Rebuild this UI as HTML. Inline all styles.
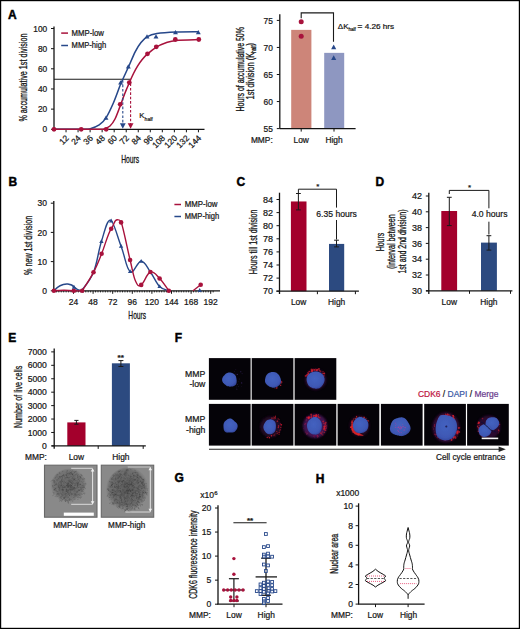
<!DOCTYPE html>
<html><head><meta charset="utf-8"><style>
html,body{margin:0;padding:0;background:#fff;}
svg{display:block;}
text{font-family:"Liberation Sans",sans-serif;stroke:#161616;stroke-width:0.22px;}
text.t{stroke:#161616;stroke-width:0.3px;}
text.L{stroke:#000;stroke-width:0.45px;}
</style></head><body>
<svg width="520" height="629" viewBox="0 0 520 629">
<rect x="0" y="0" width="520" height="629" fill="#fff"/>
<text x="8.00" y="18.70" font-size="12" text-anchor="start" fill="#000" font-weight="bold" class="L" >A</text>
<line x1="54.00" y1="79.20" x2="130.80" y2="79.20" stroke="#1a1a1a" stroke-width="1.1" />
<line x1="54.00" y1="26.50" x2="54.00" y2="129.30" stroke="#141414" stroke-width="1.3" />
<line x1="51.00" y1="129.30" x2="54.00" y2="129.30" stroke="#141414" stroke-width="1" />
<text x="47.20" y="132.40" font-size="8.3" text-anchor="end" fill="#161616" font-weight="normal" >0</text>
<line x1="51.00" y1="109.14" x2="54.00" y2="109.14" stroke="#141414" stroke-width="1" />
<text x="47.20" y="112.24" font-size="8.3" text-anchor="end" fill="#161616" font-weight="normal" >20</text>
<line x1="51.00" y1="88.98" x2="54.00" y2="88.98" stroke="#141414" stroke-width="1" />
<text x="47.20" y="92.08" font-size="8.3" text-anchor="end" fill="#161616" font-weight="normal" >40</text>
<line x1="51.00" y1="68.82" x2="54.00" y2="68.82" stroke="#141414" stroke-width="1" />
<text x="47.20" y="71.92" font-size="8.3" text-anchor="end" fill="#161616" font-weight="normal" >60</text>
<line x1="51.00" y1="48.66" x2="54.00" y2="48.66" stroke="#141414" stroke-width="1" />
<text x="47.20" y="51.76" font-size="8.3" text-anchor="end" fill="#161616" font-weight="normal" >80</text>
<line x1="51.00" y1="28.50" x2="54.00" y2="28.50" stroke="#141414" stroke-width="1" />
<text x="47.20" y="31.60" font-size="8.3" text-anchor="end" fill="#161616" font-weight="normal" >100</text>
<line x1="54.00" y1="129.30" x2="204.50" y2="129.30" stroke="#141414" stroke-width="1.3" />
<line x1="66.04" y1="129.30" x2="66.04" y2="132.30" stroke="#141414" stroke-width="1" />
<text x="69.44" y="138.60" font-size="8.5" text-anchor="end" fill="#161616" font-weight="normal" transform="rotate(-45 69.44 138.60)" >12</text>
<line x1="78.07" y1="129.30" x2="78.07" y2="132.30" stroke="#141414" stroke-width="1" />
<text x="81.47" y="138.60" font-size="8.5" text-anchor="end" fill="#161616" font-weight="normal" transform="rotate(-45 81.47 138.60)" >24</text>
<line x1="90.11" y1="129.30" x2="90.11" y2="132.30" stroke="#141414" stroke-width="1" />
<text x="93.51" y="138.60" font-size="8.5" text-anchor="end" fill="#161616" font-weight="normal" transform="rotate(-45 93.51 138.60)" >36</text>
<line x1="102.14" y1="129.30" x2="102.14" y2="132.30" stroke="#141414" stroke-width="1" />
<text x="105.54" y="138.60" font-size="8.5" text-anchor="end" fill="#161616" font-weight="normal" transform="rotate(-45 105.54 138.60)" >48</text>
<line x1="114.18" y1="129.30" x2="114.18" y2="132.30" stroke="#141414" stroke-width="1" />
<text x="117.58" y="138.60" font-size="8.5" text-anchor="end" fill="#161616" font-weight="normal" transform="rotate(-45 117.58 138.60)" >60</text>
<line x1="126.22" y1="129.30" x2="126.22" y2="132.30" stroke="#141414" stroke-width="1" />
<text x="129.62" y="138.60" font-size="8.5" text-anchor="end" fill="#161616" font-weight="normal" transform="rotate(-45 129.62 138.60)" >72</text>
<line x1="138.25" y1="129.30" x2="138.25" y2="132.30" stroke="#141414" stroke-width="1" />
<text x="141.65" y="138.60" font-size="8.5" text-anchor="end" fill="#161616" font-weight="normal" transform="rotate(-45 141.65 138.60)" >84</text>
<line x1="150.29" y1="129.30" x2="150.29" y2="132.30" stroke="#141414" stroke-width="1" />
<text x="153.69" y="138.60" font-size="8.5" text-anchor="end" fill="#161616" font-weight="normal" transform="rotate(-45 153.69 138.60)" >96</text>
<line x1="162.32" y1="129.30" x2="162.32" y2="132.30" stroke="#141414" stroke-width="1" />
<text x="165.72" y="138.60" font-size="8.5" text-anchor="end" fill="#161616" font-weight="normal" transform="rotate(-45 165.72 138.60)" >108</text>
<line x1="174.36" y1="129.30" x2="174.36" y2="132.30" stroke="#141414" stroke-width="1" />
<text x="177.76" y="138.60" font-size="8.5" text-anchor="end" fill="#161616" font-weight="normal" transform="rotate(-45 177.76 138.60)" >120</text>
<line x1="186.40" y1="129.30" x2="186.40" y2="132.30" stroke="#141414" stroke-width="1" />
<text x="189.80" y="138.60" font-size="8.5" text-anchor="end" fill="#161616" font-weight="normal" transform="rotate(-45 189.80 138.60)" >132</text>
<line x1="198.43" y1="129.30" x2="198.43" y2="132.30" stroke="#141414" stroke-width="1" />
<text x="201.83" y="138.60" font-size="8.5" text-anchor="end" fill="#161616" font-weight="normal" transform="rotate(-45 201.83 138.60)" >144</text>
<path d="M54.00 129.30C58.67 129.30 76.07 129.37 82.00 129.30C87.93 129.23 86.73 129.63 89.60 128.90C92.47 128.17 96.47 126.75 99.20 124.90C101.93 123.05 103.58 121.58 106.00 117.80C108.42 114.02 111.22 107.92 113.70 102.20C116.18 96.48 118.50 89.23 120.90 83.50C123.30 77.77 125.70 73.12 128.10 67.80C130.50 62.48 133.15 55.82 135.30 51.60C137.45 47.38 139.00 45.00 141.00 42.50C143.00 40.00 144.65 38.08 147.30 36.60C149.95 35.12 152.08 34.35 156.90 33.60C161.72 32.85 169.18 32.40 176.20 32.10C183.22 31.80 195.20 31.85 199.00 31.80" stroke="#27488a" stroke-width="1.55" fill="none" />
<path d="M54.00 129.30C61.00 129.30 87.67 129.37 96.00 129.30C104.33 129.23 101.67 129.45 104.00 128.90C106.33 128.35 108.17 127.65 110.00 126.00C111.83 124.35 113.33 122.25 115.00 119.00C116.67 115.75 118.40 110.67 120.00 106.50C121.60 102.33 123.05 97.97 124.60 94.00C126.15 90.03 127.82 86.12 129.30 82.70C130.78 79.28 132.10 76.30 133.50 73.50C134.90 70.70 136.28 68.20 137.70 65.90C139.12 63.60 140.40 61.65 142.00 59.70C143.60 57.75 144.90 56.30 147.30 54.20C149.70 52.10 153.28 49.00 156.40 47.10C159.52 45.20 162.70 43.92 166.00 42.80C169.30 41.68 170.70 40.93 176.20 40.40C181.70 39.87 195.20 39.73 199.00 39.60" stroke="#a8123c" stroke-width="1.55" fill="none" />
<line x1="122.80" y1="80.20" x2="122.80" y2="125.50" stroke="#27488a" stroke-width="1.1" stroke-dasharray="2.6,1.8" />
<path d="M119.9 123.2L125.7 123.2L122.8 128.8Z" fill="#27488a"/>
<line x1="130.60" y1="83.50" x2="130.60" y2="125.50" stroke="#a8123c" stroke-width="1.1" stroke-dasharray="2.6,1.8" />
<path d="M127.7 123.2L133.5 123.2L130.6 128.8Z" fill="#a8123c"/>
<circle cx="54.00" cy="129.30" r="2.4" fill="#a8123c"/>
<circle cx="81.20" cy="129.30" r="2.4" fill="#a8123c"/>
<circle cx="106.20" cy="129.30" r="2.4" fill="#a8123c"/>
<circle cx="120.20" cy="104.30" r="2.4" fill="#a8123c"/>
<circle cx="129.30" cy="82.60" r="2.4" fill="#a8123c"/>
<circle cx="147.50" cy="53.80" r="2.4" fill="#a8123c"/>
<circle cx="156.30" cy="46.80" r="2.4" fill="#a8123c"/>
<circle cx="175.30" cy="39.50" r="2.4" fill="#a8123c"/>
<circle cx="198.80" cy="39.50" r="2.4" fill="#a8123c"/>
<path d="M106.00 115.40L108.47 119.82L103.53 119.82Z" fill="#27488a"/>
<path d="M120.60 80.20L123.07 84.62L118.13 84.62Z" fill="#27488a"/>
<path d="M128.30 64.20L130.77 68.62L125.83 68.62Z" fill="#27488a"/>
<path d="M147.00 34.20L149.47 38.62L144.53 38.62Z" fill="#27488a"/>
<path d="M156.00 34.20L158.47 38.62L153.53 38.62Z" fill="#27488a"/>
<path d="M175.50 29.90L177.97 34.32L173.03 34.32Z" fill="#27488a"/>
<path d="M198.30 29.90L200.77 34.32L195.83 34.32Z" fill="#27488a"/>
<text x="139.30" y="118.40" font-size="7.8" text-anchor="start" fill="#161616" font-weight="normal" >K</text>
<text x="144.60" y="121.00" font-size="5.4" text-anchor="start" fill="#161616" font-weight="normal" textLength="8.2" lengthAdjust="spacingAndGlyphs" >half</text>
<text x="130.20" y="163.20" font-size="10.6" text-anchor="middle" fill="#161616" font-weight="normal" textLength="18" lengthAdjust="spacingAndGlyphs" class="t" >Hours</text>
<text x="26.80" y="77.60" font-size="10.6" text-anchor="middle" fill="#161616" font-weight="normal" textLength="88" lengthAdjust="spacingAndGlyphs" transform="rotate(-90 26.80 77.60)" class="t" >% accumulative 1st division</text>
<line x1="61.20" y1="33.10" x2="68.00" y2="33.10" stroke="#a8123c" stroke-width="1.5" />
<text x="71.60" y="36.00" font-size="8.2" text-anchor="start" fill="#161616" font-weight="normal" textLength="32.3" lengthAdjust="spacingAndGlyphs" >MMP-low</text>
<line x1="61.20" y1="45.50" x2="68.00" y2="45.50" stroke="#27488a" stroke-width="1.5" />
<text x="71.60" y="47.80" font-size="8.2" text-anchor="start" fill="#161616" font-weight="normal" textLength="34.6" lengthAdjust="spacingAndGlyphs" >MMP-high</text>
<rect x="291.2" y="29.87" width="20.2" height="98.73" fill="#cd8579"/>
<rect x="324.2" y="52.86" width="20" height="75.74" fill="#8e97c1"/>
<line x1="279.80" y1="14.20" x2="279.80" y2="128.60" stroke="#141414" stroke-width="1.3" />
<line x1="276.80" y1="128.60" x2="279.80" y2="128.60" stroke="#141414" stroke-width="1" />
<text x="272.80" y="131.70" font-size="8.4" text-anchor="end" fill="#161616" font-weight="normal" >55</text>
<line x1="276.80" y1="101.55" x2="279.80" y2="101.55" stroke="#141414" stroke-width="1" />
<text x="272.80" y="104.65" font-size="8.4" text-anchor="end" fill="#161616" font-weight="normal" >60</text>
<line x1="276.80" y1="74.50" x2="279.80" y2="74.50" stroke="#141414" stroke-width="1" />
<text x="272.80" y="77.60" font-size="8.4" text-anchor="end" fill="#161616" font-weight="normal" >65</text>
<line x1="276.80" y1="47.45" x2="279.80" y2="47.45" stroke="#141414" stroke-width="1" />
<text x="272.80" y="50.55" font-size="8.4" text-anchor="end" fill="#161616" font-weight="normal" >70</text>
<line x1="276.80" y1="20.40" x2="279.80" y2="20.40" stroke="#141414" stroke-width="1" />
<text x="272.80" y="23.50" font-size="8.4" text-anchor="end" fill="#161616" font-weight="normal" >75</text>
<line x1="279.80" y1="128.60" x2="355.60" y2="128.60" stroke="#141414" stroke-width="1.3" />
<line x1="301.20" y1="128.60" x2="301.20" y2="131.60" stroke="#141414" stroke-width="1" />
<line x1="334.00" y1="128.60" x2="334.00" y2="131.60" stroke="#141414" stroke-width="1" />
<circle cx="301.20" cy="21.80" r="2.5" fill="#a8123c"/>
<circle cx="301.20" cy="36.30" r="2.5" fill="#a8123c"/>
<path d="M333.70 44.60L336.26 49.19L331.13 49.19Z" fill="#27488a"/>
<path d="M333.70 55.30L336.26 59.89L331.13 59.89Z" fill="#27488a"/>
<path d="M301.2 18.2V12.9H333.5V41.8" stroke="#1a1a1a" stroke-width="1.1" fill="none" />
<text x="337.80" y="28.90" font-size="8.0" text-anchor="start" fill="#161616" font-weight="normal" >ΔK</text>
<text x="348.40" y="30.80" font-size="5.2" text-anchor="start" fill="#161616" font-weight="normal" textLength="7.5" lengthAdjust="spacingAndGlyphs" >half</text>
<text x="357.60" y="28.90" font-size="8.0" text-anchor="start" fill="#161616" font-weight="normal" textLength="36.6" lengthAdjust="spacingAndGlyphs" >= 4.26 hrs</text>
<text x="250.90" y="142.70" font-size="8.4" text-anchor="start" fill="#161616" font-weight="normal" >MMP:</text>
<text x="301.20" y="142.70" font-size="8.4" text-anchor="middle" fill="#161616" font-weight="normal" >Low</text>
<text x="334.00" y="142.70" font-size="8.4" text-anchor="middle" fill="#161616" font-weight="normal" >High</text>
<text x="243.60" y="69.30" font-size="10.6" text-anchor="middle" fill="#161616" font-weight="normal" textLength="84.2" lengthAdjust="spacingAndGlyphs" transform="rotate(-90 243.60 69.30)" class="t" >Hours of accumulative 50%</text>
<text class="t" transform="translate(254 71.2) rotate(-90)" font-size="10.6" text-anchor="middle" fill="#161616" textLength="56.5" lengthAdjust="spacingAndGlyphs">1st division (K<tspan font-size="6.5" dy="2">half</tspan><tspan dy="-2">)</tspan></text>
<text x="8.40" y="185.90" font-size="12" text-anchor="start" fill="#000" font-weight="bold" class="L" >B</text>
<line x1="53.80" y1="201.00" x2="53.80" y2="290.80" stroke="#141414" stroke-width="1.3" />
<line x1="50.80" y1="290.80" x2="53.80" y2="290.80" stroke="#141414" stroke-width="1" />
<text x="46.90" y="293.90" font-size="8.5" text-anchor="end" fill="#161616" font-weight="normal" >0</text>
<line x1="50.80" y1="261.60" x2="53.80" y2="261.60" stroke="#141414" stroke-width="1" />
<text x="46.90" y="264.70" font-size="8.5" text-anchor="end" fill="#161616" font-weight="normal" >10</text>
<line x1="50.80" y1="232.40" x2="53.80" y2="232.40" stroke="#141414" stroke-width="1" />
<text x="46.90" y="235.50" font-size="8.5" text-anchor="end" fill="#161616" font-weight="normal" >20</text>
<line x1="50.80" y1="203.20" x2="53.80" y2="203.20" stroke="#141414" stroke-width="1" />
<text x="46.90" y="206.30" font-size="8.5" text-anchor="end" fill="#161616" font-weight="normal" >30</text>
<line x1="53.80" y1="290.80" x2="220.00" y2="290.80" stroke="#141414" stroke-width="1.3" />
<line x1="56.35" y1="290.80" x2="56.35" y2="292.40" stroke="#141414" stroke-width="0.9" />
<line x1="58.80" y1="290.80" x2="58.80" y2="292.40" stroke="#141414" stroke-width="0.9" />
<line x1="61.25" y1="290.80" x2="61.25" y2="292.40" stroke="#141414" stroke-width="0.9" />
<line x1="63.70" y1="290.80" x2="63.70" y2="292.40" stroke="#141414" stroke-width="0.9" />
<line x1="66.15" y1="290.80" x2="66.15" y2="292.40" stroke="#141414" stroke-width="0.9" />
<line x1="68.60" y1="290.80" x2="68.60" y2="292.40" stroke="#141414" stroke-width="0.9" />
<line x1="71.05" y1="290.80" x2="71.05" y2="292.40" stroke="#141414" stroke-width="0.9" />
<line x1="73.50" y1="290.80" x2="73.50" y2="293.80" stroke="#141414" stroke-width="1" />
<line x1="75.95" y1="290.80" x2="75.95" y2="292.40" stroke="#141414" stroke-width="0.9" />
<line x1="78.40" y1="290.80" x2="78.40" y2="292.40" stroke="#141414" stroke-width="0.9" />
<line x1="80.85" y1="290.80" x2="80.85" y2="292.40" stroke="#141414" stroke-width="0.9" />
<line x1="83.30" y1="290.80" x2="83.30" y2="292.40" stroke="#141414" stroke-width="0.9" />
<line x1="85.75" y1="290.80" x2="85.75" y2="292.40" stroke="#141414" stroke-width="0.9" />
<line x1="88.20" y1="290.80" x2="88.20" y2="292.40" stroke="#141414" stroke-width="0.9" />
<line x1="90.65" y1="290.80" x2="90.65" y2="292.40" stroke="#141414" stroke-width="0.9" />
<line x1="93.10" y1="290.80" x2="93.10" y2="293.80" stroke="#141414" stroke-width="1" />
<line x1="95.55" y1="290.80" x2="95.55" y2="292.40" stroke="#141414" stroke-width="0.9" />
<line x1="98.00" y1="290.80" x2="98.00" y2="292.40" stroke="#141414" stroke-width="0.9" />
<line x1="100.45" y1="290.80" x2="100.45" y2="292.40" stroke="#141414" stroke-width="0.9" />
<line x1="102.90" y1="290.80" x2="102.90" y2="292.40" stroke="#141414" stroke-width="0.9" />
<line x1="105.35" y1="290.80" x2="105.35" y2="292.40" stroke="#141414" stroke-width="0.9" />
<line x1="107.80" y1="290.80" x2="107.80" y2="292.40" stroke="#141414" stroke-width="0.9" />
<line x1="110.25" y1="290.80" x2="110.25" y2="292.40" stroke="#141414" stroke-width="0.9" />
<line x1="112.70" y1="290.80" x2="112.70" y2="293.80" stroke="#141414" stroke-width="1" />
<line x1="115.15" y1="290.80" x2="115.15" y2="292.40" stroke="#141414" stroke-width="0.9" />
<line x1="117.60" y1="290.80" x2="117.60" y2="292.40" stroke="#141414" stroke-width="0.9" />
<line x1="120.05" y1="290.80" x2="120.05" y2="292.40" stroke="#141414" stroke-width="0.9" />
<line x1="122.50" y1="290.80" x2="122.50" y2="292.40" stroke="#141414" stroke-width="0.9" />
<line x1="124.95" y1="290.80" x2="124.95" y2="292.40" stroke="#141414" stroke-width="0.9" />
<line x1="127.40" y1="290.80" x2="127.40" y2="292.40" stroke="#141414" stroke-width="0.9" />
<line x1="129.85" y1="290.80" x2="129.85" y2="292.40" stroke="#141414" stroke-width="0.9" />
<line x1="132.30" y1="290.80" x2="132.30" y2="293.80" stroke="#141414" stroke-width="1" />
<line x1="134.75" y1="290.80" x2="134.75" y2="292.40" stroke="#141414" stroke-width="0.9" />
<line x1="137.20" y1="290.80" x2="137.20" y2="292.40" stroke="#141414" stroke-width="0.9" />
<line x1="139.65" y1="290.80" x2="139.65" y2="292.40" stroke="#141414" stroke-width="0.9" />
<line x1="142.10" y1="290.80" x2="142.10" y2="292.40" stroke="#141414" stroke-width="0.9" />
<line x1="144.55" y1="290.80" x2="144.55" y2="292.40" stroke="#141414" stroke-width="0.9" />
<line x1="147.00" y1="290.80" x2="147.00" y2="292.40" stroke="#141414" stroke-width="0.9" />
<line x1="149.45" y1="290.80" x2="149.45" y2="292.40" stroke="#141414" stroke-width="0.9" />
<line x1="151.90" y1="290.80" x2="151.90" y2="293.80" stroke="#141414" stroke-width="1" />
<line x1="154.35" y1="290.80" x2="154.35" y2="292.40" stroke="#141414" stroke-width="0.9" />
<line x1="156.80" y1="290.80" x2="156.80" y2="292.40" stroke="#141414" stroke-width="0.9" />
<line x1="159.25" y1="290.80" x2="159.25" y2="292.40" stroke="#141414" stroke-width="0.9" />
<line x1="161.70" y1="290.80" x2="161.70" y2="292.40" stroke="#141414" stroke-width="0.9" />
<line x1="164.15" y1="290.80" x2="164.15" y2="292.40" stroke="#141414" stroke-width="0.9" />
<line x1="166.60" y1="290.80" x2="166.60" y2="292.40" stroke="#141414" stroke-width="0.9" />
<line x1="169.05" y1="290.80" x2="169.05" y2="292.40" stroke="#141414" stroke-width="0.9" />
<line x1="171.50" y1="290.80" x2="171.50" y2="293.80" stroke="#141414" stroke-width="1" />
<line x1="173.95" y1="290.80" x2="173.95" y2="292.40" stroke="#141414" stroke-width="0.9" />
<line x1="176.41" y1="290.80" x2="176.41" y2="292.40" stroke="#141414" stroke-width="0.9" />
<line x1="178.86" y1="290.80" x2="178.86" y2="292.40" stroke="#141414" stroke-width="0.9" />
<line x1="181.31" y1="290.80" x2="181.31" y2="292.40" stroke="#141414" stroke-width="0.9" />
<line x1="183.76" y1="290.80" x2="183.76" y2="292.40" stroke="#141414" stroke-width="0.9" />
<line x1="186.21" y1="290.80" x2="186.21" y2="292.40" stroke="#141414" stroke-width="0.9" />
<line x1="188.66" y1="290.80" x2="188.66" y2="292.40" stroke="#141414" stroke-width="0.9" />
<line x1="191.11" y1="290.80" x2="191.11" y2="293.80" stroke="#141414" stroke-width="1" />
<line x1="193.56" y1="290.80" x2="193.56" y2="292.40" stroke="#141414" stroke-width="0.9" />
<line x1="196.01" y1="290.80" x2="196.01" y2="292.40" stroke="#141414" stroke-width="0.9" />
<line x1="198.46" y1="290.80" x2="198.46" y2="292.40" stroke="#141414" stroke-width="0.9" />
<line x1="200.91" y1="290.80" x2="200.91" y2="292.40" stroke="#141414" stroke-width="0.9" />
<line x1="203.36" y1="290.80" x2="203.36" y2="292.40" stroke="#141414" stroke-width="0.9" />
<line x1="205.81" y1="290.80" x2="205.81" y2="292.40" stroke="#141414" stroke-width="0.9" />
<line x1="208.26" y1="290.80" x2="208.26" y2="292.40" stroke="#141414" stroke-width="0.9" />
<line x1="210.71" y1="290.80" x2="210.71" y2="293.80" stroke="#141414" stroke-width="1" />
<line x1="213.16" y1="290.80" x2="213.16" y2="292.40" stroke="#141414" stroke-width="0.9" />
<path d="M53.9 290.7C58 286 63 283.6 67.8 284C71 284.3 73 285.5 74 287.1C76 289 78.5 290.7 81.5 290.7C83.90 287.02 89.52 282.14 93.50 272.30C97.48 262.46 98.06 251.94 101.40 241.50C104.74 231.06 106.87 220.10 110.20 220.10C113.53 220.10 117.12 235.92 121.10 246.20C125.08 256.48 126.08 268.50 130.10 271.50C134.12 274.50 137.14 261.10 141.20 261.20C145.26 261.30 146.72 266.94 150.40 272.00C154.08 277.06 155.92 282.76 159.60 286.50C163.28 290.24 166.96 289.86 168.80 290.70" stroke="#27488a" stroke-width="1.4" fill="none" />
<path d="M53.9 290.7C60 290.2 68 290.2 73.8 290.7C76 290.9 79 290.9 82.2 290.7C84.46 287.02 89.62 279.68 93.50 272.30C97.38 264.92 98.06 262.50 101.60 253.80C105.14 245.10 107.87 233.47 111.20 228.80C114.53 224.13 114.20 219.70 117.20 219.70C120.20 219.70 119.43 219.73 121.10 222.40C122.77 225.07 127.22 248.28 130.10 260.00C132.98 271.72 133.28 276.02 135.50 281.00C137.72 285.98 138.22 286.70 141.20 284.90C144.18 283.10 146.72 273.28 150.40 272.00C154.08 270.72 155.92 274.76 159.60 278.50C163.28 282.24 166.96 288.26 168.80 290.70" stroke="#a8123c" stroke-width="1.4" fill="none" />
<path d="M193 290.8L200.7 284.8" stroke="#a8123c" stroke-width="1.4" fill="none" />
<text x="73.50" y="305.30" font-size="8.5" text-anchor="middle" fill="#161616" font-weight="normal" >24</text>
<text x="93.10" y="305.30" font-size="8.5" text-anchor="middle" fill="#161616" font-weight="normal" >48</text>
<text x="112.70" y="305.30" font-size="8.5" text-anchor="middle" fill="#161616" font-weight="normal" >72</text>
<text x="132.30" y="305.30" font-size="8.5" text-anchor="middle" fill="#161616" font-weight="normal" >96</text>
<text x="151.90" y="305.30" font-size="8.5" text-anchor="middle" fill="#161616" font-weight="normal" >120</text>
<text x="171.50" y="305.30" font-size="8.5" text-anchor="middle" fill="#161616" font-weight="normal" >144</text>
<text x="191.11" y="305.30" font-size="8.5" text-anchor="middle" fill="#161616" font-weight="normal" >168</text>
<text x="210.71" y="305.30" font-size="8.5" text-anchor="middle" fill="#161616" font-weight="normal" >192</text>
<text x="137.20" y="318.70" font-size="10.6" text-anchor="middle" fill="#161616" font-weight="normal" textLength="17.7" lengthAdjust="spacingAndGlyphs" class="t" >Hours</text>
<text x="32.40" y="245.40" font-size="10.6" text-anchor="middle" fill="#161616" font-weight="normal" textLength="59.2" lengthAdjust="spacingAndGlyphs" transform="rotate(-90 32.40 245.40)" class="t" >% new 1st division</text>
<circle cx="53.90" cy="290.70" r="2.3" fill="#a8123c"/>
<circle cx="73.80" cy="290.70" r="2.3" fill="#a8123c"/>
<circle cx="82.20" cy="290.70" r="2.3" fill="#a8123c"/>
<circle cx="93.50" cy="272.30" r="2.3" fill="#a8123c"/>
<circle cx="101.60" cy="253.80" r="2.3" fill="#a8123c"/>
<circle cx="111.20" cy="228.80" r="2.3" fill="#a8123c"/>
<circle cx="121.10" cy="222.40" r="2.3" fill="#a8123c"/>
<circle cx="130.10" cy="260.00" r="2.3" fill="#a8123c"/>
<circle cx="141.20" cy="284.90" r="2.3" fill="#a8123c"/>
<circle cx="150.40" cy="272.00" r="2.3" fill="#a8123c"/>
<circle cx="159.60" cy="278.50" r="2.3" fill="#a8123c"/>
<circle cx="168.80" cy="290.70" r="2.3" fill="#a8123c"/>
<circle cx="200.70" cy="284.80" r="2.3" fill="#a8123c"/>
<path d="M74.00 284.80L76.19 288.71L71.81 288.71Z" fill="#27488a"/>
<path d="M101.40 239.20L103.59 243.11L99.22 243.11Z" fill="#27488a"/>
<path d="M111.20 218.50L113.39 222.41L109.02 222.41Z" fill="#27488a"/>
<path d="M121.10 243.90L123.28 247.81L118.91 247.81Z" fill="#27488a"/>
<path d="M130.10 269.20L132.28 273.11L127.91 273.11Z" fill="#27488a"/>
<path d="M141.20 258.90L143.38 262.81L139.01 262.81Z" fill="#27488a"/>
<path d="M159.60 284.20L161.78 288.11L157.41 288.11Z" fill="#27488a"/>
<path d="M199.70 288.00L201.88 291.91L197.51 291.91Z" fill="#27488a"/>
<line x1="174.40" y1="204.50" x2="181.00" y2="204.50" stroke="#a8123c" stroke-width="1.5" />
<text x="184.80" y="207.20" font-size="8.2" text-anchor="start" fill="#161616" font-weight="normal" textLength="32.7" lengthAdjust="spacingAndGlyphs" >MMP-low</text>
<line x1="174.40" y1="216.50" x2="181.00" y2="216.50" stroke="#27488a" stroke-width="1.5" />
<text x="184.80" y="219.20" font-size="8.2" text-anchor="start" fill="#161616" font-weight="normal" textLength="34.4" lengthAdjust="spacingAndGlyphs" >MMP-high</text>
<text x="236.40" y="186.40" font-size="12" text-anchor="start" fill="#000" font-weight="bold" class="L" >C</text>
<rect x="290.9" y="201.46" width="15.6" height="89.74" fill="#a3002c"/>
<rect x="329" y="243.91" width="15.2" height="47.29" fill="#2c4a80"/>
<line x1="298.40" y1="193.50" x2="298.40" y2="209.90" stroke="#1a1a1a" stroke-width="1" />
<line x1="296.00" y1="193.50" x2="300.80" y2="193.50" stroke="#1a1a1a" stroke-width="1" />
<line x1="296.00" y1="209.90" x2="300.80" y2="209.90" stroke="#1a1a1a" stroke-width="1" />
<line x1="336.50" y1="240.20" x2="336.50" y2="246.90" stroke="#1a1a1a" stroke-width="1" />
<line x1="334.10" y1="240.20" x2="338.90" y2="240.20" stroke="#1a1a1a" stroke-width="1" />
<line x1="334.10" y1="246.90" x2="338.90" y2="246.90" stroke="#1a1a1a" stroke-width="1" />
<path d="M298.4 193V189.2H336.5V207.6" stroke="#1a1a1a" stroke-width="1" fill="none" />
<line x1="336.50" y1="220.00" x2="336.50" y2="239.50" stroke="#1a1a1a" stroke-width="1" />
<text x="336.60" y="217.40" font-size="8.6" text-anchor="middle" fill="#161616" font-weight="normal" >6.35 hours</text>
<text x="317.80" y="189.00" font-size="8" text-anchor="middle" fill="#161616" font-weight="normal" >*</text>
<line x1="279.50" y1="192.70" x2="279.50" y2="294.00" stroke="#141414" stroke-width="1.3" />
<line x1="276.50" y1="291.20" x2="279.50" y2="291.20" stroke="#141414" stroke-width="1" />
<text x="272.90" y="294.30" font-size="9.0" text-anchor="end" fill="#161616" font-weight="normal" >70</text>
<line x1="276.50" y1="278.10" x2="279.50" y2="278.10" stroke="#141414" stroke-width="1" />
<text x="272.90" y="281.20" font-size="9.0" text-anchor="end" fill="#161616" font-weight="normal" >72</text>
<line x1="276.50" y1="265.00" x2="279.50" y2="265.00" stroke="#141414" stroke-width="1" />
<text x="272.90" y="268.10" font-size="9.0" text-anchor="end" fill="#161616" font-weight="normal" >74</text>
<line x1="276.50" y1="251.90" x2="279.50" y2="251.90" stroke="#141414" stroke-width="1" />
<text x="272.90" y="255.00" font-size="9.0" text-anchor="end" fill="#161616" font-weight="normal" >76</text>
<line x1="276.50" y1="238.80" x2="279.50" y2="238.80" stroke="#141414" stroke-width="1" />
<text x="272.90" y="241.90" font-size="9.0" text-anchor="end" fill="#161616" font-weight="normal" >78</text>
<line x1="276.50" y1="225.70" x2="279.50" y2="225.70" stroke="#141414" stroke-width="1" />
<text x="272.90" y="228.80" font-size="9.0" text-anchor="end" fill="#161616" font-weight="normal" >80</text>
<line x1="276.50" y1="212.60" x2="279.50" y2="212.60" stroke="#141414" stroke-width="1" />
<text x="272.90" y="215.70" font-size="9.0" text-anchor="end" fill="#161616" font-weight="normal" >82</text>
<line x1="276.50" y1="199.50" x2="279.50" y2="199.50" stroke="#141414" stroke-width="1" />
<text x="272.90" y="202.60" font-size="9.0" text-anchor="end" fill="#161616" font-weight="normal" >84</text>
<line x1="276.40" y1="291.20" x2="358.90" y2="291.20" stroke="#141414" stroke-width="1.3" />
<line x1="317.40" y1="291.20" x2="317.40" y2="294.20" stroke="#141414" stroke-width="1" />
<line x1="355.40" y1="291.20" x2="355.40" y2="294.20" stroke="#141414" stroke-width="1" />
<text x="298.60" y="305.10" font-size="8.4" text-anchor="middle" fill="#161616" font-weight="normal" >Low</text>
<text x="336.60" y="305.10" font-size="8.4" text-anchor="middle" fill="#161616" font-weight="normal" >High</text>
<text x="257.30" y="241.90" font-size="10.6" text-anchor="middle" fill="#161616" font-weight="normal" textLength="64.9" lengthAdjust="spacingAndGlyphs" transform="rotate(-90 257.30 241.90)" class="t" >Hours till 1st division</text>
<text x="375.60" y="186.00" font-size="12" text-anchor="start" fill="#000" font-weight="bold" class="L" >D</text>
<rect x="441.3" y="211.01" width="15.8" height="79.79" fill="#a3002c"/>
<rect x="481" y="242.61" width="15.9" height="48.19" fill="#2c4a80"/>
<line x1="449.30" y1="197.30" x2="449.30" y2="225.60" stroke="#1a1a1a" stroke-width="1" />
<line x1="446.90" y1="197.30" x2="451.70" y2="197.30" stroke="#1a1a1a" stroke-width="1" />
<line x1="446.90" y1="225.60" x2="451.70" y2="225.60" stroke="#1a1a1a" stroke-width="1" />
<line x1="488.90" y1="235.70" x2="488.90" y2="250.10" stroke="#1a1a1a" stroke-width="1" />
<line x1="486.50" y1="235.70" x2="491.30" y2="235.70" stroke="#1a1a1a" stroke-width="1" />
<line x1="486.50" y1="250.10" x2="491.30" y2="250.10" stroke="#1a1a1a" stroke-width="1" />
<path d="M449.3 194V190.4H488.9V208.3" stroke="#1a1a1a" stroke-width="1" fill="none" />
<line x1="488.90" y1="221.70" x2="488.90" y2="234.50" stroke="#1a1a1a" stroke-width="1" />
<text x="489.60" y="217.10" font-size="8.6" text-anchor="middle" fill="#161616" font-weight="normal" >4.0 hours</text>
<text x="469.50" y="190.00" font-size="8" text-anchor="middle" fill="#161616" font-weight="normal" >*</text>
<line x1="428.80" y1="192.80" x2="428.80" y2="294.00" stroke="#141414" stroke-width="1.3" />
<line x1="425.80" y1="290.80" x2="428.80" y2="290.80" stroke="#141414" stroke-width="1" />
<text x="422.00" y="293.90" font-size="9.0" text-anchor="end" fill="#161616" font-weight="normal" >30</text>
<line x1="425.80" y1="275.00" x2="428.80" y2="275.00" stroke="#141414" stroke-width="1" />
<text x="422.00" y="278.10" font-size="9.0" text-anchor="end" fill="#161616" font-weight="normal" >32</text>
<line x1="425.80" y1="259.20" x2="428.80" y2="259.20" stroke="#141414" stroke-width="1" />
<text x="422.00" y="262.30" font-size="9.0" text-anchor="end" fill="#161616" font-weight="normal" >34</text>
<line x1="425.80" y1="243.40" x2="428.80" y2="243.40" stroke="#141414" stroke-width="1" />
<text x="422.00" y="246.50" font-size="9.0" text-anchor="end" fill="#161616" font-weight="normal" >36</text>
<line x1="425.80" y1="227.60" x2="428.80" y2="227.60" stroke="#141414" stroke-width="1" />
<text x="422.00" y="230.70" font-size="9.0" text-anchor="end" fill="#161616" font-weight="normal" >38</text>
<line x1="425.80" y1="211.80" x2="428.80" y2="211.80" stroke="#141414" stroke-width="1" />
<text x="422.00" y="214.90" font-size="9.0" text-anchor="end" fill="#161616" font-weight="normal" >40</text>
<line x1="425.80" y1="196.00" x2="428.80" y2="196.00" stroke="#141414" stroke-width="1" />
<text x="422.00" y="199.10" font-size="9.0" text-anchor="end" fill="#161616" font-weight="normal" >42</text>
<line x1="426.00" y1="290.80" x2="512.40" y2="290.80" stroke="#141414" stroke-width="1.3" />
<line x1="469.50" y1="290.80" x2="469.50" y2="293.80" stroke="#141414" stroke-width="1" />
<line x1="510.50" y1="290.80" x2="510.50" y2="293.80" stroke="#141414" stroke-width="1" />
<text x="449.30" y="305.10" font-size="8.4" text-anchor="middle" fill="#161616" font-weight="normal" >Low</text>
<text x="488.90" y="305.10" font-size="8.4" text-anchor="middle" fill="#161616" font-weight="normal" >High</text>
<text x="384.30" y="242.00" font-size="10.6" text-anchor="middle" fill="#161616" font-weight="normal" textLength="18.4" lengthAdjust="spacingAndGlyphs" transform="rotate(-90 384.30 242.00)" class="t" >Hours</text>
<text x="395.20" y="241.70" font-size="10.6" text-anchor="middle" fill="#161616" font-weight="normal" textLength="54.7" lengthAdjust="spacingAndGlyphs" transform="rotate(-90 395.20 241.70)" class="t" >(interval between</text>
<text x="406.40" y="241.50" font-size="10.6" text-anchor="middle" fill="#161616" font-weight="normal" textLength="64" lengthAdjust="spacingAndGlyphs" transform="rotate(-90 406.40 241.50)" class="t" >1st and 2nd division)</text>
<text x="8.30" y="341.60" font-size="12" text-anchor="start" fill="#000" font-weight="bold" class="L" >E</text>
<rect x="67.3" y="422.40" width="18.2" height="23.50" fill="#a3002c"/>
<rect x="111.9" y="363.31" width="18" height="82.59" fill="#2c4a80"/>
<line x1="76.40" y1="420.40" x2="76.40" y2="424.20" stroke="#1a1a1a" stroke-width="1" />
<line x1="74.30" y1="420.40" x2="78.50" y2="420.40" stroke="#1a1a1a" stroke-width="1" />
<line x1="74.30" y1="424.20" x2="78.50" y2="424.20" stroke="#1a1a1a" stroke-width="1" />
<line x1="120.90" y1="360.60" x2="120.90" y2="366.50" stroke="#1a1a1a" stroke-width="1" />
<line x1="118.40" y1="360.60" x2="123.40" y2="360.60" stroke="#1a1a1a" stroke-width="1" />
<line x1="118.40" y1="366.50" x2="123.40" y2="366.50" stroke="#1a1a1a" stroke-width="1" />
<text x="120.70" y="359.90" font-size="8" text-anchor="middle" fill="#161616" font-weight="bold" >**</text>
<line x1="54.20" y1="348.50" x2="54.20" y2="448.70" stroke="#141414" stroke-width="1.3" />
<line x1="51.20" y1="445.90" x2="54.20" y2="445.90" stroke="#141414" stroke-width="1" />
<text x="46.90" y="449.00" font-size="8.6" text-anchor="end" fill="#161616" font-weight="normal" >0</text>
<line x1="51.20" y1="432.47" x2="54.20" y2="432.47" stroke="#141414" stroke-width="1" />
<text x="46.90" y="435.57" font-size="8.6" text-anchor="end" fill="#161616" font-weight="normal" >1000</text>
<line x1="51.20" y1="419.04" x2="54.20" y2="419.04" stroke="#141414" stroke-width="1" />
<text x="46.90" y="422.14" font-size="8.6" text-anchor="end" fill="#161616" font-weight="normal" >2000</text>
<line x1="51.20" y1="405.61" x2="54.20" y2="405.61" stroke="#141414" stroke-width="1" />
<text x="46.90" y="408.71" font-size="8.6" text-anchor="end" fill="#161616" font-weight="normal" >3000</text>
<line x1="51.20" y1="392.18" x2="54.20" y2="392.18" stroke="#141414" stroke-width="1" />
<text x="46.90" y="395.28" font-size="8.6" text-anchor="end" fill="#161616" font-weight="normal" >4000</text>
<line x1="51.20" y1="378.75" x2="54.20" y2="378.75" stroke="#141414" stroke-width="1" />
<text x="46.90" y="381.85" font-size="8.6" text-anchor="end" fill="#161616" font-weight="normal" >5000</text>
<line x1="51.20" y1="365.32" x2="54.20" y2="365.32" stroke="#141414" stroke-width="1" />
<text x="46.90" y="368.42" font-size="8.6" text-anchor="end" fill="#161616" font-weight="normal" >6000</text>
<line x1="51.20" y1="351.89" x2="54.20" y2="351.89" stroke="#141414" stroke-width="1" />
<text x="46.90" y="354.99" font-size="8.6" text-anchor="end" fill="#161616" font-weight="normal" >7000</text>
<line x1="51.60" y1="445.90" x2="145.80" y2="445.90" stroke="#141414" stroke-width="1.3" />
<line x1="98.20" y1="445.90" x2="98.20" y2="448.90" stroke="#141414" stroke-width="1" />
<line x1="143.20" y1="445.90" x2="143.20" y2="448.90" stroke="#141414" stroke-width="1" />
<text x="25.00" y="459.50" font-size="8.4" text-anchor="start" fill="#161616" font-weight="normal" >MMP:</text>
<text x="76.40" y="459.50" font-size="8.4" text-anchor="middle" fill="#161616" font-weight="normal" >Low</text>
<text x="120.90" y="459.50" font-size="8.4" text-anchor="middle" fill="#161616" font-weight="normal" >High</text>
<text x="22.20" y="396.90" font-size="10.6" text-anchor="middle" fill="#161616" font-weight="normal" textLength="62.2" lengthAdjust="spacingAndGlyphs" transform="rotate(-90 22.20 396.90)" class="t" >Number of live cells</text>
<defs><radialGradient id="blob1" cx="48%" cy="46%" r="50%"><stop offset="0" stop-color="#4a4a4a" stop-opacity="0.7"/><stop offset="0.8" stop-color="#555" stop-opacity="0.5"/><stop offset="1" stop-color="#666" stop-opacity="0"/></radialGradient><radialGradient id="nuc" cx="45%" cy="42%" r="62%"><stop offset="0" stop-color="#4462c0"/><stop offset="0.75" stop-color="#3e58b4"/><stop offset="1" stop-color="#33449a"/></radialGradient><radialGradient id="cyto" cx="50%" cy="50%" r="50%"><stop offset="0.55" stop-color="#5a1a5a" stop-opacity="0.9"/><stop offset="1" stop-color="#300a30" stop-opacity="0"/></radialGradient><filter id="b04" x="-50%" y="-50%" width="200%" height="200%"><feGaussianBlur stdDeviation="0.45"/></filter><filter id="b07" x="-50%" y="-50%" width="200%" height="200%"><feGaussianBlur stdDeviation="0.7"/></filter><filter id="b12" x="-50%" y="-50%" width="200%" height="200%"><feGaussianBlur stdDeviation="1.2"/></filter></defs>
<rect x="44.5" y="465.2" width="52.5" height="52" fill="#898989" stroke="#686868" stroke-width="1.1"/>
<ellipse cx="69" cy="486" rx="18.375" ry="17.325" fill="url(#blob1)" opacity="0.8"/>
<g filter="url(#b04)">
<line x1="79.7" y1="497.4" x2="79.0" y2="498.0" stroke="rgb(51,51,51)" stroke-width="0.7" opacity="0.37"/>
<line x1="63.2" y1="491.2" x2="62.4" y2="491.6" stroke="rgb(66,66,66)" stroke-width="0.7" opacity="0.35"/>
<line x1="69.1" y1="485.2" x2="68.1" y2="486.0" stroke="rgb(63,63,63)" stroke-width="0.7" opacity="0.41"/>
<line x1="76.9" y1="491.6" x2="76.8" y2="492.4" stroke="rgb(36,36,36)" stroke-width="0.7" opacity="0.53"/>
<line x1="63.0" y1="491.2" x2="62.9" y2="493.2" stroke="rgb(62,62,62)" stroke-width="0.7" opacity="0.47"/>
<line x1="81.1" y1="481.4" x2="82.0" y2="482.2" stroke="rgb(57,57,57)" stroke-width="0.7" opacity="0.36"/>
<line x1="68.4" y1="488.3" x2="66.2" y2="488.9" stroke="rgb(88,88,88)" stroke-width="0.7" opacity="0.24"/>
<line x1="61.4" y1="478.4" x2="61.4" y2="480.8" stroke="rgb(81,81,81)" stroke-width="0.7" opacity="0.54"/>
<line x1="64.3" y1="485.8" x2="64.2" y2="487.9" stroke="rgb(66,66,66)" stroke-width="0.7" opacity="0.41"/>
<line x1="77.4" y1="487.7" x2="76.7" y2="489.0" stroke="rgb(86,86,86)" stroke-width="0.7" opacity="0.33"/>
<line x1="80.4" y1="476.2" x2="80.4" y2="477.7" stroke="rgb(40,40,40)" stroke-width="0.7" opacity="0.47"/>
<line x1="58.1" y1="484.6" x2="58.3" y2="486.6" stroke="rgb(66,66,66)" stroke-width="0.7" opacity="0.31"/>
<line x1="76.9" y1="475.5" x2="78.2" y2="476.2" stroke="rgb(72,72,72)" stroke-width="0.7" opacity="0.38"/>
<line x1="84.3" y1="484.4" x2="84.8" y2="486.0" stroke="rgb(90,90,90)" stroke-width="0.7" opacity="0.32"/>
<line x1="75.0" y1="478.0" x2="74.4" y2="479.7" stroke="rgb(52,52,52)" stroke-width="0.7" opacity="0.46"/>
<line x1="56.9" y1="496.2" x2="58.4" y2="496.8" stroke="rgb(82,82,82)" stroke-width="0.7" opacity="0.47"/>
<line x1="70.7" y1="491.6" x2="70.7" y2="492.8" stroke="rgb(70,70,70)" stroke-width="0.7" opacity="0.37"/>
<line x1="62.6" y1="493.6" x2="61.3" y2="494.6" stroke="rgb(69,69,69)" stroke-width="0.7" opacity="0.32"/>
<line x1="56.3" y1="477.3" x2="54.7" y2="478.0" stroke="rgb(70,70,70)" stroke-width="0.7" opacity="0.48"/>
<line x1="72.9" y1="474.0" x2="72.0" y2="474.4" stroke="rgb(78,78,78)" stroke-width="0.7" opacity="0.36"/>
<line x1="69.2" y1="477.3" x2="68.9" y2="478.2" stroke="rgb(52,52,52)" stroke-width="0.7" opacity="0.32"/>
<line x1="75.3" y1="488.8" x2="74.2" y2="490.8" stroke="rgb(68,68,68)" stroke-width="0.7" opacity="0.43"/>
<line x1="65.0" y1="499.3" x2="66.5" y2="499.4" stroke="rgb(66,66,66)" stroke-width="0.7" opacity="0.34"/>
<line x1="62.3" y1="489.4" x2="61.5" y2="490.3" stroke="rgb(41,41,41)" stroke-width="0.7" opacity="0.54"/>
<line x1="80.2" y1="483.7" x2="80.6" y2="484.8" stroke="rgb(36,36,36)" stroke-width="0.7" opacity="0.21"/>
<line x1="80.3" y1="483.3" x2="80.1" y2="485.1" stroke="rgb(67,67,67)" stroke-width="0.7" opacity="0.28"/>
<line x1="84.4" y1="483.7" x2="86.1" y2="483.9" stroke="rgb(49,49,49)" stroke-width="0.7" opacity="0.44"/>
<line x1="73.7" y1="473.3" x2="74.2" y2="474.1" stroke="rgb(62,62,62)" stroke-width="0.7" opacity="0.54"/>
<line x1="75.9" y1="479.6" x2="75.0" y2="479.8" stroke="rgb(89,89,89)" stroke-width="0.7" opacity="0.30"/>
<line x1="76.2" y1="496.4" x2="75.4" y2="496.7" stroke="rgb(43,43,43)" stroke-width="0.7" opacity="0.21"/>
<line x1="76.3" y1="471.3" x2="74.3" y2="472.2" stroke="rgb(45,45,45)" stroke-width="0.7" opacity="0.47"/>
<line x1="66.6" y1="483.8" x2="67.7" y2="484.6" stroke="rgb(47,47,47)" stroke-width="0.7" opacity="0.44"/>
<line x1="62.0" y1="489.0" x2="62.7" y2="491.1" stroke="rgb(41,41,41)" stroke-width="0.7" opacity="0.38"/>
<line x1="82.6" y1="487.4" x2="84.8" y2="487.5" stroke="rgb(60,60,60)" stroke-width="0.7" opacity="0.27"/>
<line x1="60.8" y1="500.5" x2="61.8" y2="501.6" stroke="rgb(56,56,56)" stroke-width="0.7" opacity="0.23"/>
<line x1="59.6" y1="494.4" x2="59.7" y2="496.3" stroke="rgb(88,88,88)" stroke-width="0.7" opacity="0.54"/>
<line x1="69.2" y1="488.4" x2="68.4" y2="489.2" stroke="rgb(69,69,69)" stroke-width="0.7" opacity="0.41"/>
<line x1="74.8" y1="477.6" x2="75.5" y2="478.2" stroke="rgb(56,56,56)" stroke-width="0.7" opacity="0.53"/>
<line x1="71.7" y1="472.3" x2="71.6" y2="473.3" stroke="rgb(66,66,66)" stroke-width="0.7" opacity="0.24"/>
<line x1="73.6" y1="487.1" x2="75.7" y2="488.2" stroke="rgb(90,90,90)" stroke-width="0.7" opacity="0.24"/>
<line x1="79.1" y1="494.3" x2="78.9" y2="495.3" stroke="rgb(59,59,59)" stroke-width="0.7" opacity="0.40"/>
<line x1="79.1" y1="483.1" x2="77.4" y2="483.5" stroke="rgb(53,53,53)" stroke-width="0.7" opacity="0.36"/>
<line x1="66.4" y1="500.4" x2="68.1" y2="500.5" stroke="rgb(35,35,35)" stroke-width="0.7" opacity="0.34"/>
<line x1="74.6" y1="475.8" x2="76.0" y2="476.3" stroke="rgb(72,72,72)" stroke-width="0.7" opacity="0.26"/>
<line x1="69.7" y1="498.9" x2="69.5" y2="501.0" stroke="rgb(59,59,59)" stroke-width="0.7" opacity="0.49"/>
<line x1="55.0" y1="481.7" x2="54.5" y2="482.5" stroke="rgb(55,55,55)" stroke-width="0.7" opacity="0.21"/>
<line x1="79.3" y1="486.6" x2="79.8" y2="488.0" stroke="rgb(63,63,63)" stroke-width="0.7" opacity="0.22"/>
<line x1="63.4" y1="497.7" x2="64.2" y2="498.3" stroke="rgb(64,64,64)" stroke-width="0.7" opacity="0.42"/>
<line x1="81.8" y1="484.5" x2="82.5" y2="485.9" stroke="rgb(79,79,79)" stroke-width="0.7" opacity="0.26"/>
<line x1="71.0" y1="493.1" x2="71.6" y2="493.8" stroke="rgb(58,58,58)" stroke-width="0.7" opacity="0.54"/>
<line x1="55.6" y1="490.3" x2="56.6" y2="491.2" stroke="rgb(76,76,76)" stroke-width="0.7" opacity="0.54"/>
<line x1="76.3" y1="487.8" x2="74.3" y2="488.5" stroke="rgb(85,85,85)" stroke-width="0.7" opacity="0.31"/>
<line x1="62.5" y1="496.5" x2="64.5" y2="497.1" stroke="rgb(72,72,72)" stroke-width="0.7" opacity="0.28"/>
<line x1="73.0" y1="476.2" x2="74.6" y2="476.6" stroke="rgb(52,52,52)" stroke-width="0.7" opacity="0.23"/>
<line x1="62.8" y1="479.3" x2="62.9" y2="480.7" stroke="rgb(85,85,85)" stroke-width="0.7" opacity="0.50"/>
<line x1="75.3" y1="490.4" x2="74.5" y2="491.1" stroke="rgb(77,77,77)" stroke-width="0.7" opacity="0.54"/>
<line x1="73.3" y1="477.6" x2="71.6" y2="478.6" stroke="rgb(41,41,41)" stroke-width="0.7" opacity="0.41"/>
<line x1="74.6" y1="491.3" x2="76.8" y2="491.6" stroke="rgb(69,69,69)" stroke-width="0.7" opacity="0.31"/>
<line x1="81.9" y1="477.5" x2="79.6" y2="477.6" stroke="rgb(88,88,88)" stroke-width="0.7" opacity="0.27"/>
<line x1="65.1" y1="497.5" x2="64.1" y2="499.2" stroke="rgb(38,38,38)" stroke-width="0.7" opacity="0.29"/>
<line x1="84.8" y1="492.4" x2="85.0" y2="493.6" stroke="rgb(70,70,70)" stroke-width="0.7" opacity="0.39"/>
<line x1="76.8" y1="486.5" x2="77.2" y2="488.3" stroke="rgb(85,85,85)" stroke-width="0.7" opacity="0.40"/>
<line x1="78.6" y1="489.8" x2="80.2" y2="490.5" stroke="rgb(43,43,43)" stroke-width="0.7" opacity="0.54"/>
<line x1="66.8" y1="498.2" x2="68.1" y2="499.4" stroke="rgb(46,46,46)" stroke-width="0.7" opacity="0.20"/>
<line x1="56.8" y1="483.9" x2="54.6" y2="484.4" stroke="rgb(76,76,76)" stroke-width="0.7" opacity="0.42"/>
<line x1="70.5" y1="495.1" x2="71.7" y2="496.1" stroke="rgb(78,78,78)" stroke-width="0.7" opacity="0.34"/>
<line x1="53.5" y1="480.2" x2="55.3" y2="481.7" stroke="rgb(52,52,52)" stroke-width="0.7" opacity="0.52"/>
<line x1="70.2" y1="472.8" x2="69.4" y2="473.5" stroke="rgb(58,58,58)" stroke-width="0.7" opacity="0.51"/>
<line x1="63.5" y1="498.7" x2="64.9" y2="499.5" stroke="rgb(89,89,89)" stroke-width="0.7" opacity="0.45"/>
<line x1="64.0" y1="487.1" x2="61.8" y2="487.3" stroke="rgb(42,42,42)" stroke-width="0.7" opacity="0.40"/>
<line x1="72.9" y1="493.4" x2="71.4" y2="495.2" stroke="rgb(48,48,48)" stroke-width="0.7" opacity="0.47"/>
<line x1="58.0" y1="486.3" x2="58.0" y2="487.7" stroke="rgb(75,75,75)" stroke-width="0.7" opacity="0.26"/>
<line x1="68.6" y1="482.7" x2="67.7" y2="484.6" stroke="rgb(40,40,40)" stroke-width="0.7" opacity="0.29"/>
<line x1="80.4" y1="479.5" x2="79.1" y2="481.4" stroke="rgb(88,88,88)" stroke-width="0.7" opacity="0.23"/>
<line x1="74.1" y1="479.5" x2="72.9" y2="480.3" stroke="rgb(89,89,89)" stroke-width="0.7" opacity="0.35"/>
<line x1="74.1" y1="494.1" x2="74.2" y2="495.9" stroke="rgb(43,43,43)" stroke-width="0.7" opacity="0.27"/>
<line x1="57.4" y1="491.0" x2="58.6" y2="492.5" stroke="rgb(42,42,42)" stroke-width="0.7" opacity="0.33"/>
<line x1="53.0" y1="480.1" x2="52.7" y2="480.9" stroke="rgb(72,72,72)" stroke-width="0.7" opacity="0.41"/>
<line x1="73.1" y1="479.6" x2="73.9" y2="480.2" stroke="rgb(53,53,53)" stroke-width="0.7" opacity="0.31"/>
<line x1="69.6" y1="473.0" x2="69.3" y2="475.4" stroke="rgb(89,89,89)" stroke-width="0.7" opacity="0.37"/>
<line x1="78.5" y1="474.6" x2="77.5" y2="475.2" stroke="rgb(59,59,59)" stroke-width="0.7" opacity="0.52"/>
<line x1="82.1" y1="487.9" x2="80.4" y2="488.1" stroke="rgb(35,35,35)" stroke-width="0.7" opacity="0.47"/>
<line x1="75.4" y1="485.0" x2="74.2" y2="485.8" stroke="rgb(67,67,67)" stroke-width="0.7" opacity="0.35"/>
<line x1="68.2" y1="484.4" x2="69.0" y2="485.6" stroke="rgb(80,80,80)" stroke-width="0.7" opacity="0.34"/>
<line x1="72.0" y1="472.7" x2="71.0" y2="472.9" stroke="rgb(66,66,66)" stroke-width="0.7" opacity="0.33"/>
<line x1="52.6" y1="480.2" x2="50.7" y2="481.4" stroke="rgb(81,81,81)" stroke-width="0.7" opacity="0.38"/>
<line x1="80.8" y1="485.1" x2="79.3" y2="485.4" stroke="rgb(88,88,88)" stroke-width="0.7" opacity="0.45"/>
<line x1="83.6" y1="484.9" x2="83.5" y2="486.7" stroke="rgb(63,63,63)" stroke-width="0.7" opacity="0.33"/>
<line x1="79.9" y1="486.2" x2="81.1" y2="488.3" stroke="rgb(62,62,62)" stroke-width="0.7" opacity="0.42"/>
<line x1="83.4" y1="483.8" x2="82.5" y2="483.8" stroke="rgb(82,82,82)" stroke-width="0.7" opacity="0.29"/>
<line x1="78.2" y1="484.2" x2="77.7" y2="485.5" stroke="rgb(36,36,36)" stroke-width="0.7" opacity="0.42"/>
<line x1="83.3" y1="480.4" x2="82.6" y2="481.0" stroke="rgb(84,84,84)" stroke-width="0.7" opacity="0.20"/>
<line x1="78.1" y1="480.7" x2="77.2" y2="481.3" stroke="rgb(54,54,54)" stroke-width="0.7" opacity="0.37"/>
<line x1="65.4" y1="486.7" x2="65.1" y2="487.6" stroke="rgb(67,67,67)" stroke-width="0.7" opacity="0.22"/>
<line x1="79.6" y1="490.5" x2="78.0" y2="490.8" stroke="rgb(45,45,45)" stroke-width="0.7" opacity="0.44"/>
<line x1="57.1" y1="493.9" x2="57.0" y2="495.2" stroke="rgb(73,73,73)" stroke-width="0.7" opacity="0.28"/>
<line x1="66.7" y1="489.7" x2="66.5" y2="491.9" stroke="rgb(79,79,79)" stroke-width="0.7" opacity="0.33"/>
<line x1="59.2" y1="485.3" x2="58.8" y2="487.7" stroke="rgb(80,80,80)" stroke-width="0.7" opacity="0.32"/>
<line x1="68.3" y1="475.7" x2="67.5" y2="476.3" stroke="rgb(60,60,60)" stroke-width="0.7" opacity="0.50"/>
<line x1="65.0" y1="492.8" x2="63.3" y2="493.7" stroke="rgb(74,74,74)" stroke-width="0.7" opacity="0.21"/>
<line x1="80.1" y1="478.3" x2="77.9" y2="478.8" stroke="rgb(55,55,55)" stroke-width="0.7" opacity="0.29"/>
<line x1="68.4" y1="490.4" x2="67.4" y2="490.5" stroke="rgb(81,81,81)" stroke-width="0.7" opacity="0.36"/>
<line x1="81.8" y1="478.7" x2="83.1" y2="479.4" stroke="rgb(51,51,51)" stroke-width="0.7" opacity="0.47"/>
<line x1="78.1" y1="479.2" x2="79.6" y2="480.6" stroke="rgb(54,54,54)" stroke-width="0.7" opacity="0.45"/>
<line x1="67.1" y1="477.1" x2="67.7" y2="478.0" stroke="rgb(41,41,41)" stroke-width="0.7" opacity="0.53"/>
<line x1="72.6" y1="485.0" x2="70.9" y2="485.6" stroke="rgb(86,86,86)" stroke-width="0.7" opacity="0.28"/>
<line x1="83.3" y1="489.0" x2="81.5" y2="489.7" stroke="rgb(87,87,87)" stroke-width="0.7" opacity="0.35"/>
<line x1="64.2" y1="478.6" x2="66.1" y2="479.2" stroke="rgb(74,74,74)" stroke-width="0.7" opacity="0.34"/>
<line x1="58.2" y1="486.3" x2="60.0" y2="487.9" stroke="rgb(45,45,45)" stroke-width="0.7" opacity="0.30"/>
<line x1="58.6" y1="483.0" x2="59.5" y2="484.7" stroke="rgb(63,63,63)" stroke-width="0.7" opacity="0.41"/>
<line x1="80.7" y1="478.9" x2="79.3" y2="479.5" stroke="rgb(89,89,89)" stroke-width="0.7" opacity="0.50"/>
<line x1="67.2" y1="493.1" x2="65.6" y2="494.6" stroke="rgb(45,45,45)" stroke-width="0.7" opacity="0.25"/>
<line x1="70.8" y1="485.0" x2="70.6" y2="487.1" stroke="rgb(44,44,44)" stroke-width="0.7" opacity="0.40"/>
<line x1="68.9" y1="490.7" x2="66.8" y2="491.3" stroke="rgb(76,76,76)" stroke-width="0.7" opacity="0.21"/>
<line x1="73.1" y1="487.5" x2="74.3" y2="488.4" stroke="rgb(42,42,42)" stroke-width="0.7" opacity="0.37"/>
<line x1="75.3" y1="492.4" x2="74.3" y2="494.2" stroke="rgb(87,87,87)" stroke-width="0.7" opacity="0.34"/>
<line x1="57.3" y1="474.1" x2="57.0" y2="475.2" stroke="rgb(50,50,50)" stroke-width="0.7" opacity="0.48"/>
<line x1="74.2" y1="495.6" x2="74.1" y2="497.3" stroke="rgb(79,79,79)" stroke-width="0.7" opacity="0.22"/>
<line x1="62.2" y1="494.4" x2="62.0" y2="496.4" stroke="rgb(47,47,47)" stroke-width="0.7" opacity="0.52"/>
<line x1="77.2" y1="489.6" x2="75.8" y2="491.0" stroke="rgb(74,74,74)" stroke-width="0.7" opacity="0.29"/>
<line x1="75.7" y1="485.1" x2="73.8" y2="486.0" stroke="rgb(48,48,48)" stroke-width="0.7" opacity="0.22"/>
<line x1="73.9" y1="489.0" x2="73.8" y2="489.8" stroke="rgb(55,55,55)" stroke-width="0.7" opacity="0.36"/>
<line x1="76.6" y1="493.5" x2="77.0" y2="495.7" stroke="rgb(80,80,80)" stroke-width="0.7" opacity="0.46"/>
<line x1="67.9" y1="494.2" x2="68.8" y2="494.3" stroke="rgb(55,55,55)" stroke-width="0.7" opacity="0.33"/>
<line x1="67.9" y1="476.8" x2="68.4" y2="478.0" stroke="rgb(43,43,43)" stroke-width="0.7" opacity="0.24"/>
<line x1="66.6" y1="481.5" x2="66.4" y2="482.6" stroke="rgb(88,88,88)" stroke-width="0.7" opacity="0.32"/>
<line x1="60.8" y1="498.4" x2="62.3" y2="499.0" stroke="rgb(72,72,72)" stroke-width="0.7" opacity="0.49"/>
<line x1="56.1" y1="484.2" x2="54.8" y2="485.9" stroke="rgb(89,89,89)" stroke-width="0.7" opacity="0.39"/>
<line x1="71.0" y1="484.6" x2="71.7" y2="485.8" stroke="rgb(58,58,58)" stroke-width="0.7" opacity="0.34"/>
<line x1="72.1" y1="489.0" x2="71.2" y2="490.9" stroke="rgb(54,54,54)" stroke-width="0.7" opacity="0.31"/>
<line x1="65.9" y1="495.3" x2="65.8" y2="497.3" stroke="rgb(55,55,55)" stroke-width="0.7" opacity="0.20"/>
<line x1="76.1" y1="492.4" x2="76.8" y2="493.6" stroke="rgb(81,81,81)" stroke-width="0.7" opacity="0.22"/>
<line x1="81.0" y1="484.5" x2="78.7" y2="484.7" stroke="rgb(58,58,58)" stroke-width="0.7" opacity="0.49"/>
<line x1="84.0" y1="478.8" x2="84.0" y2="479.7" stroke="rgb(43,43,43)" stroke-width="0.7" opacity="0.50"/>
<line x1="68.9" y1="494.2" x2="69.7" y2="496.0" stroke="rgb(71,71,71)" stroke-width="0.7" opacity="0.53"/>
<line x1="62.1" y1="477.8" x2="63.0" y2="479.3" stroke="rgb(64,64,64)" stroke-width="0.7" opacity="0.38"/>
<line x1="77.6" y1="487.5" x2="76.0" y2="488.0" stroke="rgb(49,49,49)" stroke-width="0.7" opacity="0.26"/>
<line x1="67.7" y1="486.7" x2="66.6" y2="488.2" stroke="rgb(69,69,69)" stroke-width="0.7" opacity="0.27"/>
<line x1="81.1" y1="491.1" x2="82.0" y2="491.3" stroke="rgb(76,76,76)" stroke-width="0.7" opacity="0.50"/>
<line x1="64.5" y1="480.6" x2="64.1" y2="482.1" stroke="rgb(90,90,90)" stroke-width="0.7" opacity="0.52"/>
<line x1="65.9" y1="486.2" x2="63.8" y2="487.0" stroke="rgb(66,66,66)" stroke-width="0.7" opacity="0.35"/>
<line x1="63.2" y1="475.1" x2="61.8" y2="476.7" stroke="rgb(47,47,47)" stroke-width="0.7" opacity="0.48"/>
<line x1="77.9" y1="485.9" x2="77.8" y2="486.7" stroke="rgb(47,47,47)" stroke-width="0.7" opacity="0.33"/>
<line x1="72.4" y1="482.8" x2="70.7" y2="484.1" stroke="rgb(74,74,74)" stroke-width="0.7" opacity="0.40"/>
<line x1="72.0" y1="486.7" x2="71.1" y2="488.4" stroke="rgb(54,54,54)" stroke-width="0.7" opacity="0.39"/>
<line x1="74.5" y1="475.4" x2="73.5" y2="476.2" stroke="rgb(82,82,82)" stroke-width="0.7" opacity="0.43"/>
<line x1="78.3" y1="485.7" x2="76.9" y2="486.6" stroke="rgb(61,61,61)" stroke-width="0.7" opacity="0.53"/>
<line x1="57.4" y1="493.1" x2="58.7" y2="493.7" stroke="rgb(54,54,54)" stroke-width="0.7" opacity="0.36"/>
<line x1="78.8" y1="497.2" x2="77.0" y2="497.2" stroke="rgb(51,51,51)" stroke-width="0.7" opacity="0.46"/>
<line x1="59.3" y1="482.0" x2="58.7" y2="483.1" stroke="rgb(60,60,60)" stroke-width="0.7" opacity="0.46"/>
<line x1="74.2" y1="486.6" x2="75.0" y2="488.6" stroke="rgb(40,40,40)" stroke-width="0.7" opacity="0.36"/>
<line x1="72.0" y1="476.3" x2="70.4" y2="477.8" stroke="rgb(82,82,82)" stroke-width="0.7" opacity="0.34"/>
<line x1="73.0" y1="475.2" x2="74.5" y2="475.3" stroke="rgb(44,44,44)" stroke-width="0.7" opacity="0.26"/>
<line x1="68.0" y1="501.3" x2="68.6" y2="503.5" stroke="rgb(53,53,53)" stroke-width="0.7" opacity="0.53"/>
<line x1="66.4" y1="496.4" x2="65.2" y2="497.4" stroke="rgb(52,52,52)" stroke-width="0.7" opacity="0.37"/>
<line x1="66.4" y1="474.7" x2="68.2" y2="475.3" stroke="rgb(60,60,60)" stroke-width="0.7" opacity="0.25"/>
<line x1="77.2" y1="484.4" x2="78.0" y2="484.8" stroke="rgb(36,36,36)" stroke-width="0.7" opacity="0.47"/>
<line x1="80.5" y1="493.7" x2="82.5" y2="494.3" stroke="rgb(46,46,46)" stroke-width="0.7" opacity="0.41"/>
<line x1="82.0" y1="485.7" x2="83.4" y2="485.9" stroke="rgb(69,69,69)" stroke-width="0.7" opacity="0.43"/>
<line x1="82.4" y1="479.7" x2="84.2" y2="480.3" stroke="rgb(88,88,88)" stroke-width="0.7" opacity="0.29"/>
<line x1="66.8" y1="497.2" x2="68.7" y2="497.5" stroke="rgb(85,85,85)" stroke-width="0.7" opacity="0.27"/>
<line x1="64.5" y1="480.6" x2="63.0" y2="481.1" stroke="rgb(78,78,78)" stroke-width="0.7" opacity="0.24"/>
<line x1="72.5" y1="481.7" x2="71.4" y2="483.2" stroke="rgb(59,59,59)" stroke-width="0.7" opacity="0.26"/>
<line x1="68.3" y1="500.2" x2="68.3" y2="501.5" stroke="rgb(69,69,69)" stroke-width="0.7" opacity="0.51"/>
<line x1="61.2" y1="483.9" x2="59.6" y2="484.6" stroke="rgb(83,83,83)" stroke-width="0.7" opacity="0.24"/>
<line x1="69.6" y1="473.5" x2="69.5" y2="474.8" stroke="rgb(80,80,80)" stroke-width="0.7" opacity="0.35"/>
<line x1="69.3" y1="481.8" x2="70.3" y2="482.4" stroke="rgb(80,80,80)" stroke-width="0.7" opacity="0.29"/>
<line x1="57.4" y1="493.2" x2="56.8" y2="494.7" stroke="rgb(38,38,38)" stroke-width="0.7" opacity="0.25"/>
<line x1="61.1" y1="490.5" x2="61.1" y2="491.8" stroke="rgb(79,79,79)" stroke-width="0.7" opacity="0.37"/>
<line x1="62.0" y1="481.3" x2="63.5" y2="482.2" stroke="rgb(46,46,46)" stroke-width="0.7" opacity="0.51"/>
<line x1="64.6" y1="474.7" x2="64.5" y2="476.3" stroke="rgb(38,38,38)" stroke-width="0.7" opacity="0.25"/>
<line x1="69.8" y1="475.8" x2="71.0" y2="476.3" stroke="rgb(65,65,65)" stroke-width="0.7" opacity="0.25"/>
<line x1="68.8" y1="490.9" x2="70.9" y2="491.2" stroke="rgb(69,69,69)" stroke-width="0.7" opacity="0.26"/>
<line x1="78.8" y1="494.3" x2="77.2" y2="494.9" stroke="rgb(67,67,67)" stroke-width="0.7" opacity="0.35"/>
<line x1="71.5" y1="486.1" x2="73.1" y2="487.4" stroke="rgb(54,54,54)" stroke-width="0.7" opacity="0.46"/>
<line x1="66.4" y1="498.8" x2="66.0" y2="500.1" stroke="rgb(90,90,90)" stroke-width="0.7" opacity="0.38"/>
<line x1="78.9" y1="487.4" x2="78.0" y2="487.7" stroke="rgb(43,43,43)" stroke-width="0.7" opacity="0.25"/>
<line x1="59.8" y1="481.6" x2="61.6" y2="482.3" stroke="rgb(40,40,40)" stroke-width="0.7" opacity="0.31"/>
<line x1="68.5" y1="489.7" x2="67.6" y2="489.9" stroke="rgb(36,36,36)" stroke-width="0.7" opacity="0.33"/>
<line x1="66.3" y1="472.5" x2="67.5" y2="474.0" stroke="rgb(41,41,41)" stroke-width="0.7" opacity="0.38"/>
<line x1="63.0" y1="497.6" x2="64.8" y2="498.4" stroke="rgb(76,76,76)" stroke-width="0.7" opacity="0.52"/>
<line x1="68.3" y1="490.9" x2="68.1" y2="492.7" stroke="rgb(71,71,71)" stroke-width="0.7" opacity="0.40"/>
<line x1="58.3" y1="483.7" x2="58.0" y2="485.5" stroke="rgb(49,49,49)" stroke-width="0.7" opacity="0.22"/>
<line x1="61.7" y1="485.6" x2="63.1" y2="487.3" stroke="rgb(48,48,48)" stroke-width="0.7" opacity="0.21"/>
<line x1="66.9" y1="485.5" x2="67.3" y2="486.4" stroke="rgb(80,80,80)" stroke-width="0.7" opacity="0.43"/>
<line x1="56.6" y1="482.7" x2="56.5" y2="484.7" stroke="rgb(89,89,89)" stroke-width="0.7" opacity="0.40"/>
<line x1="60.4" y1="478.5" x2="59.4" y2="478.8" stroke="rgb(43,43,43)" stroke-width="0.7" opacity="0.25"/>
<line x1="74.9" y1="480.7" x2="73.4" y2="482.1" stroke="rgb(88,88,88)" stroke-width="0.7" opacity="0.33"/>
<line x1="67.2" y1="492.3" x2="67.5" y2="493.7" stroke="rgb(85,85,85)" stroke-width="0.7" opacity="0.24"/>
<line x1="61.7" y1="480.9" x2="60.9" y2="482.6" stroke="rgb(77,77,77)" stroke-width="0.7" opacity="0.53"/>
<line x1="67.3" y1="485.6" x2="68.0" y2="487.3" stroke="rgb(87,87,87)" stroke-width="0.7" opacity="0.40"/>
<line x1="77.8" y1="478.5" x2="77.0" y2="479.8" stroke="rgb(84,84,84)" stroke-width="0.7" opacity="0.30"/>
<line x1="61.4" y1="493.7" x2="61.4" y2="494.5" stroke="rgb(64,64,64)" stroke-width="0.7" opacity="0.21"/>
<line x1="68.9" y1="485.6" x2="68.3" y2="487.7" stroke="rgb(37,37,37)" stroke-width="0.7" opacity="0.39"/>
<line x1="70.1" y1="473.8" x2="67.8" y2="474.5" stroke="rgb(85,85,85)" stroke-width="0.7" opacity="0.43"/>
<line x1="73.1" y1="474.6" x2="72.2" y2="474.7" stroke="rgb(50,50,50)" stroke-width="0.7" opacity="0.51"/>
<line x1="71.6" y1="488.2" x2="70.4" y2="488.7" stroke="rgb(80,80,80)" stroke-width="0.7" opacity="0.32"/>
<line x1="59.4" y1="472.2" x2="59.9" y2="474.0" stroke="rgb(38,38,38)" stroke-width="0.7" opacity="0.33"/>
<line x1="69.3" y1="476.4" x2="68.5" y2="478.1" stroke="rgb(86,86,86)" stroke-width="0.7" opacity="0.38"/>
<line x1="82.5" y1="490.7" x2="82.0" y2="491.6" stroke="rgb(67,67,67)" stroke-width="0.7" opacity="0.37"/>
<line x1="61.0" y1="497.7" x2="60.2" y2="498.0" stroke="rgb(72,72,72)" stroke-width="0.7" opacity="0.33"/>
<line x1="72.7" y1="480.0" x2="73.5" y2="480.9" stroke="rgb(80,80,80)" stroke-width="0.7" opacity="0.54"/>
<line x1="64.9" y1="493.2" x2="65.0" y2="494.7" stroke="rgb(78,78,78)" stroke-width="0.7" opacity="0.37"/>
<line x1="70.0" y1="479.9" x2="70.0" y2="480.9" stroke="rgb(69,69,69)" stroke-width="0.7" opacity="0.29"/>
<line x1="70.4" y1="487.3" x2="71.3" y2="487.4" stroke="rgb(61,61,61)" stroke-width="0.7" opacity="0.23"/>
<line x1="75.3" y1="499.2" x2="73.2" y2="499.7" stroke="rgb(86,86,86)" stroke-width="0.7" opacity="0.25"/>
<line x1="63.4" y1="485.2" x2="63.6" y2="486.0" stroke="rgb(51,51,51)" stroke-width="0.7" opacity="0.42"/>
<line x1="67.5" y1="470.3" x2="67.2" y2="472.7" stroke="rgb(60,60,60)" stroke-width="0.7" opacity="0.29"/>
<line x1="62.8" y1="489.1" x2="63.8" y2="490.0" stroke="rgb(46,46,46)" stroke-width="0.7" opacity="0.47"/>
<line x1="78.2" y1="482.3" x2="79.1" y2="483.0" stroke="rgb(67,67,67)" stroke-width="0.7" opacity="0.21"/>
<line x1="61.4" y1="485.3" x2="60.5" y2="487.0" stroke="rgb(67,67,67)" stroke-width="0.7" opacity="0.39"/>
<line x1="69.1" y1="495.4" x2="70.0" y2="495.7" stroke="rgb(59,59,59)" stroke-width="0.7" opacity="0.49"/>
<line x1="81.1" y1="489.3" x2="80.3" y2="489.4" stroke="rgb(84,84,84)" stroke-width="0.7" opacity="0.31"/>
<line x1="67.0" y1="496.5" x2="66.8" y2="497.5" stroke="rgb(73,73,73)" stroke-width="0.7" opacity="0.49"/>
<line x1="70.8" y1="472.9" x2="70.5" y2="475.0" stroke="rgb(67,67,67)" stroke-width="0.7" opacity="0.44"/>
<line x1="67.6" y1="482.1" x2="68.4" y2="483.0" stroke="rgb(44,44,44)" stroke-width="0.7" opacity="0.26"/>
<line x1="68.1" y1="481.3" x2="69.3" y2="481.9" stroke="rgb(58,58,58)" stroke-width="0.7" opacity="0.29"/>
<line x1="63.6" y1="493.1" x2="62.8" y2="493.2" stroke="rgb(64,64,64)" stroke-width="0.7" opacity="0.54"/>
<line x1="69.7" y1="490.3" x2="71.0" y2="491.3" stroke="rgb(72,72,72)" stroke-width="0.7" opacity="0.35"/>
<line x1="78.2" y1="477.0" x2="77.3" y2="478.2" stroke="rgb(70,70,70)" stroke-width="0.7" opacity="0.23"/>
<line x1="75.3" y1="483.4" x2="74.7" y2="484.1" stroke="rgb(77,77,77)" stroke-width="0.7" opacity="0.33"/>
<line x1="63.5" y1="474.4" x2="63.2" y2="476.3" stroke="rgb(43,43,43)" stroke-width="0.7" opacity="0.52"/>
<line x1="72.8" y1="481.0" x2="71.0" y2="481.1" stroke="rgb(47,47,47)" stroke-width="0.7" opacity="0.32"/>
<line x1="73.4" y1="479.4" x2="73.4" y2="480.4" stroke="rgb(80,80,80)" stroke-width="0.7" opacity="0.30"/>
<line x1="59.5" y1="485.2" x2="60.4" y2="486.4" stroke="rgb(80,80,80)" stroke-width="0.7" opacity="0.48"/>
<line x1="57.5" y1="478.9" x2="57.0" y2="480.3" stroke="rgb(83,83,83)" stroke-width="0.7" opacity="0.22"/>
<line x1="70.4" y1="479.5" x2="69.4" y2="481.7" stroke="rgb(43,43,43)" stroke-width="0.7" opacity="0.24"/>
<line x1="77.5" y1="475.6" x2="77.4" y2="477.6" stroke="rgb(50,50,50)" stroke-width="0.7" opacity="0.34"/>
<line x1="83.0" y1="477.9" x2="85.1" y2="478.8" stroke="rgb(77,77,77)" stroke-width="0.7" opacity="0.45"/>
<line x1="69.0" y1="487.0" x2="66.9" y2="487.1" stroke="rgb(42,42,42)" stroke-width="0.7" opacity="0.40"/>
<line x1="62.3" y1="475.6" x2="61.8" y2="476.7" stroke="rgb(49,49,49)" stroke-width="0.7" opacity="0.44"/>
<line x1="79.9" y1="480.5" x2="80.9" y2="481.6" stroke="rgb(89,89,89)" stroke-width="0.7" opacity="0.43"/>
<line x1="59.1" y1="492.9" x2="61.1" y2="493.7" stroke="rgb(77,77,77)" stroke-width="0.7" opacity="0.40"/>
<line x1="65.4" y1="487.0" x2="64.5" y2="488.1" stroke="rgb(48,48,48)" stroke-width="0.7" opacity="0.49"/>
<line x1="64.5" y1="493.0" x2="66.4" y2="493.2" stroke="rgb(39,39,39)" stroke-width="0.7" opacity="0.35"/>
<line x1="53.0" y1="491.8" x2="53.8" y2="493.8" stroke="rgb(47,47,47)" stroke-width="0.7" opacity="0.33"/>
<line x1="70.5" y1="499.3" x2="68.7" y2="500.8" stroke="rgb(72,72,72)" stroke-width="0.7" opacity="0.22"/>
<line x1="78.8" y1="479.8" x2="77.2" y2="480.4" stroke="rgb(88,88,88)" stroke-width="0.7" opacity="0.50"/>
<line x1="80.1" y1="481.7" x2="78.5" y2="481.8" stroke="rgb(72,72,72)" stroke-width="0.7" opacity="0.49"/>
<line x1="55.1" y1="496.0" x2="56.1" y2="497.4" stroke="rgb(88,88,88)" stroke-width="0.7" opacity="0.29"/>
<line x1="59.3" y1="498.3" x2="59.6" y2="499.8" stroke="rgb(90,90,90)" stroke-width="0.7" opacity="0.41"/>
<line x1="66.2" y1="491.8" x2="64.5" y2="491.8" stroke="rgb(72,72,72)" stroke-width="0.7" opacity="0.22"/>
<line x1="64.2" y1="482.4" x2="63.8" y2="484.4" stroke="rgb(68,68,68)" stroke-width="0.7" opacity="0.24"/>
<line x1="67.1" y1="485.1" x2="67.7" y2="486.3" stroke="rgb(56,56,56)" stroke-width="0.7" opacity="0.39"/>
<line x1="60.3" y1="476.4" x2="62.5" y2="477.0" stroke="rgb(66,66,66)" stroke-width="0.7" opacity="0.39"/>
<line x1="60.5" y1="499.6" x2="61.5" y2="501.7" stroke="rgb(45,45,45)" stroke-width="0.7" opacity="0.25"/>
<line x1="57.2" y1="479.9" x2="57.2" y2="481.2" stroke="rgb(60,60,60)" stroke-width="0.7" opacity="0.49"/>
<line x1="85.1" y1="485.6" x2="83.7" y2="486.9" stroke="rgb(37,37,37)" stroke-width="0.7" opacity="0.29"/>
<line x1="70.1" y1="482.1" x2="71.8" y2="482.5" stroke="rgb(85,85,85)" stroke-width="0.7" opacity="0.26"/>
<line x1="77.3" y1="482.7" x2="77.2" y2="483.7" stroke="rgb(40,40,40)" stroke-width="0.7" opacity="0.42"/>
<line x1="69.5" y1="491.2" x2="68.5" y2="492.3" stroke="rgb(81,81,81)" stroke-width="0.7" opacity="0.31"/>
<line x1="81.1" y1="474.4" x2="81.9" y2="475.8" stroke="rgb(39,39,39)" stroke-width="0.7" opacity="0.30"/>
<line x1="65.7" y1="485.7" x2="64.8" y2="486.7" stroke="rgb(87,87,87)" stroke-width="0.7" opacity="0.21"/>
<line x1="62.9" y1="499.1" x2="61.8" y2="500.7" stroke="rgb(37,37,37)" stroke-width="0.7" opacity="0.42"/>
<line x1="61.6" y1="484.9" x2="61.3" y2="486.0" stroke="rgb(47,47,47)" stroke-width="0.7" opacity="0.54"/>
<line x1="54.1" y1="485.5" x2="55.2" y2="485.6" stroke="rgb(64,64,64)" stroke-width="0.7" opacity="0.54"/>
<line x1="60.3" y1="499.9" x2="59.3" y2="502.0" stroke="rgb(49,49,49)" stroke-width="0.7" opacity="0.20"/>
<line x1="61.9" y1="486.5" x2="62.6" y2="487.0" stroke="rgb(70,70,70)" stroke-width="0.7" opacity="0.51"/>
<line x1="61.8" y1="485.0" x2="62.0" y2="486.1" stroke="rgb(68,68,68)" stroke-width="0.7" opacity="0.29"/>
<line x1="59.0" y1="485.7" x2="58.8" y2="486.5" stroke="rgb(76,76,76)" stroke-width="0.7" opacity="0.27"/>
<line x1="56.8" y1="474.7" x2="58.3" y2="474.8" stroke="rgb(74,74,74)" stroke-width="0.7" opacity="0.21"/>
<line x1="79.9" y1="494.0" x2="78.4" y2="494.8" stroke="rgb(77,77,77)" stroke-width="0.7" opacity="0.49"/>
<line x1="60.1" y1="481.3" x2="59.3" y2="482.4" stroke="rgb(76,76,76)" stroke-width="0.7" opacity="0.48"/>
<line x1="84.2" y1="481.5" x2="82.2" y2="482.5" stroke="rgb(70,70,70)" stroke-width="0.7" opacity="0.41"/>
<line x1="67.8" y1="470.3" x2="66.4" y2="471.1" stroke="rgb(73,73,73)" stroke-width="0.7" opacity="0.44"/>
<line x1="56.0" y1="484.1" x2="55.8" y2="485.5" stroke="rgb(86,86,86)" stroke-width="0.7" opacity="0.29"/>
<line x1="84.2" y1="487.3" x2="85.8" y2="488.8" stroke="rgb(64,64,64)" stroke-width="0.7" opacity="0.36"/>
<line x1="63.7" y1="470.9" x2="62.8" y2="471.4" stroke="rgb(75,75,75)" stroke-width="0.7" opacity="0.22"/>
<line x1="81.5" y1="495.9" x2="80.1" y2="497.4" stroke="rgb(51,51,51)" stroke-width="0.7" opacity="0.31"/>
<line x1="79.1" y1="486.9" x2="77.3" y2="488.1" stroke="rgb(72,72,72)" stroke-width="0.7" opacity="0.22"/>
<line x1="66.9" y1="476.7" x2="65.9" y2="478.9" stroke="rgb(77,77,77)" stroke-width="0.7" opacity="0.24"/>
<line x1="62.8" y1="470.9" x2="62.4" y2="471.7" stroke="rgb(49,49,49)" stroke-width="0.7" opacity="0.44"/>
<line x1="69.5" y1="471.7" x2="70.4" y2="472.8" stroke="rgb(76,76,76)" stroke-width="0.7" opacity="0.35"/>
<line x1="57.3" y1="484.1" x2="55.1" y2="484.6" stroke="rgb(90,90,90)" stroke-width="0.7" opacity="0.34"/>
<line x1="69.4" y1="489.4" x2="70.7" y2="490.6" stroke="rgb(50,50,50)" stroke-width="0.7" opacity="0.34"/>
<line x1="70.7" y1="492.2" x2="68.8" y2="493.0" stroke="rgb(54,54,54)" stroke-width="0.7" opacity="0.20"/>
<line x1="66.3" y1="477.2" x2="67.2" y2="477.7" stroke="rgb(66,66,66)" stroke-width="0.7" opacity="0.55"/>
<line x1="59.6" y1="489.7" x2="60.4" y2="491.1" stroke="rgb(86,86,86)" stroke-width="0.7" opacity="0.41"/>
<line x1="60.8" y1="481.5" x2="61.2" y2="483.3" stroke="rgb(70,70,70)" stroke-width="0.7" opacity="0.49"/>
<line x1="69.2" y1="472.8" x2="67.7" y2="473.5" stroke="rgb(42,42,42)" stroke-width="0.7" opacity="0.46"/>
<line x1="69.0" y1="479.9" x2="68.7" y2="480.7" stroke="rgb(49,49,49)" stroke-width="0.7" opacity="0.38"/>
<line x1="73.9" y1="493.6" x2="76.2" y2="494.1" stroke="rgb(38,38,38)" stroke-width="0.7" opacity="0.20"/>
<line x1="82.9" y1="491.3" x2="83.7" y2="491.4" stroke="rgb(39,39,39)" stroke-width="0.7" opacity="0.32"/>
<line x1="72.0" y1="473.4" x2="72.9" y2="474.1" stroke="rgb(70,70,70)" stroke-width="0.7" opacity="0.30"/>
<line x1="60.7" y1="483.4" x2="61.0" y2="484.4" stroke="rgb(49,49,49)" stroke-width="0.7" opacity="0.22"/>
<line x1="83.4" y1="483.4" x2="83.8" y2="484.7" stroke="rgb(37,37,37)" stroke-width="0.7" opacity="0.21"/>
<line x1="74.6" y1="498.1" x2="75.4" y2="498.8" stroke="rgb(83,83,83)" stroke-width="0.7" opacity="0.31"/>
<line x1="70.5" y1="482.2" x2="72.4" y2="483.2" stroke="rgb(55,55,55)" stroke-width="0.7" opacity="0.49"/>
<line x1="71.1" y1="488.8" x2="73.4" y2="489.2" stroke="rgb(53,53,53)" stroke-width="0.7" opacity="0.23"/>
<line x1="71.6" y1="493.5" x2="72.4" y2="494.1" stroke="rgb(46,46,46)" stroke-width="0.7" opacity="0.46"/>
<line x1="81.7" y1="496.7" x2="80.3" y2="498.5" stroke="rgb(49,49,49)" stroke-width="0.7" opacity="0.38"/>
<line x1="79.3" y1="475.8" x2="79.8" y2="476.8" stroke="rgb(83,83,83)" stroke-width="0.7" opacity="0.36"/>
<line x1="79.0" y1="476.5" x2="78.3" y2="477.7" stroke="rgb(74,74,74)" stroke-width="0.7" opacity="0.23"/>
<line x1="74.0" y1="483.8" x2="75.6" y2="484.5" stroke="rgb(46,46,46)" stroke-width="0.7" opacity="0.23"/>
<line x1="73.8" y1="471.2" x2="74.6" y2="473.0" stroke="rgb(56,56,56)" stroke-width="0.7" opacity="0.36"/>
<line x1="62.4" y1="494.3" x2="63.1" y2="495.8" stroke="rgb(65,65,65)" stroke-width="0.7" opacity="0.31"/>
<line x1="67.0" y1="491.6" x2="68.7" y2="492.4" stroke="rgb(70,70,70)" stroke-width="0.7" opacity="0.36"/>
<line x1="64.5" y1="481.6" x2="66.0" y2="483.2" stroke="rgb(40,40,40)" stroke-width="0.7" opacity="0.32"/>
<line x1="65.3" y1="494.0" x2="65.6" y2="495.2" stroke="rgb(65,65,65)" stroke-width="0.7" opacity="0.39"/>
<line x1="81.7" y1="475.7" x2="80.9" y2="476.7" stroke="rgb(78,78,78)" stroke-width="0.7" opacity="0.37"/>
<line x1="72.7" y1="486.8" x2="71.5" y2="488.1" stroke="rgb(47,47,47)" stroke-width="0.7" opacity="0.33"/>
<line x1="78.6" y1="482.1" x2="77.8" y2="484.0" stroke="rgb(89,89,89)" stroke-width="0.7" opacity="0.43"/>
<line x1="65.7" y1="490.8" x2="66.2" y2="491.4" stroke="rgb(59,59,59)" stroke-width="0.7" opacity="0.41"/>
<line x1="76.8" y1="484.3" x2="78.1" y2="486.1" stroke="rgb(50,50,50)" stroke-width="0.7" opacity="0.40"/>
<line x1="69.2" y1="490.2" x2="69.9" y2="490.5" stroke="rgb(71,71,71)" stroke-width="0.7" opacity="0.25"/>
<line x1="66.4" y1="488.6" x2="66.4" y2="490.3" stroke="rgb(54,54,54)" stroke-width="0.7" opacity="0.51"/>
<line x1="55.9" y1="477.0" x2="55.3" y2="479.1" stroke="rgb(90,90,90)" stroke-width="0.7" opacity="0.37"/>
<line x1="58.6" y1="485.2" x2="59.9" y2="486.8" stroke="rgb(62,62,62)" stroke-width="0.7" opacity="0.28"/>
<line x1="73.7" y1="491.5" x2="74.1" y2="492.3" stroke="rgb(46,46,46)" stroke-width="0.7" opacity="0.41"/>
<line x1="64.4" y1="477.1" x2="65.9" y2="478.0" stroke="rgb(47,47,47)" stroke-width="0.7" opacity="0.44"/>
<line x1="76.5" y1="474.1" x2="75.5" y2="474.5" stroke="rgb(36,36,36)" stroke-width="0.7" opacity="0.39"/>
<line x1="73.6" y1="482.9" x2="74.1" y2="483.7" stroke="rgb(66,66,66)" stroke-width="0.7" opacity="0.46"/>
<line x1="53.1" y1="479.3" x2="53.2" y2="481.0" stroke="rgb(85,85,85)" stroke-width="0.7" opacity="0.35"/>
<line x1="73.0" y1="487.8" x2="73.9" y2="489.4" stroke="rgb(77,77,77)" stroke-width="0.7" opacity="0.55"/>
<line x1="76.0" y1="481.7" x2="77.5" y2="483.3" stroke="rgb(51,51,51)" stroke-width="0.7" opacity="0.31"/>
<line x1="58.2" y1="486.8" x2="58.4" y2="487.8" stroke="rgb(38,38,38)" stroke-width="0.7" opacity="0.41"/>
<line x1="66.3" y1="500.2" x2="65.7" y2="501.9" stroke="rgb(66,66,66)" stroke-width="0.7" opacity="0.44"/>
<line x1="64.4" y1="494.8" x2="63.5" y2="495.8" stroke="rgb(60,60,60)" stroke-width="0.7" opacity="0.44"/>
<line x1="72.0" y1="493.4" x2="71.2" y2="494.2" stroke="rgb(79,79,79)" stroke-width="0.7" opacity="0.29"/>
<line x1="68.8" y1="482.8" x2="68.9" y2="484.3" stroke="rgb(67,67,67)" stroke-width="0.7" opacity="0.31"/>
<line x1="61.8" y1="485.1" x2="63.4" y2="485.2" stroke="rgb(80,80,80)" stroke-width="0.7" opacity="0.39"/>
<line x1="60.8" y1="482.8" x2="61.7" y2="484.8" stroke="rgb(38,38,38)" stroke-width="0.7" opacity="0.32"/>
<line x1="70.1" y1="499.2" x2="71.3" y2="499.6" stroke="rgb(69,69,69)" stroke-width="0.7" opacity="0.47"/>
<line x1="64.6" y1="491.2" x2="66.9" y2="491.5" stroke="rgb(63,63,63)" stroke-width="0.7" opacity="0.33"/>
<line x1="60.8" y1="498.7" x2="61.4" y2="499.2" stroke="rgb(65,65,65)" stroke-width="0.7" opacity="0.51"/>
<line x1="82.2" y1="490.9" x2="82.5" y2="491.9" stroke="rgb(67,67,67)" stroke-width="0.7" opacity="0.36"/>
<line x1="66.4" y1="491.6" x2="67.5" y2="492.3" stroke="rgb(45,45,45)" stroke-width="0.7" opacity="0.52"/>
<line x1="61.8" y1="479.8" x2="62.0" y2="481.8" stroke="rgb(70,70,70)" stroke-width="0.7" opacity="0.38"/>
<line x1="64.3" y1="497.0" x2="63.6" y2="499.3" stroke="rgb(67,67,67)" stroke-width="0.7" opacity="0.48"/>
<line x1="67.6" y1="492.4" x2="68.6" y2="494.2" stroke="rgb(35,35,35)" stroke-width="0.7" opacity="0.35"/>
<line x1="66.1" y1="474.5" x2="66.5" y2="476.3" stroke="rgb(46,46,46)" stroke-width="0.7" opacity="0.49"/>
<line x1="58.2" y1="489.9" x2="59.7" y2="490.6" stroke="rgb(41,41,41)" stroke-width="0.7" opacity="0.34"/>
<line x1="56.5" y1="487.9" x2="57.2" y2="488.4" stroke="rgb(72,72,72)" stroke-width="0.7" opacity="0.54"/>
<line x1="58.6" y1="489.2" x2="60.4" y2="490.2" stroke="rgb(57,57,57)" stroke-width="0.7" opacity="0.41"/>
<line x1="75.5" y1="499.2" x2="73.7" y2="499.3" stroke="rgb(86,86,86)" stroke-width="0.7" opacity="0.39"/>
<line x1="59.7" y1="489.1" x2="61.8" y2="489.8" stroke="rgb(56,56,56)" stroke-width="0.7" opacity="0.22"/>
<line x1="60.6" y1="487.6" x2="59.3" y2="488.2" stroke="rgb(45,45,45)" stroke-width="0.7" opacity="0.51"/>
<line x1="56.8" y1="476.0" x2="55.7" y2="476.1" stroke="rgb(55,55,55)" stroke-width="0.7" opacity="0.41"/>
<line x1="70.1" y1="492.7" x2="71.0" y2="493.0" stroke="rgb(44,44,44)" stroke-width="0.7" opacity="0.22"/>
<line x1="75.2" y1="494.2" x2="75.9" y2="496.4" stroke="rgb(55,55,55)" stroke-width="0.7" opacity="0.34"/>
<line x1="67.0" y1="477.1" x2="66.7" y2="478.4" stroke="rgb(80,80,80)" stroke-width="0.7" opacity="0.31"/>
<line x1="69.1" y1="479.1" x2="70.1" y2="479.6" stroke="rgb(66,66,66)" stroke-width="0.7" opacity="0.24"/>
<line x1="76.1" y1="492.5" x2="75.2" y2="493.9" stroke="rgb(87,87,87)" stroke-width="0.7" opacity="0.53"/>
<line x1="61.8" y1="496.6" x2="62.0" y2="498.3" stroke="rgb(70,70,70)" stroke-width="0.7" opacity="0.37"/>
<line x1="58.9" y1="493.5" x2="58.8" y2="494.5" stroke="rgb(48,48,48)" stroke-width="0.7" opacity="0.50"/>
<line x1="72.6" y1="484.5" x2="71.0" y2="486.0" stroke="rgb(55,55,55)" stroke-width="0.7" opacity="0.31"/>
<line x1="78.6" y1="482.6" x2="77.0" y2="483.2" stroke="rgb(58,58,58)" stroke-width="0.7" opacity="0.51"/>
<line x1="73.2" y1="501.2" x2="71.9" y2="501.2" stroke="rgb(49,49,49)" stroke-width="0.7" opacity="0.33"/>
<line x1="69.2" y1="484.5" x2="67.0" y2="484.8" stroke="rgb(76,76,76)" stroke-width="0.7" opacity="0.41"/>
<line x1="69.2" y1="485.0" x2="70.3" y2="485.8" stroke="rgb(74,74,74)" stroke-width="0.7" opacity="0.50"/>
<line x1="69.9" y1="486.6" x2="70.2" y2="487.5" stroke="rgb(57,57,57)" stroke-width="0.7" opacity="0.25"/>
<line x1="54.4" y1="483.0" x2="54.9" y2="484.3" stroke="rgb(83,83,83)" stroke-width="0.7" opacity="0.31"/>
<line x1="80.7" y1="474.4" x2="82.6" y2="475.8" stroke="rgb(52,52,52)" stroke-width="0.7" opacity="0.26"/>
<line x1="75.9" y1="484.8" x2="75.6" y2="485.7" stroke="rgb(44,44,44)" stroke-width="0.7" opacity="0.25"/>
<line x1="75.7" y1="493.1" x2="74.7" y2="494.8" stroke="rgb(85,85,85)" stroke-width="0.7" opacity="0.41"/>
<line x1="79.6" y1="487.3" x2="78.1" y2="487.7" stroke="rgb(72,72,72)" stroke-width="0.7" opacity="0.23"/>
<line x1="56.1" y1="483.5" x2="55.4" y2="484.4" stroke="rgb(44,44,44)" stroke-width="0.7" opacity="0.30"/>
<line x1="69.0" y1="485.5" x2="67.6" y2="487.2" stroke="rgb(64,64,64)" stroke-width="0.7" opacity="0.27"/>
<line x1="70.0" y1="485.4" x2="70.9" y2="486.3" stroke="rgb(79,79,79)" stroke-width="0.7" opacity="0.38"/>
<line x1="74.1" y1="488.3" x2="76.0" y2="489.0" stroke="rgb(86,86,86)" stroke-width="0.7" opacity="0.34"/>
<line x1="80.7" y1="494.6" x2="80.0" y2="496.0" stroke="rgb(71,71,71)" stroke-width="0.7" opacity="0.43"/>
<line x1="75.7" y1="493.9" x2="76.5" y2="496.0" stroke="rgb(57,57,57)" stroke-width="0.7" opacity="0.35"/>
<line x1="71.4" y1="485.5" x2="71.0" y2="486.2" stroke="rgb(50,50,50)" stroke-width="0.7" opacity="0.36"/>
<line x1="59.2" y1="477.7" x2="58.3" y2="478.3" stroke="rgb(38,38,38)" stroke-width="0.7" opacity="0.38"/>
<line x1="71.1" y1="486.6" x2="70.1" y2="488.2" stroke="rgb(50,50,50)" stroke-width="0.7" opacity="0.52"/>
<line x1="71.4" y1="473.6" x2="72.9" y2="474.2" stroke="rgb(38,38,38)" stroke-width="0.7" opacity="0.52"/>
<line x1="66.2" y1="489.0" x2="67.7" y2="490.5" stroke="rgb(42,42,42)" stroke-width="0.7" opacity="0.42"/>
<line x1="62.8" y1="488.5" x2="64.0" y2="489.1" stroke="rgb(36,36,36)" stroke-width="0.7" opacity="0.21"/>
<line x1="61.1" y1="477.3" x2="59.1" y2="477.4" stroke="rgb(83,83,83)" stroke-width="0.7" opacity="0.35"/>
<line x1="55.7" y1="488.4" x2="54.8" y2="488.9" stroke="rgb(41,41,41)" stroke-width="0.7" opacity="0.45"/>
<line x1="58.3" y1="493.9" x2="57.2" y2="493.9" stroke="rgb(61,61,61)" stroke-width="0.7" opacity="0.33"/>
<line x1="73.9" y1="477.9" x2="73.6" y2="478.8" stroke="rgb(42,42,42)" stroke-width="0.7" opacity="0.50"/>
<line x1="65.3" y1="489.7" x2="67.1" y2="491.0" stroke="rgb(41,41,41)" stroke-width="0.7" opacity="0.44"/>
<line x1="68.1" y1="485.5" x2="69.8" y2="487.0" stroke="rgb(62,62,62)" stroke-width="0.7" opacity="0.31"/>
<line x1="58.9" y1="478.0" x2="58.4" y2="479.1" stroke="rgb(70,70,70)" stroke-width="0.7" opacity="0.43"/>
<line x1="72.6" y1="486.6" x2="71.3" y2="486.7" stroke="rgb(90,90,90)" stroke-width="0.7" opacity="0.37"/>
<line x1="60.1" y1="484.2" x2="60.5" y2="486.1" stroke="rgb(46,46,46)" stroke-width="0.7" opacity="0.30"/>
<line x1="60.6" y1="481.0" x2="59.2" y2="481.1" stroke="rgb(77,77,77)" stroke-width="0.7" opacity="0.44"/>
<line x1="82.1" y1="485.1" x2="81.4" y2="486.6" stroke="rgb(60,60,60)" stroke-width="0.7" opacity="0.31"/>
<line x1="75.2" y1="488.5" x2="73.3" y2="489.6" stroke="rgb(87,87,87)" stroke-width="0.7" opacity="0.29"/>
<line x1="77.2" y1="473.6" x2="77.2" y2="474.6" stroke="rgb(54,54,54)" stroke-width="0.7" opacity="0.25"/>
<line x1="65.7" y1="486.9" x2="63.8" y2="487.4" stroke="rgb(65,65,65)" stroke-width="0.7" opacity="0.39"/>
<line x1="81.2" y1="497.5" x2="80.2" y2="498.2" stroke="rgb(84,84,84)" stroke-width="0.7" opacity="0.47"/>
<line x1="66.1" y1="499.0" x2="64.8" y2="500.9" stroke="rgb(81,81,81)" stroke-width="0.7" opacity="0.40"/>
<line x1="80.0" y1="494.8" x2="79.0" y2="496.3" stroke="rgb(73,73,73)" stroke-width="0.7" opacity="0.40"/>
<line x1="73.0" y1="482.8" x2="72.6" y2="484.3" stroke="rgb(66,66,66)" stroke-width="0.7" opacity="0.44"/>
<line x1="70.6" y1="489.6" x2="72.5" y2="490.3" stroke="rgb(42,42,42)" stroke-width="0.7" opacity="0.39"/>
<line x1="69.1" y1="478.6" x2="68.2" y2="479.0" stroke="rgb(69,69,69)" stroke-width="0.7" opacity="0.23"/>
<line x1="60.2" y1="496.9" x2="59.7" y2="498.3" stroke="rgb(71,71,71)" stroke-width="0.7" opacity="0.30"/>
<line x1="70.8" y1="482.0" x2="69.6" y2="482.2" stroke="rgb(73,73,73)" stroke-width="0.7" opacity="0.21"/>
<line x1="61.9" y1="480.4" x2="60.6" y2="481.1" stroke="rgb(65,65,65)" stroke-width="0.7" opacity="0.22"/>
<line x1="72.2" y1="499.3" x2="70.5" y2="500.9" stroke="rgb(75,75,75)" stroke-width="0.7" opacity="0.53"/>
<line x1="54.4" y1="494.2" x2="52.5" y2="495.7" stroke="rgb(44,44,44)" stroke-width="0.7" opacity="0.28"/>
<line x1="78.9" y1="482.5" x2="77.6" y2="483.3" stroke="rgb(90,90,90)" stroke-width="0.7" opacity="0.28"/>
<line x1="78.3" y1="498.9" x2="77.8" y2="499.7" stroke="rgb(59,59,59)" stroke-width="0.7" opacity="0.51"/>
<line x1="69.1" y1="485.3" x2="68.2" y2="486.0" stroke="rgb(54,54,54)" stroke-width="0.7" opacity="0.30"/>
<line x1="76.9" y1="484.9" x2="77.6" y2="486.7" stroke="rgb(43,43,43)" stroke-width="0.7" opacity="0.21"/>
<line x1="70.3" y1="474.9" x2="71.0" y2="475.5" stroke="rgb(90,90,90)" stroke-width="0.7" opacity="0.37"/>
<line x1="76.7" y1="491.2" x2="76.7" y2="492.7" stroke="rgb(74,74,74)" stroke-width="0.7" opacity="0.23"/>
<line x1="69.6" y1="498.5" x2="68.7" y2="499.8" stroke="rgb(46,46,46)" stroke-width="0.7" opacity="0.53"/>
<line x1="59.8" y1="476.2" x2="60.2" y2="477.9" stroke="rgb(60,60,60)" stroke-width="0.7" opacity="0.46"/>
<line x1="67.5" y1="484.6" x2="67.8" y2="485.9" stroke="rgb(53,53,53)" stroke-width="0.7" opacity="0.23"/>
<line x1="59.1" y1="479.4" x2="58.1" y2="480.0" stroke="rgb(62,62,62)" stroke-width="0.7" opacity="0.24"/>
<line x1="70.4" y1="479.7" x2="71.5" y2="480.9" stroke="rgb(80,80,80)" stroke-width="0.7" opacity="0.44"/>
<line x1="63.2" y1="474.9" x2="61.5" y2="476.4" stroke="rgb(81,81,81)" stroke-width="0.7" opacity="0.36"/>
<line x1="69.0" y1="477.2" x2="68.5" y2="478.0" stroke="rgb(86,86,86)" stroke-width="0.7" opacity="0.33"/>
<line x1="54.3" y1="487.8" x2="52.3" y2="488.0" stroke="rgb(84,84,84)" stroke-width="0.7" opacity="0.37"/>
<line x1="73.6" y1="479.3" x2="75.0" y2="479.6" stroke="rgb(36,36,36)" stroke-width="0.7" opacity="0.41"/>
<line x1="69.0" y1="489.3" x2="68.7" y2="490.2" stroke="rgb(64,64,64)" stroke-width="0.7" opacity="0.32"/>
<line x1="73.6" y1="487.2" x2="74.3" y2="488.7" stroke="rgb(37,37,37)" stroke-width="0.7" opacity="0.23"/>
<line x1="58.7" y1="487.8" x2="60.6" y2="488.9" stroke="rgb(55,55,55)" stroke-width="0.7" opacity="0.42"/>
<line x1="75.3" y1="480.2" x2="76.1" y2="481.1" stroke="rgb(73,73,73)" stroke-width="0.7" opacity="0.47"/>
<line x1="70.9" y1="494.5" x2="72.1" y2="494.5" stroke="rgb(80,80,80)" stroke-width="0.7" opacity="0.37"/>
<line x1="71.6" y1="483.5" x2="71.9" y2="484.4" stroke="rgb(45,45,45)" stroke-width="0.7" opacity="0.25"/>
<line x1="75.8" y1="471.1" x2="76.8" y2="472.6" stroke="rgb(88,88,88)" stroke-width="0.7" opacity="0.52"/>
<line x1="69.8" y1="489.1" x2="71.2" y2="489.6" stroke="rgb(48,48,48)" stroke-width="0.7" opacity="0.51"/>
<line x1="71.0" y1="472.1" x2="69.7" y2="473.1" stroke="rgb(53,53,53)" stroke-width="0.7" opacity="0.36"/>
<line x1="73.0" y1="488.2" x2="73.1" y2="489.2" stroke="rgb(49,49,49)" stroke-width="0.7" opacity="0.49"/>
<line x1="55.9" y1="489.3" x2="55.7" y2="490.8" stroke="rgb(45,45,45)" stroke-width="0.7" opacity="0.27"/>
<line x1="69.3" y1="493.6" x2="70.1" y2="494.7" stroke="rgb(73,73,73)" stroke-width="0.7" opacity="0.52"/>
<line x1="68.6" y1="489.6" x2="68.0" y2="490.1" stroke="rgb(90,90,90)" stroke-width="0.7" opacity="0.54"/>
<line x1="73.7" y1="487.2" x2="75.4" y2="487.9" stroke="rgb(63,63,63)" stroke-width="0.7" opacity="0.44"/>
<line x1="71.3" y1="487.8" x2="70.5" y2="489.9" stroke="rgb(75,75,75)" stroke-width="0.7" opacity="0.44"/>
<line x1="67.6" y1="483.7" x2="68.3" y2="484.2" stroke="rgb(81,81,81)" stroke-width="0.7" opacity="0.37"/>
<line x1="70.2" y1="484.1" x2="71.4" y2="486.0" stroke="rgb(36,36,36)" stroke-width="0.7" opacity="0.40"/>
<line x1="60.1" y1="485.1" x2="60.6" y2="485.7" stroke="rgb(60,60,60)" stroke-width="0.7" opacity="0.29"/>
<line x1="53.2" y1="481.9" x2="54.7" y2="482.3" stroke="rgb(69,69,69)" stroke-width="0.7" opacity="0.47"/>
<line x1="63.1" y1="483.7" x2="64.2" y2="483.8" stroke="rgb(74,74,74)" stroke-width="0.7" opacity="0.22"/>
<line x1="65.6" y1="493.0" x2="65.9" y2="493.9" stroke="rgb(60,60,60)" stroke-width="0.7" opacity="0.49"/>
<line x1="56.7" y1="487.8" x2="56.2" y2="488.6" stroke="rgb(85,85,85)" stroke-width="0.7" opacity="0.25"/>
<line x1="59.7" y1="491.5" x2="61.1" y2="492.6" stroke="rgb(52,52,52)" stroke-width="0.7" opacity="0.31"/>
<line x1="62.0" y1="492.2" x2="61.8" y2="493.0" stroke="rgb(68,68,68)" stroke-width="0.7" opacity="0.27"/>
<line x1="56.3" y1="484.4" x2="57.2" y2="485.1" stroke="rgb(45,45,45)" stroke-width="0.7" opacity="0.26"/>
<line x1="62.9" y1="477.2" x2="62.3" y2="477.7" stroke="rgb(53,53,53)" stroke-width="0.7" opacity="0.49"/>
<line x1="82.0" y1="489.1" x2="79.7" y2="489.6" stroke="rgb(65,65,65)" stroke-width="0.7" opacity="0.28"/>
<line x1="55.1" y1="488.6" x2="53.9" y2="490.7" stroke="rgb(41,41,41)" stroke-width="0.7" opacity="0.51"/>
<line x1="78.4" y1="489.7" x2="77.6" y2="491.1" stroke="rgb(65,65,65)" stroke-width="0.7" opacity="0.35"/>
<line x1="74.5" y1="479.6" x2="74.8" y2="480.8" stroke="rgb(63,63,63)" stroke-width="0.7" opacity="0.34"/>
<line x1="71.7" y1="478.5" x2="73.5" y2="479.7" stroke="rgb(74,74,74)" stroke-width="0.7" opacity="0.50"/>
<line x1="62.0" y1="478.9" x2="61.6" y2="480.4" stroke="rgb(36,36,36)" stroke-width="0.7" opacity="0.22"/>
<line x1="70.3" y1="470.4" x2="72.0" y2="471.9" stroke="rgb(83,83,83)" stroke-width="0.7" opacity="0.32"/>
<line x1="77.5" y1="491.2" x2="77.2" y2="492.4" stroke="rgb(37,37,37)" stroke-width="0.7" opacity="0.47"/>
<line x1="72.5" y1="481.1" x2="73.3" y2="482.3" stroke="rgb(45,45,45)" stroke-width="0.7" opacity="0.35"/>
<line x1="69.3" y1="493.2" x2="70.6" y2="493.3" stroke="rgb(42,42,42)" stroke-width="0.7" opacity="0.23"/>
<line x1="58.9" y1="476.5" x2="60.2" y2="476.8" stroke="rgb(49,49,49)" stroke-width="0.7" opacity="0.36"/>
<line x1="56.3" y1="494.8" x2="56.5" y2="496.9" stroke="rgb(90,90,90)" stroke-width="0.7" opacity="0.43"/>
<line x1="75.6" y1="475.3" x2="75.1" y2="476.1" stroke="rgb(71,71,71)" stroke-width="0.7" opacity="0.22"/>
<line x1="67.4" y1="494.4" x2="66.8" y2="496.0" stroke="rgb(46,46,46)" stroke-width="0.7" opacity="0.44"/>
<line x1="84.7" y1="487.6" x2="82.8" y2="488.1" stroke="rgb(57,57,57)" stroke-width="0.7" opacity="0.22"/>
<line x1="61.7" y1="488.7" x2="63.5" y2="490.3" stroke="rgb(44,44,44)" stroke-width="0.7" opacity="0.34"/>
<line x1="69.5" y1="487.0" x2="69.4" y2="489.1" stroke="rgb(69,69,69)" stroke-width="0.7" opacity="0.21"/>
<line x1="61.8" y1="489.6" x2="62.8" y2="489.8" stroke="rgb(63,63,63)" stroke-width="0.7" opacity="0.50"/>
<line x1="61.1" y1="493.2" x2="61.7" y2="494.3" stroke="rgb(62,62,62)" stroke-width="0.7" opacity="0.52"/>
<line x1="83.1" y1="493.1" x2="85.0" y2="494.2" stroke="rgb(45,45,45)" stroke-width="0.7" opacity="0.39"/>
<line x1="71.6" y1="472.1" x2="69.9" y2="473.8" stroke="rgb(52,52,52)" stroke-width="0.7" opacity="0.30"/>
<line x1="60.5" y1="497.4" x2="61.1" y2="498.7" stroke="rgb(90,90,90)" stroke-width="0.7" opacity="0.28"/>
<line x1="53.8" y1="482.1" x2="54.9" y2="482.2" stroke="rgb(68,68,68)" stroke-width="0.7" opacity="0.43"/>
<line x1="67.6" y1="501.3" x2="67.7" y2="503.1" stroke="rgb(86,86,86)" stroke-width="0.7" opacity="0.26"/>
<line x1="60.8" y1="486.8" x2="62.1" y2="487.5" stroke="rgb(42,42,42)" stroke-width="0.7" opacity="0.23"/>
<line x1="55.5" y1="481.9" x2="56.1" y2="482.6" stroke="rgb(85,85,85)" stroke-width="0.7" opacity="0.39"/>
<line x1="79.8" y1="477.5" x2="81.4" y2="478.1" stroke="rgb(57,57,57)" stroke-width="0.7" opacity="0.51"/>
<line x1="70.0" y1="485.1" x2="69.6" y2="487.0" stroke="rgb(87,87,87)" stroke-width="0.7" opacity="0.55"/>
<line x1="53.9" y1="492.6" x2="55.0" y2="493.1" stroke="rgb(72,72,72)" stroke-width="0.7" opacity="0.22"/>
<line x1="78.9" y1="483.7" x2="77.2" y2="483.9" stroke="rgb(55,55,55)" stroke-width="0.7" opacity="0.25"/>
<line x1="68.4" y1="483.0" x2="68.0" y2="484.1" stroke="rgb(80,80,80)" stroke-width="0.7" opacity="0.52"/>
<line x1="65.9" y1="474.0" x2="66.3" y2="475.8" stroke="rgb(43,43,43)" stroke-width="0.7" opacity="0.32"/>
<line x1="71.4" y1="474.2" x2="72.6" y2="474.8" stroke="rgb(36,36,36)" stroke-width="0.7" opacity="0.52"/>
<line x1="56.4" y1="490.4" x2="57.3" y2="491.9" stroke="rgb(62,62,62)" stroke-width="0.7" opacity="0.37"/>
<line x1="61.7" y1="496.7" x2="59.8" y2="497.2" stroke="rgb(38,38,38)" stroke-width="0.7" opacity="0.39"/>
<line x1="61.8" y1="487.3" x2="62.5" y2="487.8" stroke="rgb(35,35,35)" stroke-width="0.7" opacity="0.27"/>
<line x1="54.7" y1="489.4" x2="53.4" y2="489.5" stroke="rgb(67,67,67)" stroke-width="0.7" opacity="0.52"/>
<line x1="68.0" y1="496.2" x2="68.3" y2="498.1" stroke="rgb(41,41,41)" stroke-width="0.7" opacity="0.22"/>
<line x1="68.4" y1="480.0" x2="67.9" y2="480.7" stroke="rgb(73,73,73)" stroke-width="0.7" opacity="0.42"/>
<line x1="65.1" y1="500.0" x2="65.5" y2="501.9" stroke="rgb(36,36,36)" stroke-width="0.7" opacity="0.40"/>
<line x1="69.7" y1="476.8" x2="68.6" y2="478.4" stroke="rgb(81,81,81)" stroke-width="0.7" opacity="0.47"/>
<line x1="79.3" y1="489.2" x2="79.6" y2="490.1" stroke="rgb(76,76,76)" stroke-width="0.7" opacity="0.24"/>
<line x1="54.9" y1="480.2" x2="53.6" y2="481.4" stroke="rgb(70,70,70)" stroke-width="0.7" opacity="0.32"/>
<line x1="66.1" y1="487.9" x2="65.3" y2="488.9" stroke="rgb(86,86,86)" stroke-width="0.7" opacity="0.34"/>
<line x1="66.2" y1="482.6" x2="67.8" y2="484.3" stroke="rgb(86,86,86)" stroke-width="0.7" opacity="0.44"/>
<line x1="71.0" y1="475.9" x2="72.3" y2="476.5" stroke="rgb(72,72,72)" stroke-width="0.7" opacity="0.26"/>
<line x1="55.4" y1="496.2" x2="54.4" y2="496.5" stroke="rgb(77,77,77)" stroke-width="0.7" opacity="0.23"/>
<line x1="57.3" y1="479.2" x2="56.4" y2="480.3" stroke="rgb(51,51,51)" stroke-width="0.7" opacity="0.48"/>
<line x1="68.5" y1="479.4" x2="69.3" y2="481.6" stroke="rgb(75,75,75)" stroke-width="0.7" opacity="0.24"/>
<line x1="85.8" y1="482.5" x2="86.1" y2="484.6" stroke="rgb(85,85,85)" stroke-width="0.7" opacity="0.25"/>
<line x1="69.5" y1="494.0" x2="68.7" y2="494.5" stroke="rgb(49,49,49)" stroke-width="0.7" opacity="0.23"/>
<line x1="82.8" y1="489.1" x2="83.9" y2="489.7" stroke="rgb(37,37,37)" stroke-width="0.7" opacity="0.32"/>
<line x1="80.8" y1="489.6" x2="82.7" y2="490.6" stroke="rgb(74,74,74)" stroke-width="0.7" opacity="0.40"/>
<line x1="78.6" y1="477.0" x2="76.9" y2="478.3" stroke="rgb(60,60,60)" stroke-width="0.7" opacity="0.40"/>
<line x1="75.0" y1="496.6" x2="73.2" y2="497.9" stroke="rgb(39,39,39)" stroke-width="0.7" opacity="0.22"/>
<line x1="82.2" y1="487.2" x2="83.7" y2="487.2" stroke="rgb(41,41,41)" stroke-width="0.7" opacity="0.43"/>
<line x1="68.4" y1="473.8" x2="66.1" y2="474.2" stroke="rgb(72,72,72)" stroke-width="0.7" opacity="0.47"/>
<line x1="63.2" y1="487.5" x2="62.7" y2="488.5" stroke="rgb(76,76,76)" stroke-width="0.7" opacity="0.47"/>
<line x1="52.6" y1="485.1" x2="52.9" y2="487.2" stroke="rgb(58,58,58)" stroke-width="0.7" opacity="0.55"/>
<line x1="71.6" y1="480.0" x2="70.6" y2="480.9" stroke="rgb(42,42,42)" stroke-width="0.7" opacity="0.27"/>
<line x1="74.8" y1="483.1" x2="77.1" y2="483.2" stroke="rgb(49,49,49)" stroke-width="0.7" opacity="0.45"/>
<line x1="55.1" y1="487.5" x2="55.5" y2="489.3" stroke="rgb(61,61,61)" stroke-width="0.7" opacity="0.42"/>
<line x1="72.1" y1="488.5" x2="73.1" y2="490.1" stroke="rgb(53,53,53)" stroke-width="0.7" opacity="0.54"/>
<line x1="69.5" y1="489.6" x2="67.7" y2="491.2" stroke="rgb(35,35,35)" stroke-width="0.7" opacity="0.25"/>
<line x1="69.5" y1="481.1" x2="71.5" y2="481.7" stroke="rgb(86,86,86)" stroke-width="0.7" opacity="0.24"/>
<line x1="64.1" y1="489.1" x2="63.0" y2="491.0" stroke="rgb(63,63,63)" stroke-width="0.7" opacity="0.48"/>
<line x1="73.8" y1="493.3" x2="74.7" y2="495.0" stroke="rgb(88,88,88)" stroke-width="0.7" opacity="0.29"/>
<line x1="69.1" y1="483.1" x2="66.9" y2="483.8" stroke="rgb(51,51,51)" stroke-width="0.7" opacity="0.41"/>
<line x1="71.3" y1="486.2" x2="70.0" y2="487.9" stroke="rgb(88,88,88)" stroke-width="0.7" opacity="0.29"/>
<line x1="73.0" y1="483.6" x2="71.6" y2="483.6" stroke="rgb(79,79,79)" stroke-width="0.7" opacity="0.46"/>
<line x1="69.6" y1="480.7" x2="70.7" y2="482.7" stroke="rgb(35,35,35)" stroke-width="0.7" opacity="0.32"/>
<line x1="71.9" y1="476.7" x2="73.3" y2="478.2" stroke="rgb(72,72,72)" stroke-width="0.7" opacity="0.34"/>
<line x1="57.4" y1="476.4" x2="57.9" y2="478.7" stroke="rgb(86,86,86)" stroke-width="0.7" opacity="0.41"/>
<line x1="80.3" y1="476.1" x2="78.5" y2="476.4" stroke="rgb(41,41,41)" stroke-width="0.7" opacity="0.26"/>
<line x1="69.4" y1="471.5" x2="69.8" y2="472.7" stroke="rgb(89,89,89)" stroke-width="0.7" opacity="0.20"/>
<line x1="58.1" y1="493.8" x2="58.2" y2="496.1" stroke="rgb(77,77,77)" stroke-width="0.7" opacity="0.34"/>
<line x1="72.5" y1="470.5" x2="71.8" y2="471.9" stroke="rgb(77,77,77)" stroke-width="0.7" opacity="0.54"/>
<line x1="69.4" y1="483.9" x2="70.5" y2="485.4" stroke="rgb(87,87,87)" stroke-width="0.7" opacity="0.25"/>
<line x1="64.0" y1="494.1" x2="64.0" y2="495.0" stroke="rgb(52,52,52)" stroke-width="0.7" opacity="0.50"/>
<line x1="66.4" y1="494.7" x2="65.3" y2="495.4" stroke="rgb(45,45,45)" stroke-width="0.7" opacity="0.32"/>
<line x1="75.5" y1="494.3" x2="74.7" y2="495.6" stroke="rgb(78,78,78)" stroke-width="0.7" opacity="0.51"/>
<line x1="68.7" y1="484.6" x2="70.0" y2="486.6" stroke="rgb(48,48,48)" stroke-width="0.7" opacity="0.38"/>
<line x1="65.1" y1="496.0" x2="64.3" y2="498.1" stroke="rgb(41,41,41)" stroke-width="0.7" opacity="0.31"/>
<line x1="78.0" y1="481.4" x2="78.3" y2="482.7" stroke="rgb(74,74,74)" stroke-width="0.7" opacity="0.45"/>
<line x1="65.9" y1="485.6" x2="67.7" y2="485.8" stroke="rgb(36,36,36)" stroke-width="0.7" opacity="0.51"/>
<line x1="75.8" y1="480.0" x2="77.2" y2="481.1" stroke="rgb(77,77,77)" stroke-width="0.7" opacity="0.48"/>
</g>
<rect x="101.3" y="465.2" width="52.4" height="52" fill="#898989" stroke="#686868" stroke-width="1.1"/>
<ellipse cx="127.8" cy="489.9" rx="21.735" ry="22.575" fill="url(#blob1)" opacity="1.0"/>
<g filter="url(#b04)">
<line x1="129.4" y1="489.4" x2="128.6" y2="490.0" stroke="rgb(88,88,88)" stroke-width="0.7" opacity="0.50"/>
<line x1="127.7" y1="499.8" x2="129.2" y2="500.6" stroke="rgb(37,37,37)" stroke-width="0.7" opacity="0.35"/>
<line x1="114.0" y1="501.2" x2="114.3" y2="502.9" stroke="rgb(58,58,58)" stroke-width="0.7" opacity="0.29"/>
<line x1="131.1" y1="490.7" x2="128.9" y2="491.4" stroke="rgb(64,64,64)" stroke-width="0.7" opacity="0.35"/>
<line x1="134.1" y1="484.1" x2="135.2" y2="484.2" stroke="rgb(46,46,46)" stroke-width="0.7" opacity="0.31"/>
<line x1="137.5" y1="501.5" x2="139.0" y2="502.5" stroke="rgb(67,67,67)" stroke-width="0.7" opacity="0.51"/>
<line x1="132.9" y1="472.3" x2="132.5" y2="473.6" stroke="rgb(83,83,83)" stroke-width="0.7" opacity="0.33"/>
<line x1="136.5" y1="478.8" x2="135.6" y2="479.8" stroke="rgb(83,83,83)" stroke-width="0.7" opacity="0.43"/>
<line x1="127.8" y1="501.3" x2="126.4" y2="502.1" stroke="rgb(66,66,66)" stroke-width="0.7" opacity="0.32"/>
<line x1="136.1" y1="482.1" x2="136.1" y2="484.1" stroke="rgb(70,70,70)" stroke-width="0.7" opacity="0.28"/>
<line x1="120.0" y1="505.9" x2="119.2" y2="508.0" stroke="rgb(45,45,45)" stroke-width="0.7" opacity="0.47"/>
<line x1="116.5" y1="491.4" x2="116.5" y2="493.3" stroke="rgb(86,86,86)" stroke-width="0.7" opacity="0.38"/>
<line x1="118.6" y1="476.5" x2="118.7" y2="478.4" stroke="rgb(54,54,54)" stroke-width="0.7" opacity="0.33"/>
<line x1="120.0" y1="471.4" x2="118.1" y2="472.0" stroke="rgb(56,56,56)" stroke-width="0.7" opacity="0.27"/>
<line x1="127.6" y1="484.7" x2="127.4" y2="485.5" stroke="rgb(76,76,76)" stroke-width="0.7" opacity="0.44"/>
<line x1="131.9" y1="487.4" x2="130.9" y2="487.8" stroke="rgb(87,87,87)" stroke-width="0.7" opacity="0.35"/>
<line x1="127.0" y1="486.1" x2="128.0" y2="487.1" stroke="rgb(58,58,58)" stroke-width="0.7" opacity="0.21"/>
<line x1="131.8" y1="493.6" x2="133.8" y2="493.7" stroke="rgb(37,37,37)" stroke-width="0.7" opacity="0.29"/>
<line x1="131.0" y1="482.0" x2="132.6" y2="482.1" stroke="rgb(46,46,46)" stroke-width="0.7" opacity="0.41"/>
<line x1="130.6" y1="479.6" x2="129.8" y2="479.8" stroke="rgb(37,37,37)" stroke-width="0.7" opacity="0.42"/>
<line x1="127.6" y1="478.4" x2="127.8" y2="479.2" stroke="rgb(66,66,66)" stroke-width="0.7" opacity="0.47"/>
<line x1="126.6" y1="469.5" x2="128.1" y2="470.4" stroke="rgb(90,90,90)" stroke-width="0.7" opacity="0.54"/>
<line x1="142.1" y1="499.8" x2="142.2" y2="500.7" stroke="rgb(88,88,88)" stroke-width="0.7" opacity="0.51"/>
<line x1="138.8" y1="501.7" x2="139.6" y2="503.1" stroke="rgb(60,60,60)" stroke-width="0.7" opacity="0.51"/>
<line x1="122.1" y1="499.1" x2="121.0" y2="500.6" stroke="rgb(61,61,61)" stroke-width="0.7" opacity="0.54"/>
<line x1="122.8" y1="480.4" x2="123.8" y2="480.7" stroke="rgb(43,43,43)" stroke-width="0.7" opacity="0.42"/>
<line x1="107.3" y1="488.8" x2="107.5" y2="489.9" stroke="rgb(50,50,50)" stroke-width="0.7" opacity="0.29"/>
<line x1="114.1" y1="480.7" x2="114.8" y2="482.3" stroke="rgb(86,86,86)" stroke-width="0.7" opacity="0.44"/>
<line x1="126.6" y1="497.0" x2="125.9" y2="497.7" stroke="rgb(45,45,45)" stroke-width="0.7" opacity="0.28"/>
<line x1="134.9" y1="495.3" x2="135.9" y2="495.4" stroke="rgb(49,49,49)" stroke-width="0.7" opacity="0.43"/>
<line x1="113.3" y1="494.4" x2="112.2" y2="494.7" stroke="rgb(59,59,59)" stroke-width="0.7" opacity="0.54"/>
<line x1="126.0" y1="475.9" x2="125.8" y2="476.7" stroke="rgb(67,67,67)" stroke-width="0.7" opacity="0.51"/>
<line x1="142.0" y1="482.8" x2="142.2" y2="484.7" stroke="rgb(41,41,41)" stroke-width="0.7" opacity="0.21"/>
<line x1="134.7" y1="488.1" x2="133.5" y2="488.2" stroke="rgb(58,58,58)" stroke-width="0.7" opacity="0.33"/>
<line x1="144.8" y1="492.0" x2="145.6" y2="492.6" stroke="rgb(41,41,41)" stroke-width="0.7" opacity="0.47"/>
<line x1="133.2" y1="478.9" x2="132.9" y2="480.0" stroke="rgb(64,64,64)" stroke-width="0.7" opacity="0.23"/>
<line x1="125.1" y1="502.7" x2="124.4" y2="503.4" stroke="rgb(81,81,81)" stroke-width="0.7" opacity="0.27"/>
<line x1="116.1" y1="484.1" x2="116.6" y2="485.0" stroke="rgb(64,64,64)" stroke-width="0.7" opacity="0.51"/>
<line x1="127.6" y1="497.4" x2="126.7" y2="499.4" stroke="rgb(74,74,74)" stroke-width="0.7" opacity="0.54"/>
<line x1="126.7" y1="486.7" x2="128.2" y2="486.9" stroke="rgb(77,77,77)" stroke-width="0.7" opacity="0.45"/>
<line x1="125.9" y1="497.5" x2="126.0" y2="499.2" stroke="rgb(65,65,65)" stroke-width="0.7" opacity="0.53"/>
<line x1="134.5" y1="470.3" x2="135.8" y2="471.0" stroke="rgb(53,53,53)" stroke-width="0.7" opacity="0.41"/>
<line x1="111.3" y1="484.5" x2="110.7" y2="486.7" stroke="rgb(79,79,79)" stroke-width="0.7" opacity="0.49"/>
<line x1="138.0" y1="497.2" x2="138.2" y2="498.2" stroke="rgb(69,69,69)" stroke-width="0.7" opacity="0.22"/>
<line x1="144.6" y1="500.4" x2="143.7" y2="500.5" stroke="rgb(76,76,76)" stroke-width="0.7" opacity="0.34"/>
<line x1="126.9" y1="486.5" x2="126.8" y2="487.5" stroke="rgb(53,53,53)" stroke-width="0.7" opacity="0.53"/>
<line x1="128.0" y1="483.2" x2="128.0" y2="484.4" stroke="rgb(68,68,68)" stroke-width="0.7" opacity="0.26"/>
<line x1="137.5" y1="505.2" x2="137.0" y2="507.2" stroke="rgb(57,57,57)" stroke-width="0.7" opacity="0.25"/>
<line x1="124.5" y1="491.2" x2="123.5" y2="492.3" stroke="rgb(73,73,73)" stroke-width="0.7" opacity="0.34"/>
<line x1="138.0" y1="493.6" x2="136.1" y2="494.0" stroke="rgb(51,51,51)" stroke-width="0.7" opacity="0.45"/>
<line x1="112.9" y1="492.6" x2="112.1" y2="493.1" stroke="rgb(77,77,77)" stroke-width="0.7" opacity="0.45"/>
<line x1="119.0" y1="488.0" x2="117.2" y2="488.1" stroke="rgb(87,87,87)" stroke-width="0.7" opacity="0.42"/>
<line x1="141.9" y1="491.0" x2="142.1" y2="493.2" stroke="rgb(80,80,80)" stroke-width="0.7" opacity="0.26"/>
<line x1="138.7" y1="497.5" x2="138.1" y2="499.4" stroke="rgb(48,48,48)" stroke-width="0.7" opacity="0.52"/>
<line x1="132.7" y1="485.4" x2="131.3" y2="486.4" stroke="rgb(87,87,87)" stroke-width="0.7" opacity="0.30"/>
<line x1="141.7" y1="482.1" x2="143.6" y2="483.0" stroke="rgb(66,66,66)" stroke-width="0.7" opacity="0.41"/>
<line x1="118.2" y1="494.2" x2="117.6" y2="495.1" stroke="rgb(71,71,71)" stroke-width="0.7" opacity="0.54"/>
<line x1="128.6" y1="477.2" x2="127.7" y2="478.6" stroke="rgb(66,66,66)" stroke-width="0.7" opacity="0.22"/>
<line x1="111.1" y1="478.6" x2="111.1" y2="479.9" stroke="rgb(64,64,64)" stroke-width="0.7" opacity="0.21"/>
<line x1="139.6" y1="496.6" x2="141.3" y2="498.4" stroke="rgb(85,85,85)" stroke-width="0.7" opacity="0.42"/>
<line x1="136.6" y1="474.1" x2="137.0" y2="475.1" stroke="rgb(38,38,38)" stroke-width="0.7" opacity="0.36"/>
<line x1="127.2" y1="492.0" x2="128.8" y2="492.0" stroke="rgb(70,70,70)" stroke-width="0.7" opacity="0.21"/>
<line x1="136.9" y1="476.8" x2="138.2" y2="478.6" stroke="rgb(48,48,48)" stroke-width="0.7" opacity="0.43"/>
<line x1="112.7" y1="491.5" x2="111.9" y2="492.0" stroke="rgb(54,54,54)" stroke-width="0.7" opacity="0.31"/>
<line x1="116.6" y1="474.6" x2="115.0" y2="475.1" stroke="rgb(60,60,60)" stroke-width="0.7" opacity="0.38"/>
<line x1="131.7" y1="506.0" x2="130.0" y2="507.3" stroke="rgb(89,89,89)" stroke-width="0.7" opacity="0.42"/>
<line x1="124.2" y1="499.6" x2="124.1" y2="501.3" stroke="rgb(64,64,64)" stroke-width="0.7" opacity="0.22"/>
<line x1="140.8" y1="501.3" x2="141.4" y2="502.6" stroke="rgb(85,85,85)" stroke-width="0.7" opacity="0.31"/>
<line x1="140.2" y1="496.7" x2="138.7" y2="497.3" stroke="rgb(45,45,45)" stroke-width="0.7" opacity="0.36"/>
<line x1="139.5" y1="503.5" x2="140.2" y2="504.3" stroke="rgb(75,75,75)" stroke-width="0.7" opacity="0.26"/>
<line x1="138.6" y1="480.4" x2="139.3" y2="482.1" stroke="rgb(83,83,83)" stroke-width="0.7" opacity="0.32"/>
<line x1="130.6" y1="479.9" x2="131.2" y2="481.5" stroke="rgb(86,86,86)" stroke-width="0.7" opacity="0.48"/>
<line x1="127.8" y1="478.5" x2="127.7" y2="480.8" stroke="rgb(81,81,81)" stroke-width="0.7" opacity="0.44"/>
<line x1="144.7" y1="484.0" x2="143.9" y2="485.8" stroke="rgb(90,90,90)" stroke-width="0.7" opacity="0.54"/>
<line x1="124.6" y1="474.6" x2="125.4" y2="476.3" stroke="rgb(75,75,75)" stroke-width="0.7" opacity="0.34"/>
<line x1="132.2" y1="498.8" x2="132.7" y2="500.0" stroke="rgb(46,46,46)" stroke-width="0.7" opacity="0.54"/>
<line x1="134.5" y1="495.3" x2="132.4" y2="496.1" stroke="rgb(39,39,39)" stroke-width="0.7" opacity="0.47"/>
<line x1="113.8" y1="496.1" x2="113.1" y2="498.1" stroke="rgb(50,50,50)" stroke-width="0.7" opacity="0.39"/>
<line x1="123.9" y1="490.7" x2="124.8" y2="491.1" stroke="rgb(66,66,66)" stroke-width="0.7" opacity="0.27"/>
<line x1="127.7" y1="503.8" x2="128.5" y2="504.4" stroke="rgb(51,51,51)" stroke-width="0.7" opacity="0.45"/>
<line x1="127.2" y1="485.3" x2="126.6" y2="487.0" stroke="rgb(58,58,58)" stroke-width="0.7" opacity="0.50"/>
<line x1="130.1" y1="494.7" x2="132.0" y2="495.6" stroke="rgb(63,63,63)" stroke-width="0.7" opacity="0.38"/>
<line x1="134.6" y1="479.6" x2="132.7" y2="479.8" stroke="rgb(84,84,84)" stroke-width="0.7" opacity="0.28"/>
<line x1="142.7" y1="495.4" x2="142.0" y2="497.4" stroke="rgb(69,69,69)" stroke-width="0.7" opacity="0.41"/>
<line x1="107.9" y1="484.8" x2="109.5" y2="485.7" stroke="rgb(88,88,88)" stroke-width="0.7" opacity="0.34"/>
<line x1="116.8" y1="493.4" x2="115.6" y2="495.3" stroke="rgb(42,42,42)" stroke-width="0.7" opacity="0.52"/>
<line x1="137.9" y1="495.5" x2="139.3" y2="496.8" stroke="rgb(86,86,86)" stroke-width="0.7" opacity="0.43"/>
<line x1="128.4" y1="493.2" x2="130.2" y2="493.8" stroke="rgb(62,62,62)" stroke-width="0.7" opacity="0.54"/>
<line x1="125.1" y1="486.0" x2="125.1" y2="487.2" stroke="rgb(65,65,65)" stroke-width="0.7" opacity="0.40"/>
<line x1="137.2" y1="501.6" x2="137.1" y2="502.4" stroke="rgb(38,38,38)" stroke-width="0.7" opacity="0.20"/>
<line x1="132.5" y1="478.4" x2="134.5" y2="479.3" stroke="rgb(68,68,68)" stroke-width="0.7" opacity="0.37"/>
<line x1="132.6" y1="495.3" x2="131.3" y2="496.2" stroke="rgb(41,41,41)" stroke-width="0.7" opacity="0.42"/>
<line x1="119.4" y1="481.0" x2="117.3" y2="481.6" stroke="rgb(76,76,76)" stroke-width="0.7" opacity="0.45"/>
<line x1="125.7" y1="489.8" x2="124.7" y2="489.9" stroke="rgb(87,87,87)" stroke-width="0.7" opacity="0.26"/>
<line x1="131.4" y1="501.9" x2="131.9" y2="503.3" stroke="rgb(44,44,44)" stroke-width="0.7" opacity="0.48"/>
<line x1="133.7" y1="475.0" x2="133.5" y2="476.2" stroke="rgb(65,65,65)" stroke-width="0.7" opacity="0.37"/>
<line x1="125.3" y1="503.6" x2="124.4" y2="505.3" stroke="rgb(43,43,43)" stroke-width="0.7" opacity="0.21"/>
<line x1="119.0" y1="486.8" x2="120.4" y2="487.0" stroke="rgb(47,47,47)" stroke-width="0.7" opacity="0.25"/>
<line x1="138.3" y1="491.5" x2="139.8" y2="491.8" stroke="rgb(81,81,81)" stroke-width="0.7" opacity="0.47"/>
<line x1="136.2" y1="472.3" x2="134.3" y2="472.3" stroke="rgb(37,37,37)" stroke-width="0.7" opacity="0.25"/>
<line x1="121.0" y1="470.6" x2="118.7" y2="471.3" stroke="rgb(40,40,40)" stroke-width="0.7" opacity="0.36"/>
<line x1="125.3" y1="499.4" x2="124.2" y2="500.1" stroke="rgb(87,87,87)" stroke-width="0.7" opacity="0.50"/>
<line x1="122.5" y1="489.3" x2="124.3" y2="489.5" stroke="rgb(61,61,61)" stroke-width="0.7" opacity="0.30"/>
<line x1="138.5" y1="476.8" x2="137.3" y2="477.2" stroke="rgb(81,81,81)" stroke-width="0.7" opacity="0.28"/>
<line x1="120.2" y1="503.6" x2="119.0" y2="504.8" stroke="rgb(60,60,60)" stroke-width="0.7" opacity="0.51"/>
<line x1="121.1" y1="493.2" x2="121.4" y2="495.2" stroke="rgb(45,45,45)" stroke-width="0.7" opacity="0.36"/>
<line x1="119.7" y1="502.1" x2="119.3" y2="503.8" stroke="rgb(51,51,51)" stroke-width="0.7" opacity="0.36"/>
<line x1="127.8" y1="488.5" x2="126.2" y2="489.3" stroke="rgb(58,58,58)" stroke-width="0.7" opacity="0.28"/>
<line x1="115.2" y1="478.3" x2="116.3" y2="479.9" stroke="rgb(43,43,43)" stroke-width="0.7" opacity="0.27"/>
<line x1="133.7" y1="479.8" x2="135.7" y2="480.0" stroke="rgb(35,35,35)" stroke-width="0.7" opacity="0.55"/>
<line x1="141.9" y1="495.5" x2="142.8" y2="497.3" stroke="rgb(85,85,85)" stroke-width="0.7" opacity="0.35"/>
<line x1="118.2" y1="495.4" x2="119.2" y2="496.0" stroke="rgb(43,43,43)" stroke-width="0.7" opacity="0.47"/>
<line x1="124.8" y1="473.1" x2="123.8" y2="475.1" stroke="rgb(63,63,63)" stroke-width="0.7" opacity="0.37"/>
<line x1="129.7" y1="484.1" x2="131.5" y2="485.4" stroke="rgb(89,89,89)" stroke-width="0.7" opacity="0.45"/>
<line x1="139.0" y1="478.2" x2="139.4" y2="479.5" stroke="rgb(79,79,79)" stroke-width="0.7" opacity="0.43"/>
<line x1="118.0" y1="485.8" x2="117.6" y2="486.7" stroke="rgb(50,50,50)" stroke-width="0.7" opacity="0.34"/>
<line x1="118.9" y1="493.8" x2="119.8" y2="494.7" stroke="rgb(59,59,59)" stroke-width="0.7" opacity="0.22"/>
<line x1="108.6" y1="486.7" x2="110.4" y2="487.1" stroke="rgb(69,69,69)" stroke-width="0.7" opacity="0.45"/>
<line x1="115.7" y1="498.8" x2="116.3" y2="500.1" stroke="rgb(41,41,41)" stroke-width="0.7" opacity="0.53"/>
<line x1="122.3" y1="490.2" x2="123.8" y2="491.4" stroke="rgb(64,64,64)" stroke-width="0.7" opacity="0.21"/>
<line x1="120.4" y1="490.9" x2="121.2" y2="491.7" stroke="rgb(44,44,44)" stroke-width="0.7" opacity="0.22"/>
<line x1="134.7" y1="499.1" x2="134.5" y2="500.1" stroke="rgb(83,83,83)" stroke-width="0.7" opacity="0.23"/>
<line x1="121.2" y1="477.4" x2="121.2" y2="478.3" stroke="rgb(43,43,43)" stroke-width="0.7" opacity="0.29"/>
<line x1="142.6" y1="494.6" x2="141.3" y2="494.9" stroke="rgb(83,83,83)" stroke-width="0.7" opacity="0.41"/>
<line x1="141.4" y1="501.1" x2="141.5" y2="502.4" stroke="rgb(75,75,75)" stroke-width="0.7" opacity="0.30"/>
<line x1="121.3" y1="485.0" x2="120.2" y2="485.7" stroke="rgb(37,37,37)" stroke-width="0.7" opacity="0.20"/>
<line x1="118.1" y1="470.9" x2="117.1" y2="472.4" stroke="rgb(90,90,90)" stroke-width="0.7" opacity="0.38"/>
<line x1="129.5" y1="475.9" x2="131.3" y2="476.9" stroke="rgb(50,50,50)" stroke-width="0.7" opacity="0.22"/>
<line x1="110.8" y1="478.2" x2="111.9" y2="478.3" stroke="rgb(78,78,78)" stroke-width="0.7" opacity="0.50"/>
<line x1="143.1" y1="486.7" x2="141.7" y2="487.1" stroke="rgb(49,49,49)" stroke-width="0.7" opacity="0.24"/>
<line x1="123.4" y1="486.7" x2="125.0" y2="487.2" stroke="rgb(49,49,49)" stroke-width="0.7" opacity="0.44"/>
<line x1="144.6" y1="499.5" x2="144.5" y2="500.3" stroke="rgb(49,49,49)" stroke-width="0.7" opacity="0.38"/>
<line x1="120.9" y1="494.9" x2="122.8" y2="495.2" stroke="rgb(64,64,64)" stroke-width="0.7" opacity="0.54"/>
<line x1="135.5" y1="507.6" x2="133.6" y2="509.0" stroke="rgb(73,73,73)" stroke-width="0.7" opacity="0.43"/>
<line x1="136.1" y1="504.0" x2="138.1" y2="505.0" stroke="rgb(43,43,43)" stroke-width="0.7" opacity="0.29"/>
<line x1="130.9" y1="497.6" x2="132.1" y2="498.8" stroke="rgb(61,61,61)" stroke-width="0.7" opacity="0.35"/>
<line x1="114.7" y1="493.0" x2="115.6" y2="494.8" stroke="rgb(52,52,52)" stroke-width="0.7" opacity="0.42"/>
<line x1="140.6" y1="492.5" x2="141.0" y2="493.2" stroke="rgb(88,88,88)" stroke-width="0.7" opacity="0.49"/>
<line x1="142.9" y1="487.2" x2="143.7" y2="488.1" stroke="rgb(71,71,71)" stroke-width="0.7" opacity="0.36"/>
<line x1="113.4" y1="494.0" x2="112.6" y2="495.4" stroke="rgb(74,74,74)" stroke-width="0.7" opacity="0.39"/>
<line x1="114.1" y1="486.7" x2="115.4" y2="487.2" stroke="rgb(83,83,83)" stroke-width="0.7" opacity="0.44"/>
<line x1="128.4" y1="511.1" x2="128.1" y2="512.0" stroke="rgb(59,59,59)" stroke-width="0.7" opacity="0.42"/>
<line x1="108.3" y1="495.8" x2="106.8" y2="496.1" stroke="rgb(59,59,59)" stroke-width="0.7" opacity="0.45"/>
<line x1="126.4" y1="469.4" x2="125.9" y2="470.3" stroke="rgb(45,45,45)" stroke-width="0.7" opacity="0.43"/>
<line x1="115.5" y1="498.2" x2="116.1" y2="500.2" stroke="rgb(81,81,81)" stroke-width="0.7" opacity="0.52"/>
<line x1="115.9" y1="484.0" x2="114.0" y2="484.2" stroke="rgb(76,76,76)" stroke-width="0.7" opacity="0.29"/>
<line x1="126.9" y1="492.0" x2="127.1" y2="492.9" stroke="rgb(72,72,72)" stroke-width="0.7" opacity="0.24"/>
<line x1="139.5" y1="485.3" x2="139.8" y2="486.6" stroke="rgb(73,73,73)" stroke-width="0.7" opacity="0.46"/>
<line x1="144.1" y1="481.2" x2="142.7" y2="481.6" stroke="rgb(65,65,65)" stroke-width="0.7" opacity="0.36"/>
<line x1="130.1" y1="491.5" x2="131.3" y2="492.1" stroke="rgb(36,36,36)" stroke-width="0.7" opacity="0.45"/>
<line x1="141.0" y1="490.7" x2="138.7" y2="490.9" stroke="rgb(76,76,76)" stroke-width="0.7" opacity="0.51"/>
<line x1="117.7" y1="477.4" x2="118.7" y2="479.1" stroke="rgb(49,49,49)" stroke-width="0.7" opacity="0.32"/>
<line x1="130.3" y1="476.7" x2="130.5" y2="478.7" stroke="rgb(73,73,73)" stroke-width="0.7" opacity="0.30"/>
<line x1="112.1" y1="489.5" x2="112.7" y2="490.8" stroke="rgb(50,50,50)" stroke-width="0.7" opacity="0.48"/>
<line x1="139.8" y1="480.2" x2="141.3" y2="481.5" stroke="rgb(76,76,76)" stroke-width="0.7" opacity="0.41"/>
<line x1="129.2" y1="509.8" x2="131.4" y2="509.8" stroke="rgb(67,67,67)" stroke-width="0.7" opacity="0.47"/>
<line x1="126.7" y1="472.6" x2="126.1" y2="473.5" stroke="rgb(78,78,78)" stroke-width="0.7" opacity="0.52"/>
<line x1="136.8" y1="475.9" x2="134.9" y2="476.4" stroke="rgb(85,85,85)" stroke-width="0.7" opacity="0.55"/>
<line x1="131.1" y1="506.5" x2="132.8" y2="507.7" stroke="rgb(64,64,64)" stroke-width="0.7" opacity="0.26"/>
<line x1="114.6" y1="500.4" x2="115.0" y2="501.2" stroke="rgb(54,54,54)" stroke-width="0.7" opacity="0.33"/>
<line x1="140.3" y1="496.6" x2="138.4" y2="497.4" stroke="rgb(44,44,44)" stroke-width="0.7" opacity="0.36"/>
<line x1="132.8" y1="488.6" x2="132.6" y2="490.7" stroke="rgb(44,44,44)" stroke-width="0.7" opacity="0.52"/>
<line x1="141.7" y1="479.0" x2="142.9" y2="479.1" stroke="rgb(53,53,53)" stroke-width="0.7" opacity="0.51"/>
<line x1="131.3" y1="503.3" x2="131.9" y2="504.2" stroke="rgb(43,43,43)" stroke-width="0.7" opacity="0.52"/>
<line x1="138.6" y1="475.9" x2="140.4" y2="476.8" stroke="rgb(64,64,64)" stroke-width="0.7" opacity="0.28"/>
<line x1="115.7" y1="478.3" x2="117.5" y2="478.9" stroke="rgb(86,86,86)" stroke-width="0.7" opacity="0.27"/>
<line x1="131.6" y1="480.6" x2="132.6" y2="480.9" stroke="rgb(55,55,55)" stroke-width="0.7" opacity="0.47"/>
<line x1="107.9" y1="489.3" x2="108.7" y2="490.9" stroke="rgb(80,80,80)" stroke-width="0.7" opacity="0.53"/>
<line x1="126.8" y1="480.4" x2="125.4" y2="481.9" stroke="rgb(70,70,70)" stroke-width="0.7" opacity="0.32"/>
<line x1="131.1" y1="494.6" x2="132.9" y2="495.4" stroke="rgb(69,69,69)" stroke-width="0.7" opacity="0.46"/>
<line x1="144.7" y1="487.8" x2="145.8" y2="489.3" stroke="rgb(65,65,65)" stroke-width="0.7" opacity="0.51"/>
<line x1="128.7" y1="491.2" x2="127.5" y2="491.9" stroke="rgb(44,44,44)" stroke-width="0.7" opacity="0.25"/>
<line x1="122.9" y1="505.3" x2="121.9" y2="505.3" stroke="rgb(69,69,69)" stroke-width="0.7" opacity="0.28"/>
<line x1="125.1" y1="471.5" x2="124.0" y2="473.4" stroke="rgb(40,40,40)" stroke-width="0.7" opacity="0.27"/>
<line x1="125.4" y1="486.5" x2="125.4" y2="488.0" stroke="rgb(56,56,56)" stroke-width="0.7" opacity="0.40"/>
<line x1="141.2" y1="482.8" x2="143.0" y2="483.0" stroke="rgb(42,42,42)" stroke-width="0.7" opacity="0.44"/>
<line x1="118.1" y1="499.6" x2="117.3" y2="501.4" stroke="rgb(83,83,83)" stroke-width="0.7" opacity="0.42"/>
<line x1="125.6" y1="482.7" x2="124.2" y2="484.3" stroke="rgb(67,67,67)" stroke-width="0.7" opacity="0.26"/>
<line x1="119.2" y1="475.5" x2="118.3" y2="475.6" stroke="rgb(80,80,80)" stroke-width="0.7" opacity="0.25"/>
<line x1="129.2" y1="507.5" x2="130.5" y2="508.0" stroke="rgb(78,78,78)" stroke-width="0.7" opacity="0.28"/>
<line x1="120.5" y1="501.1" x2="119.7" y2="501.6" stroke="rgb(71,71,71)" stroke-width="0.7" opacity="0.32"/>
<line x1="128.6" y1="503.9" x2="127.6" y2="504.0" stroke="rgb(37,37,37)" stroke-width="0.7" opacity="0.53"/>
<line x1="132.0" y1="482.1" x2="130.9" y2="484.3" stroke="rgb(44,44,44)" stroke-width="0.7" opacity="0.47"/>
<line x1="121.1" y1="491.5" x2="119.5" y2="492.5" stroke="rgb(35,35,35)" stroke-width="0.7" opacity="0.27"/>
<line x1="133.6" y1="490.0" x2="132.6" y2="490.4" stroke="rgb(44,44,44)" stroke-width="0.7" opacity="0.48"/>
<line x1="109.4" y1="481.0" x2="109.7" y2="482.2" stroke="rgb(54,54,54)" stroke-width="0.7" opacity="0.37"/>
<line x1="137.7" y1="474.2" x2="138.2" y2="475.9" stroke="rgb(46,46,46)" stroke-width="0.7" opacity="0.48"/>
<line x1="114.7" y1="493.3" x2="116.0" y2="493.6" stroke="rgb(79,79,79)" stroke-width="0.7" opacity="0.20"/>
<line x1="129.4" y1="489.1" x2="129.1" y2="491.2" stroke="rgb(88,88,88)" stroke-width="0.7" opacity="0.38"/>
<line x1="127.4" y1="492.1" x2="127.9" y2="494.4" stroke="rgb(49,49,49)" stroke-width="0.7" opacity="0.54"/>
<line x1="139.1" y1="480.1" x2="140.1" y2="480.3" stroke="rgb(87,87,87)" stroke-width="0.7" opacity="0.48"/>
<line x1="137.2" y1="501.9" x2="138.3" y2="502.7" stroke="rgb(82,82,82)" stroke-width="0.7" opacity="0.51"/>
<line x1="114.9" y1="485.3" x2="114.6" y2="487.5" stroke="rgb(37,37,37)" stroke-width="0.7" opacity="0.31"/>
<line x1="145.4" y1="489.6" x2="144.9" y2="491.8" stroke="rgb(90,90,90)" stroke-width="0.7" opacity="0.49"/>
<line x1="117.3" y1="489.8" x2="118.9" y2="490.6" stroke="rgb(52,52,52)" stroke-width="0.7" opacity="0.43"/>
<line x1="142.1" y1="486.0" x2="141.4" y2="486.5" stroke="rgb(80,80,80)" stroke-width="0.7" opacity="0.27"/>
<line x1="122.8" y1="500.3" x2="123.2" y2="501.1" stroke="rgb(76,76,76)" stroke-width="0.7" opacity="0.36"/>
<line x1="130.6" y1="500.4" x2="129.8" y2="501.7" stroke="rgb(82,82,82)" stroke-width="0.7" opacity="0.51"/>
<line x1="139.0" y1="493.5" x2="140.6" y2="494.5" stroke="rgb(61,61,61)" stroke-width="0.7" opacity="0.44"/>
<line x1="114.5" y1="491.6" x2="113.5" y2="491.7" stroke="rgb(53,53,53)" stroke-width="0.7" opacity="0.47"/>
<line x1="137.6" y1="493.5" x2="138.0" y2="494.3" stroke="rgb(44,44,44)" stroke-width="0.7" opacity="0.54"/>
<line x1="118.0" y1="475.5" x2="117.5" y2="477.2" stroke="rgb(84,84,84)" stroke-width="0.7" opacity="0.24"/>
<line x1="137.2" y1="490.3" x2="135.5" y2="490.6" stroke="rgb(81,81,81)" stroke-width="0.7" opacity="0.49"/>
<line x1="119.8" y1="488.5" x2="121.0" y2="488.5" stroke="rgb(53,53,53)" stroke-width="0.7" opacity="0.41"/>
<line x1="139.6" y1="484.1" x2="141.1" y2="485.1" stroke="rgb(77,77,77)" stroke-width="0.7" opacity="0.20"/>
<line x1="129.5" y1="498.4" x2="129.2" y2="500.3" stroke="rgb(74,74,74)" stroke-width="0.7" opacity="0.21"/>
<line x1="126.1" y1="500.3" x2="125.4" y2="500.7" stroke="rgb(50,50,50)" stroke-width="0.7" opacity="0.28"/>
<line x1="135.2" y1="474.7" x2="134.4" y2="474.8" stroke="rgb(87,87,87)" stroke-width="0.7" opacity="0.40"/>
<line x1="121.1" y1="480.9" x2="120.7" y2="481.7" stroke="rgb(79,79,79)" stroke-width="0.7" opacity="0.42"/>
<line x1="109.5" y1="480.9" x2="110.8" y2="481.8" stroke="rgb(58,58,58)" stroke-width="0.7" opacity="0.27"/>
<line x1="126.5" y1="496.0" x2="127.9" y2="498.0" stroke="rgb(87,87,87)" stroke-width="0.7" opacity="0.33"/>
<line x1="114.9" y1="486.3" x2="116.2" y2="486.7" stroke="rgb(83,83,83)" stroke-width="0.7" opacity="0.37"/>
<line x1="118.9" y1="475.9" x2="117.7" y2="476.2" stroke="rgb(57,57,57)" stroke-width="0.7" opacity="0.35"/>
<line x1="111.7" y1="478.5" x2="111.3" y2="479.5" stroke="rgb(69,69,69)" stroke-width="0.7" opacity="0.52"/>
<line x1="124.3" y1="485.8" x2="124.4" y2="487.6" stroke="rgb(40,40,40)" stroke-width="0.7" opacity="0.25"/>
<line x1="132.5" y1="502.1" x2="131.5" y2="502.3" stroke="rgb(76,76,76)" stroke-width="0.7" opacity="0.24"/>
<line x1="120.4" y1="501.9" x2="120.6" y2="503.6" stroke="rgb(50,50,50)" stroke-width="0.7" opacity="0.31"/>
<line x1="130.1" y1="489.9" x2="130.2" y2="490.8" stroke="rgb(53,53,53)" stroke-width="0.7" opacity="0.38"/>
<line x1="129.5" y1="500.3" x2="130.3" y2="500.6" stroke="rgb(39,39,39)" stroke-width="0.7" opacity="0.24"/>
<line x1="113.1" y1="483.5" x2="114.7" y2="483.6" stroke="rgb(75,75,75)" stroke-width="0.7" opacity="0.51"/>
<line x1="135.0" y1="491.2" x2="133.0" y2="492.3" stroke="rgb(90,90,90)" stroke-width="0.7" opacity="0.23"/>
<line x1="124.5" y1="474.8" x2="126.6" y2="475.6" stroke="rgb(69,69,69)" stroke-width="0.7" opacity="0.54"/>
<line x1="134.4" y1="505.0" x2="136.3" y2="505.5" stroke="rgb(47,47,47)" stroke-width="0.7" opacity="0.44"/>
<line x1="129.4" y1="490.2" x2="127.6" y2="491.5" stroke="rgb(41,41,41)" stroke-width="0.7" opacity="0.36"/>
<line x1="145.2" y1="491.9" x2="146.3" y2="493.7" stroke="rgb(49,49,49)" stroke-width="0.7" opacity="0.23"/>
<line x1="136.4" y1="482.8" x2="138.6" y2="483.7" stroke="rgb(83,83,83)" stroke-width="0.7" opacity="0.54"/>
<line x1="136.6" y1="495.3" x2="136.2" y2="496.4" stroke="rgb(42,42,42)" stroke-width="0.7" opacity="0.51"/>
<line x1="116.5" y1="501.4" x2="116.5" y2="502.5" stroke="rgb(49,49,49)" stroke-width="0.7" opacity="0.24"/>
<line x1="112.7" y1="502.4" x2="113.0" y2="503.9" stroke="rgb(38,38,38)" stroke-width="0.7" opacity="0.45"/>
<line x1="119.1" y1="474.2" x2="118.9" y2="475.4" stroke="rgb(90,90,90)" stroke-width="0.7" opacity="0.39"/>
<line x1="127.9" y1="469.6" x2="128.4" y2="471.2" stroke="rgb(86,86,86)" stroke-width="0.7" opacity="0.24"/>
<line x1="123.5" y1="508.0" x2="121.7" y2="508.7" stroke="rgb(50,50,50)" stroke-width="0.7" opacity="0.49"/>
<line x1="136.6" y1="505.3" x2="137.6" y2="505.4" stroke="rgb(90,90,90)" stroke-width="0.7" opacity="0.39"/>
<line x1="141.3" y1="504.4" x2="143.0" y2="505.2" stroke="rgb(37,37,37)" stroke-width="0.7" opacity="0.42"/>
<line x1="136.6" y1="493.5" x2="135.2" y2="495.3" stroke="rgb(87,87,87)" stroke-width="0.7" opacity="0.39"/>
<line x1="132.0" y1="482.6" x2="130.9" y2="484.1" stroke="rgb(57,57,57)" stroke-width="0.7" opacity="0.55"/>
<line x1="121.3" y1="484.4" x2="122.6" y2="484.4" stroke="rgb(61,61,61)" stroke-width="0.7" opacity="0.27"/>
<line x1="125.9" y1="509.3" x2="124.1" y2="510.0" stroke="rgb(48,48,48)" stroke-width="0.7" opacity="0.46"/>
<line x1="122.5" y1="491.6" x2="121.7" y2="493.1" stroke="rgb(89,89,89)" stroke-width="0.7" opacity="0.39"/>
<line x1="130.6" y1="483.8" x2="129.8" y2="485.2" stroke="rgb(64,64,64)" stroke-width="0.7" opacity="0.40"/>
<line x1="121.7" y1="509.8" x2="122.5" y2="510.3" stroke="rgb(89,89,89)" stroke-width="0.7" opacity="0.32"/>
<line x1="131.1" y1="473.5" x2="130.1" y2="474.2" stroke="rgb(73,73,73)" stroke-width="0.7" opacity="0.31"/>
<line x1="115.0" y1="480.3" x2="115.7" y2="481.0" stroke="rgb(43,43,43)" stroke-width="0.7" opacity="0.41"/>
<line x1="144.5" y1="485.0" x2="142.5" y2="486.0" stroke="rgb(38,38,38)" stroke-width="0.7" opacity="0.51"/>
<line x1="139.7" y1="493.8" x2="139.7" y2="495.9" stroke="rgb(35,35,35)" stroke-width="0.7" opacity="0.41"/>
<line x1="123.3" y1="474.0" x2="124.1" y2="474.4" stroke="rgb(61,61,61)" stroke-width="0.7" opacity="0.38"/>
<line x1="135.3" y1="495.9" x2="134.5" y2="496.8" stroke="rgb(78,78,78)" stroke-width="0.7" opacity="0.27"/>
<line x1="112.4" y1="484.6" x2="111.0" y2="486.1" stroke="rgb(35,35,35)" stroke-width="0.7" opacity="0.52"/>
<line x1="116.5" y1="497.6" x2="116.2" y2="499.1" stroke="rgb(74,74,74)" stroke-width="0.7" opacity="0.35"/>
<line x1="129.0" y1="489.0" x2="129.7" y2="489.4" stroke="rgb(36,36,36)" stroke-width="0.7" opacity="0.43"/>
<line x1="131.6" y1="508.2" x2="130.4" y2="508.6" stroke="rgb(57,57,57)" stroke-width="0.7" opacity="0.22"/>
<line x1="121.4" y1="499.9" x2="121.4" y2="501.1" stroke="rgb(44,44,44)" stroke-width="0.7" opacity="0.39"/>
<line x1="129.3" y1="479.0" x2="128.4" y2="479.9" stroke="rgb(71,71,71)" stroke-width="0.7" opacity="0.52"/>
<line x1="126.3" y1="490.2" x2="126.9" y2="491.1" stroke="rgb(68,68,68)" stroke-width="0.7" opacity="0.37"/>
<line x1="138.8" y1="478.1" x2="139.0" y2="479.6" stroke="rgb(82,82,82)" stroke-width="0.7" opacity="0.50"/>
<line x1="125.6" y1="510.4" x2="124.2" y2="511.2" stroke="rgb(36,36,36)" stroke-width="0.7" opacity="0.33"/>
<line x1="112.1" y1="498.8" x2="111.4" y2="499.2" stroke="rgb(40,40,40)" stroke-width="0.7" opacity="0.29"/>
<line x1="146.2" y1="493.1" x2="147.0" y2="494.3" stroke="rgb(77,77,77)" stroke-width="0.7" opacity="0.45"/>
<line x1="134.0" y1="477.3" x2="134.4" y2="478.5" stroke="rgb(67,67,67)" stroke-width="0.7" opacity="0.29"/>
<line x1="127.8" y1="490.3" x2="128.6" y2="491.3" stroke="rgb(46,46,46)" stroke-width="0.7" opacity="0.27"/>
<line x1="122.6" y1="478.7" x2="124.3" y2="478.8" stroke="rgb(59,59,59)" stroke-width="0.7" opacity="0.24"/>
<line x1="121.7" y1="493.8" x2="122.6" y2="494.4" stroke="rgb(54,54,54)" stroke-width="0.7" opacity="0.34"/>
<line x1="146.6" y1="493.8" x2="146.8" y2="494.7" stroke="rgb(56,56,56)" stroke-width="0.7" opacity="0.25"/>
<line x1="114.9" y1="487.1" x2="116.2" y2="488.3" stroke="rgb(87,87,87)" stroke-width="0.7" opacity="0.36"/>
<line x1="114.9" y1="475.6" x2="113.2" y2="476.4" stroke="rgb(48,48,48)" stroke-width="0.7" opacity="0.54"/>
<line x1="120.2" y1="497.6" x2="121.4" y2="499.5" stroke="rgb(51,51,51)" stroke-width="0.7" opacity="0.40"/>
<line x1="140.5" y1="485.6" x2="141.3" y2="486.1" stroke="rgb(40,40,40)" stroke-width="0.7" opacity="0.54"/>
<line x1="125.8" y1="493.1" x2="125.8" y2="494.0" stroke="rgb(75,75,75)" stroke-width="0.7" opacity="0.39"/>
<line x1="118.4" y1="505.8" x2="118.3" y2="506.8" stroke="rgb(49,49,49)" stroke-width="0.7" opacity="0.47"/>
<line x1="111.3" y1="495.1" x2="110.0" y2="495.3" stroke="rgb(67,67,67)" stroke-width="0.7" opacity="0.36"/>
<line x1="141.0" y1="492.4" x2="139.6" y2="492.8" stroke="rgb(68,68,68)" stroke-width="0.7" opacity="0.28"/>
<line x1="122.0" y1="502.4" x2="122.7" y2="503.1" stroke="rgb(63,63,63)" stroke-width="0.7" opacity="0.42"/>
<line x1="120.8" y1="473.7" x2="121.2" y2="474.7" stroke="rgb(37,37,37)" stroke-width="0.7" opacity="0.49"/>
<line x1="137.6" y1="472.2" x2="138.0" y2="473.9" stroke="rgb(48,48,48)" stroke-width="0.7" opacity="0.39"/>
<line x1="133.2" y1="473.1" x2="132.7" y2="475.0" stroke="rgb(84,84,84)" stroke-width="0.7" opacity="0.54"/>
<line x1="124.1" y1="485.4" x2="123.0" y2="486.7" stroke="rgb(78,78,78)" stroke-width="0.7" opacity="0.52"/>
<line x1="127.6" y1="489.9" x2="129.2" y2="490.9" stroke="rgb(70,70,70)" stroke-width="0.7" opacity="0.26"/>
<line x1="118.3" y1="483.4" x2="118.0" y2="484.7" stroke="rgb(61,61,61)" stroke-width="0.7" opacity="0.42"/>
<line x1="121.5" y1="474.8" x2="119.4" y2="475.5" stroke="rgb(64,64,64)" stroke-width="0.7" opacity="0.33"/>
<line x1="127.7" y1="487.5" x2="129.0" y2="487.8" stroke="rgb(48,48,48)" stroke-width="0.7" opacity="0.22"/>
<line x1="127.1" y1="496.5" x2="126.5" y2="497.3" stroke="rgb(79,79,79)" stroke-width="0.7" opacity="0.27"/>
<line x1="118.4" y1="485.5" x2="119.8" y2="486.7" stroke="rgb(65,65,65)" stroke-width="0.7" opacity="0.25"/>
<line x1="116.1" y1="485.2" x2="116.6" y2="486.2" stroke="rgb(81,81,81)" stroke-width="0.7" opacity="0.37"/>
<line x1="132.5" y1="477.8" x2="131.1" y2="478.6" stroke="rgb(52,52,52)" stroke-width="0.7" opacity="0.21"/>
<line x1="116.4" y1="486.4" x2="117.3" y2="487.2" stroke="rgb(50,50,50)" stroke-width="0.7" opacity="0.47"/>
<line x1="124.9" y1="478.8" x2="126.2" y2="478.8" stroke="rgb(78,78,78)" stroke-width="0.7" opacity="0.38"/>
<line x1="113.4" y1="474.4" x2="113.0" y2="476.0" stroke="rgb(56,56,56)" stroke-width="0.7" opacity="0.53"/>
<line x1="143.9" y1="483.4" x2="145.6" y2="483.6" stroke="rgb(60,60,60)" stroke-width="0.7" opacity="0.34"/>
<line x1="114.9" y1="490.5" x2="117.2" y2="491.2" stroke="rgb(83,83,83)" stroke-width="0.7" opacity="0.37"/>
<line x1="123.4" y1="490.6" x2="121.5" y2="490.8" stroke="rgb(79,79,79)" stroke-width="0.7" opacity="0.46"/>
<line x1="113.0" y1="502.1" x2="112.4" y2="503.1" stroke="rgb(73,73,73)" stroke-width="0.7" opacity="0.45"/>
<line x1="112.9" y1="484.3" x2="111.9" y2="485.4" stroke="rgb(61,61,61)" stroke-width="0.7" opacity="0.52"/>
<line x1="120.0" y1="488.4" x2="120.9" y2="489.1" stroke="rgb(82,82,82)" stroke-width="0.7" opacity="0.22"/>
<line x1="116.3" y1="496.5" x2="117.2" y2="497.8" stroke="rgb(87,87,87)" stroke-width="0.7" opacity="0.25"/>
<line x1="141.0" y1="490.3" x2="140.2" y2="491.0" stroke="rgb(73,73,73)" stroke-width="0.7" opacity="0.30"/>
<line x1="132.2" y1="495.5" x2="133.1" y2="496.1" stroke="rgb(48,48,48)" stroke-width="0.7" opacity="0.32"/>
<line x1="130.2" y1="477.7" x2="128.8" y2="479.1" stroke="rgb(67,67,67)" stroke-width="0.7" opacity="0.39"/>
<line x1="125.7" y1="493.6" x2="126.9" y2="494.1" stroke="rgb(80,80,80)" stroke-width="0.7" opacity="0.28"/>
<line x1="126.3" y1="470.0" x2="126.8" y2="471.6" stroke="rgb(38,38,38)" stroke-width="0.7" opacity="0.45"/>
<line x1="124.1" y1="489.4" x2="125.8" y2="489.8" stroke="rgb(87,87,87)" stroke-width="0.7" opacity="0.21"/>
<line x1="128.4" y1="487.0" x2="128.7" y2="487.9" stroke="rgb(62,62,62)" stroke-width="0.7" opacity="0.42"/>
<line x1="117.8" y1="491.8" x2="117.5" y2="492.7" stroke="rgb(85,85,85)" stroke-width="0.7" opacity="0.38"/>
<line x1="128.3" y1="493.3" x2="129.4" y2="495.0" stroke="rgb(63,63,63)" stroke-width="0.7" opacity="0.35"/>
<line x1="116.9" y1="493.8" x2="116.5" y2="495.5" stroke="rgb(74,74,74)" stroke-width="0.7" opacity="0.53"/>
<line x1="111.3" y1="490.9" x2="112.4" y2="492.5" stroke="rgb(62,62,62)" stroke-width="0.7" opacity="0.31"/>
<line x1="143.4" y1="492.2" x2="142.8" y2="493.4" stroke="rgb(44,44,44)" stroke-width="0.7" opacity="0.32"/>
<line x1="123.4" y1="483.2" x2="121.9" y2="484.2" stroke="rgb(52,52,52)" stroke-width="0.7" opacity="0.25"/>
<line x1="130.6" y1="479.7" x2="131.7" y2="480.3" stroke="rgb(87,87,87)" stroke-width="0.7" opacity="0.21"/>
<line x1="124.2" y1="495.0" x2="122.8" y2="496.1" stroke="rgb(66,66,66)" stroke-width="0.7" opacity="0.47"/>
<line x1="132.4" y1="487.9" x2="131.7" y2="488.8" stroke="rgb(88,88,88)" stroke-width="0.7" opacity="0.44"/>
<line x1="129.2" y1="480.7" x2="130.6" y2="481.1" stroke="rgb(71,71,71)" stroke-width="0.7" opacity="0.52"/>
<line x1="127.3" y1="491.3" x2="128.9" y2="491.3" stroke="rgb(67,67,67)" stroke-width="0.7" opacity="0.25"/>
<line x1="120.5" y1="498.7" x2="122.0" y2="499.4" stroke="rgb(65,65,65)" stroke-width="0.7" opacity="0.40"/>
<line x1="118.6" y1="502.6" x2="117.5" y2="502.9" stroke="rgb(45,45,45)" stroke-width="0.7" opacity="0.25"/>
<line x1="129.0" y1="482.5" x2="129.0" y2="483.5" stroke="rgb(82,82,82)" stroke-width="0.7" opacity="0.48"/>
<line x1="119.4" y1="495.6" x2="120.8" y2="495.9" stroke="rgb(54,54,54)" stroke-width="0.7" opacity="0.48"/>
<line x1="143.3" y1="478.9" x2="142.8" y2="479.9" stroke="rgb(43,43,43)" stroke-width="0.7" opacity="0.53"/>
<line x1="117.9" y1="486.0" x2="118.7" y2="488.0" stroke="rgb(68,68,68)" stroke-width="0.7" opacity="0.21"/>
<line x1="110.8" y1="496.9" x2="110.9" y2="497.7" stroke="rgb(47,47,47)" stroke-width="0.7" opacity="0.37"/>
<line x1="146.4" y1="492.0" x2="144.7" y2="493.0" stroke="rgb(81,81,81)" stroke-width="0.7" opacity="0.42"/>
<line x1="128.6" y1="510.6" x2="129.8" y2="512.2" stroke="rgb(39,39,39)" stroke-width="0.7" opacity="0.48"/>
<line x1="136.7" y1="502.5" x2="135.7" y2="502.9" stroke="rgb(64,64,64)" stroke-width="0.7" opacity="0.37"/>
<line x1="126.8" y1="481.6" x2="127.6" y2="482.5" stroke="rgb(38,38,38)" stroke-width="0.7" opacity="0.21"/>
<line x1="139.4" y1="493.7" x2="139.4" y2="495.1" stroke="rgb(51,51,51)" stroke-width="0.7" opacity="0.45"/>
<line x1="136.0" y1="480.5" x2="137.8" y2="482.0" stroke="rgb(78,78,78)" stroke-width="0.7" opacity="0.21"/>
<line x1="126.3" y1="492.2" x2="127.4" y2="492.6" stroke="rgb(67,67,67)" stroke-width="0.7" opacity="0.43"/>
<line x1="147.1" y1="492.1" x2="147.4" y2="493.4" stroke="rgb(63,63,63)" stroke-width="0.7" opacity="0.47"/>
<line x1="127.0" y1="492.7" x2="127.6" y2="494.8" stroke="rgb(69,69,69)" stroke-width="0.7" opacity="0.22"/>
<line x1="120.8" y1="480.2" x2="119.2" y2="480.8" stroke="rgb(80,80,80)" stroke-width="0.7" opacity="0.48"/>
<line x1="124.7" y1="484.8" x2="124.5" y2="485.8" stroke="rgb(78,78,78)" stroke-width="0.7" opacity="0.33"/>
<line x1="109.8" y1="490.6" x2="110.0" y2="492.4" stroke="rgb(51,51,51)" stroke-width="0.7" opacity="0.24"/>
<line x1="112.5" y1="485.9" x2="110.4" y2="487.1" stroke="rgb(79,79,79)" stroke-width="0.7" opacity="0.30"/>
<line x1="139.0" y1="477.9" x2="138.3" y2="480.0" stroke="rgb(90,90,90)" stroke-width="0.7" opacity="0.52"/>
<line x1="113.6" y1="479.0" x2="111.6" y2="479.1" stroke="rgb(37,37,37)" stroke-width="0.7" opacity="0.35"/>
<line x1="130.3" y1="499.2" x2="131.7" y2="500.8" stroke="rgb(64,64,64)" stroke-width="0.7" opacity="0.50"/>
<line x1="121.7" y1="501.4" x2="121.6" y2="502.2" stroke="rgb(56,56,56)" stroke-width="0.7" opacity="0.43"/>
<line x1="128.6" y1="506.6" x2="127.0" y2="507.6" stroke="rgb(63,63,63)" stroke-width="0.7" opacity="0.41"/>
<line x1="122.9" y1="484.9" x2="125.0" y2="486.0" stroke="rgb(60,60,60)" stroke-width="0.7" opacity="0.40"/>
<line x1="138.2" y1="507.0" x2="138.9" y2="508.9" stroke="rgb(55,55,55)" stroke-width="0.7" opacity="0.42"/>
<line x1="134.1" y1="492.4" x2="135.5" y2="494.0" stroke="rgb(70,70,70)" stroke-width="0.7" opacity="0.48"/>
<line x1="126.1" y1="472.8" x2="124.4" y2="473.5" stroke="rgb(53,53,53)" stroke-width="0.7" opacity="0.46"/>
<line x1="123.6" y1="476.3" x2="123.5" y2="477.2" stroke="rgb(72,72,72)" stroke-width="0.7" opacity="0.40"/>
<line x1="132.7" y1="483.5" x2="134.3" y2="483.9" stroke="rgb(65,65,65)" stroke-width="0.7" opacity="0.48"/>
<line x1="137.7" y1="480.2" x2="137.6" y2="481.5" stroke="rgb(62,62,62)" stroke-width="0.7" opacity="0.42"/>
<line x1="127.2" y1="483.7" x2="128.8" y2="484.7" stroke="rgb(42,42,42)" stroke-width="0.7" opacity="0.47"/>
<line x1="115.2" y1="494.1" x2="114.7" y2="495.9" stroke="rgb(46,46,46)" stroke-width="0.7" opacity="0.23"/>
<line x1="143.6" y1="482.3" x2="143.0" y2="483.9" stroke="rgb(61,61,61)" stroke-width="0.7" opacity="0.34"/>
<line x1="145.4" y1="491.1" x2="145.1" y2="493.2" stroke="rgb(65,65,65)" stroke-width="0.7" opacity="0.25"/>
<line x1="113.6" y1="488.4" x2="112.7" y2="489.4" stroke="rgb(62,62,62)" stroke-width="0.7" opacity="0.27"/>
<line x1="124.8" y1="503.3" x2="126.5" y2="504.6" stroke="rgb(61,61,61)" stroke-width="0.7" opacity="0.34"/>
<line x1="121.5" y1="497.8" x2="119.6" y2="498.0" stroke="rgb(47,47,47)" stroke-width="0.7" opacity="0.41"/>
<line x1="114.5" y1="504.4" x2="113.9" y2="505.2" stroke="rgb(87,87,87)" stroke-width="0.7" opacity="0.26"/>
<line x1="125.9" y1="508.7" x2="128.3" y2="508.7" stroke="rgb(72,72,72)" stroke-width="0.7" opacity="0.40"/>
<line x1="126.5" y1="474.4" x2="124.2" y2="474.9" stroke="rgb(47,47,47)" stroke-width="0.7" opacity="0.26"/>
<line x1="138.0" y1="474.6" x2="136.8" y2="476.3" stroke="rgb(51,51,51)" stroke-width="0.7" opacity="0.40"/>
<line x1="143.8" y1="487.2" x2="144.3" y2="488.5" stroke="rgb(90,90,90)" stroke-width="0.7" opacity="0.35"/>
<line x1="148.1" y1="488.1" x2="147.3" y2="489.2" stroke="rgb(77,77,77)" stroke-width="0.7" opacity="0.29"/>
<line x1="141.1" y1="480.8" x2="141.2" y2="481.9" stroke="rgb(59,59,59)" stroke-width="0.7" opacity="0.33"/>
<line x1="136.4" y1="478.3" x2="135.1" y2="479.8" stroke="rgb(43,43,43)" stroke-width="0.7" opacity="0.51"/>
<line x1="118.5" y1="490.1" x2="119.8" y2="490.3" stroke="rgb(81,81,81)" stroke-width="0.7" opacity="0.42"/>
<line x1="120.1" y1="475.2" x2="120.7" y2="475.7" stroke="rgb(40,40,40)" stroke-width="0.7" opacity="0.27"/>
<line x1="138.3" y1="483.2" x2="138.3" y2="484.2" stroke="rgb(57,57,57)" stroke-width="0.7" opacity="0.45"/>
<line x1="129.8" y1="503.4" x2="131.5" y2="505.0" stroke="rgb(81,81,81)" stroke-width="0.7" opacity="0.34"/>
<line x1="134.3" y1="500.6" x2="132.8" y2="500.7" stroke="rgb(54,54,54)" stroke-width="0.7" opacity="0.47"/>
<line x1="131.5" y1="498.6" x2="132.1" y2="500.6" stroke="rgb(52,52,52)" stroke-width="0.7" opacity="0.45"/>
<line x1="131.2" y1="508.9" x2="132.5" y2="509.4" stroke="rgb(69,69,69)" stroke-width="0.7" opacity="0.21"/>
<line x1="142.2" y1="488.3" x2="141.0" y2="488.7" stroke="rgb(76,76,76)" stroke-width="0.7" opacity="0.42"/>
<line x1="116.6" y1="506.8" x2="118.5" y2="508.2" stroke="rgb(53,53,53)" stroke-width="0.7" opacity="0.30"/>
<line x1="129.2" y1="493.0" x2="127.5" y2="493.2" stroke="rgb(65,65,65)" stroke-width="0.7" opacity="0.40"/>
<line x1="120.5" y1="474.6" x2="121.6" y2="474.7" stroke="rgb(82,82,82)" stroke-width="0.7" opacity="0.34"/>
<line x1="130.7" y1="484.6" x2="128.6" y2="484.6" stroke="rgb(43,43,43)" stroke-width="0.7" opacity="0.41"/>
<line x1="124.4" y1="499.1" x2="125.2" y2="501.2" stroke="rgb(88,88,88)" stroke-width="0.7" opacity="0.53"/>
<line x1="139.3" y1="485.3" x2="138.9" y2="486.6" stroke="rgb(68,68,68)" stroke-width="0.7" opacity="0.52"/>
<line x1="135.8" y1="497.7" x2="137.1" y2="498.8" stroke="rgb(84,84,84)" stroke-width="0.7" opacity="0.30"/>
<line x1="133.0" y1="508.6" x2="130.8" y2="509.5" stroke="rgb(76,76,76)" stroke-width="0.7" opacity="0.31"/>
<line x1="143.4" y1="498.2" x2="141.9" y2="499.5" stroke="rgb(75,75,75)" stroke-width="0.7" opacity="0.35"/>
<line x1="125.6" y1="500.9" x2="124.5" y2="502.4" stroke="rgb(36,36,36)" stroke-width="0.7" opacity="0.29"/>
<line x1="138.2" y1="479.8" x2="136.3" y2="479.8" stroke="rgb(74,74,74)" stroke-width="0.7" opacity="0.34"/>
<line x1="130.1" y1="495.9" x2="130.9" y2="497.1" stroke="rgb(73,73,73)" stroke-width="0.7" opacity="0.29"/>
<line x1="124.5" y1="493.5" x2="124.2" y2="495.3" stroke="rgb(40,40,40)" stroke-width="0.7" opacity="0.23"/>
<line x1="135.9" y1="488.5" x2="134.9" y2="488.8" stroke="rgb(89,89,89)" stroke-width="0.7" opacity="0.40"/>
<line x1="132.2" y1="486.3" x2="133.4" y2="488.3" stroke="rgb(85,85,85)" stroke-width="0.7" opacity="0.54"/>
<line x1="117.2" y1="480.4" x2="116.3" y2="481.6" stroke="rgb(88,88,88)" stroke-width="0.7" opacity="0.32"/>
<line x1="110.6" y1="498.8" x2="109.2" y2="500.0" stroke="rgb(66,66,66)" stroke-width="0.7" opacity="0.29"/>
<line x1="138.6" y1="487.4" x2="138.5" y2="489.5" stroke="rgb(35,35,35)" stroke-width="0.7" opacity="0.27"/>
<line x1="121.1" y1="504.7" x2="122.3" y2="504.9" stroke="rgb(69,69,69)" stroke-width="0.7" opacity="0.30"/>
<line x1="116.6" y1="502.8" x2="118.3" y2="503.9" stroke="rgb(87,87,87)" stroke-width="0.7" opacity="0.24"/>
<line x1="131.8" y1="508.1" x2="132.5" y2="509.1" stroke="rgb(72,72,72)" stroke-width="0.7" opacity="0.39"/>
<line x1="135.3" y1="476.2" x2="133.5" y2="477.2" stroke="rgb(47,47,47)" stroke-width="0.7" opacity="0.26"/>
<line x1="121.9" y1="501.5" x2="121.4" y2="502.8" stroke="rgb(75,75,75)" stroke-width="0.7" opacity="0.26"/>
<line x1="125.4" y1="482.2" x2="124.3" y2="482.5" stroke="rgb(57,57,57)" stroke-width="0.7" opacity="0.29"/>
<line x1="133.2" y1="481.7" x2="133.5" y2="483.4" stroke="rgb(90,90,90)" stroke-width="0.7" opacity="0.36"/>
<line x1="130.5" y1="504.7" x2="129.5" y2="505.5" stroke="rgb(74,74,74)" stroke-width="0.7" opacity="0.52"/>
<line x1="119.4" y1="487.9" x2="118.3" y2="488.9" stroke="rgb(78,78,78)" stroke-width="0.7" opacity="0.21"/>
<line x1="126.1" y1="509.3" x2="127.7" y2="509.5" stroke="rgb(35,35,35)" stroke-width="0.7" opacity="0.48"/>
<line x1="133.6" y1="503.3" x2="132.2" y2="504.8" stroke="rgb(72,72,72)" stroke-width="0.7" opacity="0.21"/>
<line x1="127.9" y1="497.2" x2="129.6" y2="498.7" stroke="rgb(48,48,48)" stroke-width="0.7" opacity="0.29"/>
<line x1="125.4" y1="496.2" x2="124.8" y2="498.3" stroke="rgb(43,43,43)" stroke-width="0.7" opacity="0.21"/>
<line x1="128.7" y1="488.4" x2="128.0" y2="490.0" stroke="rgb(64,64,64)" stroke-width="0.7" opacity="0.28"/>
<line x1="135.9" y1="480.0" x2="133.7" y2="480.3" stroke="rgb(71,71,71)" stroke-width="0.7" opacity="0.53"/>
<line x1="127.6" y1="499.6" x2="127.3" y2="501.3" stroke="rgb(75,75,75)" stroke-width="0.7" opacity="0.49"/>
<line x1="133.0" y1="502.3" x2="132.3" y2="503.2" stroke="rgb(86,86,86)" stroke-width="0.7" opacity="0.50"/>
<line x1="133.1" y1="496.6" x2="132.2" y2="497.4" stroke="rgb(54,54,54)" stroke-width="0.7" opacity="0.49"/>
<line x1="129.2" y1="503.0" x2="131.3" y2="503.5" stroke="rgb(62,62,62)" stroke-width="0.7" opacity="0.53"/>
<line x1="134.3" y1="500.8" x2="135.6" y2="501.5" stroke="rgb(60,60,60)" stroke-width="0.7" opacity="0.20"/>
<line x1="137.3" y1="504.0" x2="138.7" y2="505.9" stroke="rgb(46,46,46)" stroke-width="0.7" opacity="0.45"/>
<line x1="132.6" y1="494.0" x2="132.6" y2="495.1" stroke="rgb(86,86,86)" stroke-width="0.7" opacity="0.29"/>
<line x1="141.6" y1="487.2" x2="142.0" y2="488.6" stroke="rgb(71,71,71)" stroke-width="0.7" opacity="0.28"/>
<line x1="136.3" y1="486.9" x2="133.9" y2="486.9" stroke="rgb(83,83,83)" stroke-width="0.7" opacity="0.21"/>
<line x1="126.3" y1="496.2" x2="127.6" y2="496.9" stroke="rgb(88,88,88)" stroke-width="0.7" opacity="0.31"/>
<line x1="115.3" y1="494.2" x2="116.3" y2="494.9" stroke="rgb(47,47,47)" stroke-width="0.7" opacity="0.47"/>
<line x1="126.9" y1="506.2" x2="125.6" y2="507.2" stroke="rgb(65,65,65)" stroke-width="0.7" opacity="0.44"/>
<line x1="128.9" y1="485.3" x2="130.7" y2="485.5" stroke="rgb(49,49,49)" stroke-width="0.7" opacity="0.33"/>
<line x1="114.9" y1="492.0" x2="114.3" y2="494.2" stroke="rgb(85,85,85)" stroke-width="0.7" opacity="0.39"/>
<line x1="123.0" y1="501.4" x2="122.1" y2="503.2" stroke="rgb(63,63,63)" stroke-width="0.7" opacity="0.47"/>
<line x1="122.9" y1="493.8" x2="123.6" y2="494.9" stroke="rgb(63,63,63)" stroke-width="0.7" opacity="0.37"/>
<line x1="139.8" y1="499.1" x2="138.8" y2="499.2" stroke="rgb(35,35,35)" stroke-width="0.7" opacity="0.34"/>
<line x1="127.7" y1="505.7" x2="127.4" y2="506.8" stroke="rgb(41,41,41)" stroke-width="0.7" opacity="0.29"/>
<line x1="136.5" y1="471.7" x2="136.1" y2="473.5" stroke="rgb(59,59,59)" stroke-width="0.7" opacity="0.36"/>
<line x1="128.8" y1="496.7" x2="130.0" y2="498.5" stroke="rgb(67,67,67)" stroke-width="0.7" opacity="0.40"/>
<line x1="126.4" y1="480.0" x2="127.6" y2="480.3" stroke="rgb(70,70,70)" stroke-width="0.7" opacity="0.36"/>
<line x1="123.5" y1="505.7" x2="122.7" y2="506.3" stroke="rgb(75,75,75)" stroke-width="0.7" opacity="0.42"/>
<line x1="139.0" y1="481.7" x2="138.0" y2="483.4" stroke="rgb(64,64,64)" stroke-width="0.7" opacity="0.32"/>
<line x1="113.4" y1="492.5" x2="113.9" y2="493.3" stroke="rgb(52,52,52)" stroke-width="0.7" opacity="0.25"/>
<line x1="121.9" y1="501.7" x2="121.6" y2="503.2" stroke="rgb(47,47,47)" stroke-width="0.7" opacity="0.35"/>
<line x1="123.2" y1="492.9" x2="124.6" y2="494.6" stroke="rgb(78,78,78)" stroke-width="0.7" opacity="0.21"/>
<line x1="139.1" y1="489.3" x2="137.7" y2="490.1" stroke="rgb(45,45,45)" stroke-width="0.7" opacity="0.38"/>
<line x1="137.4" y1="500.9" x2="139.1" y2="502.6" stroke="rgb(48,48,48)" stroke-width="0.7" opacity="0.55"/>
<line x1="112.5" y1="481.8" x2="111.8" y2="482.9" stroke="rgb(67,67,67)" stroke-width="0.7" opacity="0.34"/>
<line x1="143.3" y1="486.5" x2="143.9" y2="487.2" stroke="rgb(50,50,50)" stroke-width="0.7" opacity="0.41"/>
<line x1="124.0" y1="504.2" x2="125.8" y2="504.8" stroke="rgb(66,66,66)" stroke-width="0.7" opacity="0.32"/>
<line x1="142.3" y1="483.8" x2="142.8" y2="484.9" stroke="rgb(67,67,67)" stroke-width="0.7" opacity="0.49"/>
<line x1="117.5" y1="476.7" x2="117.3" y2="478.2" stroke="rgb(75,75,75)" stroke-width="0.7" opacity="0.23"/>
<line x1="123.4" y1="508.8" x2="124.3" y2="509.3" stroke="rgb(75,75,75)" stroke-width="0.7" opacity="0.43"/>
<line x1="129.5" y1="489.8" x2="130.5" y2="491.9" stroke="rgb(69,69,69)" stroke-width="0.7" opacity="0.31"/>
<line x1="138.7" y1="498.0" x2="140.5" y2="499.5" stroke="rgb(85,85,85)" stroke-width="0.7" opacity="0.53"/>
<line x1="129.6" y1="480.4" x2="129.2" y2="481.9" stroke="rgb(44,44,44)" stroke-width="0.7" opacity="0.34"/>
<line x1="124.1" y1="480.4" x2="123.6" y2="481.1" stroke="rgb(57,57,57)" stroke-width="0.7" opacity="0.30"/>
<line x1="120.2" y1="473.5" x2="118.7" y2="474.2" stroke="rgb(36,36,36)" stroke-width="0.7" opacity="0.26"/>
<line x1="113.4" y1="495.7" x2="114.6" y2="495.9" stroke="rgb(35,35,35)" stroke-width="0.7" opacity="0.42"/>
<line x1="109.6" y1="490.8" x2="110.7" y2="492.1" stroke="rgb(52,52,52)" stroke-width="0.7" opacity="0.29"/>
<line x1="142.0" y1="499.8" x2="140.1" y2="499.9" stroke="rgb(50,50,50)" stroke-width="0.7" opacity="0.42"/>
<line x1="127.9" y1="489.1" x2="127.0" y2="490.6" stroke="rgb(87,87,87)" stroke-width="0.7" opacity="0.30"/>
<line x1="137.8" y1="478.0" x2="137.5" y2="480.1" stroke="rgb(81,81,81)" stroke-width="0.7" opacity="0.48"/>
<line x1="129.9" y1="488.4" x2="129.9" y2="490.2" stroke="rgb(51,51,51)" stroke-width="0.7" opacity="0.43"/>
<line x1="121.9" y1="481.0" x2="122.2" y2="482.5" stroke="rgb(43,43,43)" stroke-width="0.7" opacity="0.53"/>
<line x1="121.9" y1="477.5" x2="120.8" y2="478.0" stroke="rgb(40,40,40)" stroke-width="0.7" opacity="0.30"/>
<line x1="125.7" y1="481.9" x2="126.4" y2="482.3" stroke="rgb(45,45,45)" stroke-width="0.7" opacity="0.41"/>
<line x1="112.0" y1="490.0" x2="111.8" y2="490.8" stroke="rgb(81,81,81)" stroke-width="0.7" opacity="0.50"/>
<line x1="132.2" y1="507.4" x2="133.0" y2="508.1" stroke="rgb(69,69,69)" stroke-width="0.7" opacity="0.45"/>
<line x1="131.6" y1="478.9" x2="129.5" y2="479.0" stroke="rgb(87,87,87)" stroke-width="0.7" opacity="0.46"/>
<line x1="124.8" y1="482.7" x2="125.6" y2="485.0" stroke="rgb(41,41,41)" stroke-width="0.7" opacity="0.37"/>
<line x1="122.5" y1="491.7" x2="120.5" y2="492.7" stroke="rgb(57,57,57)" stroke-width="0.7" opacity="0.47"/>
<line x1="120.1" y1="499.4" x2="118.7" y2="500.5" stroke="rgb(60,60,60)" stroke-width="0.7" opacity="0.34"/>
<line x1="134.0" y1="474.2" x2="135.1" y2="475.1" stroke="rgb(88,88,88)" stroke-width="0.7" opacity="0.23"/>
<line x1="127.4" y1="499.3" x2="127.4" y2="500.9" stroke="rgb(81,81,81)" stroke-width="0.7" opacity="0.28"/>
<line x1="121.3" y1="504.5" x2="119.7" y2="505.0" stroke="rgb(58,58,58)" stroke-width="0.7" opacity="0.48"/>
<line x1="133.7" y1="485.1" x2="132.3" y2="486.5" stroke="rgb(56,56,56)" stroke-width="0.7" opacity="0.55"/>
<line x1="126.0" y1="471.6" x2="126.0" y2="473.8" stroke="rgb(39,39,39)" stroke-width="0.7" opacity="0.54"/>
<line x1="116.0" y1="483.6" x2="116.9" y2="485.3" stroke="rgb(53,53,53)" stroke-width="0.7" opacity="0.32"/>
<line x1="136.9" y1="479.8" x2="139.0" y2="480.6" stroke="rgb(64,64,64)" stroke-width="0.7" opacity="0.23"/>
<line x1="112.5" y1="489.4" x2="114.5" y2="490.6" stroke="rgb(37,37,37)" stroke-width="0.7" opacity="0.33"/>
<line x1="132.8" y1="493.0" x2="132.9" y2="494.1" stroke="rgb(41,41,41)" stroke-width="0.7" opacity="0.49"/>
<line x1="130.9" y1="474.8" x2="130.6" y2="476.4" stroke="rgb(67,67,67)" stroke-width="0.7" opacity="0.34"/>
<line x1="140.4" y1="481.8" x2="142.2" y2="483.2" stroke="rgb(59,59,59)" stroke-width="0.7" opacity="0.40"/>
<line x1="121.2" y1="476.4" x2="122.4" y2="477.6" stroke="rgb(58,58,58)" stroke-width="0.7" opacity="0.35"/>
<line x1="137.6" y1="491.1" x2="138.0" y2="492.0" stroke="rgb(72,72,72)" stroke-width="0.7" opacity="0.36"/>
<line x1="127.6" y1="491.5" x2="126.7" y2="492.2" stroke="rgb(37,37,37)" stroke-width="0.7" opacity="0.27"/>
<line x1="127.0" y1="507.1" x2="126.3" y2="508.1" stroke="rgb(85,85,85)" stroke-width="0.7" opacity="0.39"/>
<line x1="134.1" y1="502.5" x2="134.6" y2="503.2" stroke="rgb(36,36,36)" stroke-width="0.7" opacity="0.32"/>
<line x1="125.3" y1="510.3" x2="126.0" y2="511.2" stroke="rgb(51,51,51)" stroke-width="0.7" opacity="0.54"/>
<line x1="139.0" y1="487.2" x2="140.8" y2="487.9" stroke="rgb(36,36,36)" stroke-width="0.7" opacity="0.23"/>
<line x1="140.7" y1="494.7" x2="141.9" y2="495.0" stroke="rgb(63,63,63)" stroke-width="0.7" opacity="0.30"/>
<line x1="116.9" y1="487.5" x2="117.3" y2="489.6" stroke="rgb(59,59,59)" stroke-width="0.7" opacity="0.27"/>
<line x1="124.5" y1="471.4" x2="125.8" y2="471.4" stroke="rgb(60,60,60)" stroke-width="0.7" opacity="0.28"/>
<line x1="114.1" y1="497.9" x2="114.3" y2="500.0" stroke="rgb(63,63,63)" stroke-width="0.7" opacity="0.28"/>
<line x1="112.0" y1="485.5" x2="112.6" y2="486.7" stroke="rgb(44,44,44)" stroke-width="0.7" opacity="0.27"/>
<line x1="140.0" y1="482.4" x2="138.6" y2="482.5" stroke="rgb(83,83,83)" stroke-width="0.7" opacity="0.31"/>
<line x1="126.5" y1="490.1" x2="125.2" y2="492.1" stroke="rgb(53,53,53)" stroke-width="0.7" opacity="0.21"/>
<line x1="117.7" y1="474.5" x2="119.4" y2="475.9" stroke="rgb(89,89,89)" stroke-width="0.7" opacity="0.42"/>
<line x1="144.2" y1="492.3" x2="142.3" y2="493.0" stroke="rgb(60,60,60)" stroke-width="0.7" opacity="0.40"/>
<line x1="129.4" y1="479.6" x2="129.7" y2="480.4" stroke="rgb(53,53,53)" stroke-width="0.7" opacity="0.25"/>
<line x1="116.8" y1="486.2" x2="115.7" y2="486.8" stroke="rgb(70,70,70)" stroke-width="0.7" opacity="0.54"/>
<line x1="143.0" y1="494.1" x2="142.0" y2="494.8" stroke="rgb(77,77,77)" stroke-width="0.7" opacity="0.46"/>
<line x1="133.0" y1="476.8" x2="133.7" y2="477.2" stroke="rgb(43,43,43)" stroke-width="0.7" opacity="0.32"/>
<line x1="115.3" y1="491.4" x2="116.4" y2="492.6" stroke="rgb(51,51,51)" stroke-width="0.7" opacity="0.42"/>
<line x1="121.2" y1="471.2" x2="121.2" y2="473.3" stroke="rgb(89,89,89)" stroke-width="0.7" opacity="0.42"/>
<line x1="114.7" y1="502.6" x2="112.7" y2="503.0" stroke="rgb(75,75,75)" stroke-width="0.7" opacity="0.30"/>
<line x1="128.3" y1="496.3" x2="127.8" y2="497.3" stroke="rgb(87,87,87)" stroke-width="0.7" opacity="0.24"/>
<line x1="124.8" y1="492.3" x2="126.5" y2="494.0" stroke="rgb(44,44,44)" stroke-width="0.7" opacity="0.31"/>
<line x1="143.6" y1="490.0" x2="142.6" y2="491.8" stroke="rgb(67,67,67)" stroke-width="0.7" opacity="0.54"/>
<line x1="119.7" y1="503.1" x2="118.5" y2="503.5" stroke="rgb(43,43,43)" stroke-width="0.7" opacity="0.33"/>
<line x1="115.3" y1="493.8" x2="115.6" y2="495.3" stroke="rgb(42,42,42)" stroke-width="0.7" opacity="0.22"/>
<line x1="123.1" y1="490.5" x2="124.4" y2="491.8" stroke="rgb(67,67,67)" stroke-width="0.7" opacity="0.22"/>
<line x1="117.5" y1="488.1" x2="116.0" y2="489.1" stroke="rgb(87,87,87)" stroke-width="0.7" opacity="0.50"/>
<line x1="139.2" y1="489.6" x2="139.0" y2="490.8" stroke="rgb(64,64,64)" stroke-width="0.7" opacity="0.31"/>
<line x1="133.9" y1="496.7" x2="133.7" y2="498.6" stroke="rgb(82,82,82)" stroke-width="0.7" opacity="0.45"/>
<line x1="120.9" y1="486.2" x2="121.7" y2="487.2" stroke="rgb(52,52,52)" stroke-width="0.7" opacity="0.38"/>
<line x1="119.9" y1="490.4" x2="118.4" y2="491.7" stroke="rgb(43,43,43)" stroke-width="0.7" opacity="0.40"/>
<line x1="122.2" y1="506.3" x2="123.1" y2="507.9" stroke="rgb(51,51,51)" stroke-width="0.7" opacity="0.33"/>
<line x1="124.4" y1="495.3" x2="124.6" y2="496.5" stroke="rgb(72,72,72)" stroke-width="0.7" opacity="0.23"/>
<line x1="132.8" y1="480.6" x2="134.1" y2="481.4" stroke="rgb(39,39,39)" stroke-width="0.7" opacity="0.28"/>
<line x1="126.9" y1="485.2" x2="127.0" y2="486.4" stroke="rgb(42,42,42)" stroke-width="0.7" opacity="0.38"/>
<line x1="115.1" y1="488.8" x2="114.3" y2="489.8" stroke="rgb(69,69,69)" stroke-width="0.7" opacity="0.28"/>
<line x1="127.5" y1="490.7" x2="126.4" y2="491.5" stroke="rgb(37,37,37)" stroke-width="0.7" opacity="0.55"/>
<line x1="124.7" y1="477.6" x2="123.9" y2="477.9" stroke="rgb(79,79,79)" stroke-width="0.7" opacity="0.45"/>
<line x1="119.6" y1="480.5" x2="120.4" y2="481.1" stroke="rgb(43,43,43)" stroke-width="0.7" opacity="0.20"/>
<line x1="117.1" y1="489.7" x2="117.0" y2="491.4" stroke="rgb(43,43,43)" stroke-width="0.7" opacity="0.49"/>
<line x1="136.1" y1="499.6" x2="135.0" y2="500.9" stroke="rgb(36,36,36)" stroke-width="0.7" opacity="0.25"/>
<line x1="123.8" y1="474.2" x2="124.5" y2="476.1" stroke="rgb(74,74,74)" stroke-width="0.7" opacity="0.22"/>
<line x1="118.2" y1="481.7" x2="118.3" y2="483.4" stroke="rgb(39,39,39)" stroke-width="0.7" opacity="0.41"/>
<line x1="115.0" y1="485.7" x2="113.6" y2="486.8" stroke="rgb(82,82,82)" stroke-width="0.7" opacity="0.42"/>
<line x1="130.0" y1="483.7" x2="128.9" y2="484.4" stroke="rgb(52,52,52)" stroke-width="0.7" opacity="0.36"/>
<line x1="126.9" y1="504.6" x2="127.5" y2="506.4" stroke="rgb(48,48,48)" stroke-width="0.7" opacity="0.29"/>
<line x1="136.0" y1="491.9" x2="133.8" y2="492.8" stroke="rgb(85,85,85)" stroke-width="0.7" opacity="0.49"/>
<line x1="126.9" y1="483.9" x2="128.8" y2="484.5" stroke="rgb(55,55,55)" stroke-width="0.7" opacity="0.52"/>
<line x1="122.3" y1="505.0" x2="120.5" y2="505.7" stroke="rgb(67,67,67)" stroke-width="0.7" opacity="0.29"/>
<line x1="133.2" y1="505.3" x2="132.6" y2="505.9" stroke="rgb(42,42,42)" stroke-width="0.7" opacity="0.44"/>
<line x1="108.3" y1="493.7" x2="108.6" y2="494.6" stroke="rgb(71,71,71)" stroke-width="0.7" opacity="0.22"/>
<line x1="118.9" y1="479.0" x2="118.4" y2="480.0" stroke="rgb(70,70,70)" stroke-width="0.7" opacity="0.22"/>
<line x1="115.8" y1="476.9" x2="115.3" y2="478.8" stroke="rgb(49,49,49)" stroke-width="0.7" opacity="0.29"/>
<line x1="116.9" y1="480.5" x2="117.4" y2="481.6" stroke="rgb(82,82,82)" stroke-width="0.7" opacity="0.42"/>
<line x1="140.5" y1="496.4" x2="138.8" y2="496.8" stroke="rgb(47,47,47)" stroke-width="0.7" opacity="0.40"/>
<line x1="118.4" y1="500.2" x2="118.2" y2="502.5" stroke="rgb(82,82,82)" stroke-width="0.7" opacity="0.22"/>
<line x1="111.4" y1="481.7" x2="113.1" y2="483.0" stroke="rgb(42,42,42)" stroke-width="0.7" opacity="0.21"/>
<line x1="121.1" y1="476.5" x2="121.4" y2="477.6" stroke="rgb(65,65,65)" stroke-width="0.7" opacity="0.45"/>
<line x1="138.7" y1="489.0" x2="140.0" y2="490.0" stroke="rgb(52,52,52)" stroke-width="0.7" opacity="0.29"/>
<line x1="121.1" y1="497.3" x2="121.7" y2="498.7" stroke="rgb(79,79,79)" stroke-width="0.7" opacity="0.44"/>
<line x1="114.2" y1="479.5" x2="113.2" y2="480.0" stroke="rgb(66,66,66)" stroke-width="0.7" opacity="0.29"/>
<line x1="128.2" y1="488.1" x2="127.5" y2="488.5" stroke="rgb(63,63,63)" stroke-width="0.7" opacity="0.40"/>
<line x1="119.9" y1="480.7" x2="118.8" y2="482.6" stroke="rgb(38,38,38)" stroke-width="0.7" opacity="0.52"/>
<line x1="133.7" y1="485.7" x2="131.6" y2="486.3" stroke="rgb(38,38,38)" stroke-width="0.7" opacity="0.24"/>
<line x1="136.1" y1="487.1" x2="137.0" y2="487.8" stroke="rgb(87,87,87)" stroke-width="0.7" opacity="0.36"/>
<line x1="116.0" y1="481.9" x2="115.1" y2="483.6" stroke="rgb(63,63,63)" stroke-width="0.7" opacity="0.34"/>
<line x1="111.4" y1="495.4" x2="112.4" y2="496.2" stroke="rgb(71,71,71)" stroke-width="0.7" opacity="0.28"/>
<line x1="134.6" y1="496.2" x2="134.0" y2="497.2" stroke="rgb(61,61,61)" stroke-width="0.7" opacity="0.37"/>
<line x1="145.4" y1="491.8" x2="146.2" y2="493.6" stroke="rgb(85,85,85)" stroke-width="0.7" opacity="0.44"/>
<line x1="146.3" y1="494.6" x2="147.5" y2="495.3" stroke="rgb(75,75,75)" stroke-width="0.7" opacity="0.46"/>
<line x1="134.9" y1="505.6" x2="136.9" y2="506.4" stroke="rgb(39,39,39)" stroke-width="0.7" opacity="0.30"/>
<line x1="135.9" y1="491.2" x2="134.8" y2="491.7" stroke="rgb(44,44,44)" stroke-width="0.7" opacity="0.45"/>
<line x1="132.3" y1="494.0" x2="131.8" y2="496.1" stroke="rgb(41,41,41)" stroke-width="0.7" opacity="0.36"/>
<line x1="146.2" y1="485.1" x2="145.6" y2="486.6" stroke="rgb(79,79,79)" stroke-width="0.7" opacity="0.48"/>
<line x1="111.5" y1="492.4" x2="113.5" y2="492.7" stroke="rgb(44,44,44)" stroke-width="0.7" opacity="0.52"/>
<line x1="137.1" y1="507.0" x2="136.0" y2="507.0" stroke="rgb(36,36,36)" stroke-width="0.7" opacity="0.36"/>
<line x1="140.6" y1="504.0" x2="139.7" y2="504.5" stroke="rgb(83,83,83)" stroke-width="0.7" opacity="0.31"/>
<line x1="135.8" y1="492.0" x2="134.7" y2="492.6" stroke="rgb(84,84,84)" stroke-width="0.7" opacity="0.29"/>
<line x1="129.1" y1="495.0" x2="130.5" y2="495.3" stroke="rgb(83,83,83)" stroke-width="0.7" opacity="0.25"/>
<line x1="128.5" y1="510.4" x2="127.6" y2="511.6" stroke="rgb(52,52,52)" stroke-width="0.7" opacity="0.21"/>
<line x1="126.1" y1="491.9" x2="124.5" y2="493.7" stroke="rgb(51,51,51)" stroke-width="0.7" opacity="0.44"/>
<line x1="118.8" y1="475.1" x2="117.9" y2="476.0" stroke="rgb(81,81,81)" stroke-width="0.7" opacity="0.34"/>
<line x1="131.8" y1="478.5" x2="131.0" y2="479.8" stroke="rgb(72,72,72)" stroke-width="0.7" opacity="0.48"/>
<line x1="132.0" y1="478.6" x2="132.6" y2="480.5" stroke="rgb(65,65,65)" stroke-width="0.7" opacity="0.30"/>
<line x1="127.2" y1="490.4" x2="128.6" y2="490.5" stroke="rgb(79,79,79)" stroke-width="0.7" opacity="0.52"/>
<line x1="133.4" y1="490.9" x2="132.7" y2="491.6" stroke="rgb(66,66,66)" stroke-width="0.7" opacity="0.37"/>
<line x1="144.2" y1="484.2" x2="144.5" y2="485.0" stroke="rgb(37,37,37)" stroke-width="0.7" opacity="0.29"/>
<line x1="130.6" y1="495.2" x2="130.4" y2="496.2" stroke="rgb(86,86,86)" stroke-width="0.7" opacity="0.22"/>
<line x1="142.9" y1="482.1" x2="143.4" y2="483.0" stroke="rgb(54,54,54)" stroke-width="0.7" opacity="0.22"/>
<line x1="121.3" y1="478.8" x2="119.9" y2="479.7" stroke="rgb(78,78,78)" stroke-width="0.7" opacity="0.46"/>
<line x1="135.4" y1="492.1" x2="135.0" y2="493.0" stroke="rgb(55,55,55)" stroke-width="0.7" opacity="0.39"/>
<line x1="126.5" y1="484.8" x2="125.4" y2="486.0" stroke="rgb(77,77,77)" stroke-width="0.7" opacity="0.34"/>
<line x1="125.9" y1="510.5" x2="124.8" y2="510.9" stroke="rgb(65,65,65)" stroke-width="0.7" opacity="0.30"/>
<line x1="140.9" y1="495.7" x2="139.9" y2="497.6" stroke="rgb(79,79,79)" stroke-width="0.7" opacity="0.25"/>
<line x1="136.6" y1="476.8" x2="137.7" y2="478.0" stroke="rgb(46,46,46)" stroke-width="0.7" opacity="0.44"/>
<line x1="137.1" y1="481.9" x2="135.3" y2="483.0" stroke="rgb(87,87,87)" stroke-width="0.7" opacity="0.55"/>
<line x1="117.0" y1="495.4" x2="118.1" y2="495.8" stroke="rgb(53,53,53)" stroke-width="0.7" opacity="0.44"/>
<line x1="126.1" y1="490.4" x2="127.4" y2="491.2" stroke="rgb(35,35,35)" stroke-width="0.7" opacity="0.52"/>
<line x1="130.8" y1="501.3" x2="130.0" y2="502.2" stroke="rgb(52,52,52)" stroke-width="0.7" opacity="0.20"/>
<line x1="118.6" y1="486.4" x2="118.6" y2="487.3" stroke="rgb(76,76,76)" stroke-width="0.7" opacity="0.44"/>
<line x1="137.8" y1="499.6" x2="139.3" y2="499.9" stroke="rgb(53,53,53)" stroke-width="0.7" opacity="0.21"/>
<line x1="140.6" y1="475.9" x2="139.2" y2="477.5" stroke="rgb(40,40,40)" stroke-width="0.7" opacity="0.33"/>
<line x1="126.3" y1="477.4" x2="127.5" y2="477.9" stroke="rgb(57,57,57)" stroke-width="0.7" opacity="0.28"/>
<line x1="134.4" y1="491.8" x2="133.6" y2="493.0" stroke="rgb(69,69,69)" stroke-width="0.7" opacity="0.41"/>
<line x1="126.0" y1="504.2" x2="128.0" y2="504.7" stroke="rgb(42,42,42)" stroke-width="0.7" opacity="0.44"/>
<line x1="125.4" y1="498.9" x2="124.5" y2="498.9" stroke="rgb(64,64,64)" stroke-width="0.7" opacity="0.55"/>
<line x1="115.2" y1="490.9" x2="115.5" y2="492.3" stroke="rgb(35,35,35)" stroke-width="0.7" opacity="0.35"/>
<line x1="113.9" y1="503.4" x2="113.5" y2="504.7" stroke="rgb(43,43,43)" stroke-width="0.7" opacity="0.44"/>
<line x1="134.3" y1="504.8" x2="132.1" y2="505.0" stroke="rgb(44,44,44)" stroke-width="0.7" opacity="0.41"/>
<line x1="139.2" y1="480.9" x2="139.5" y2="482.4" stroke="rgb(86,86,86)" stroke-width="0.7" opacity="0.47"/>
<line x1="127.0" y1="492.4" x2="127.9" y2="492.9" stroke="rgb(76,76,76)" stroke-width="0.7" opacity="0.43"/>
<line x1="127.1" y1="491.9" x2="128.3" y2="492.0" stroke="rgb(87,87,87)" stroke-width="0.7" opacity="0.49"/>
<line x1="124.7" y1="492.2" x2="123.2" y2="493.4" stroke="rgb(74,74,74)" stroke-width="0.7" opacity="0.44"/>
<line x1="118.0" y1="486.9" x2="116.2" y2="486.9" stroke="rgb(67,67,67)" stroke-width="0.7" opacity="0.30"/>
<line x1="131.0" y1="484.2" x2="129.2" y2="485.1" stroke="rgb(78,78,78)" stroke-width="0.7" opacity="0.46"/>
<line x1="115.1" y1="499.4" x2="114.9" y2="501.6" stroke="rgb(57,57,57)" stroke-width="0.7" opacity="0.44"/>
<line x1="128.8" y1="474.7" x2="129.2" y2="476.3" stroke="rgb(90,90,90)" stroke-width="0.7" opacity="0.47"/>
<line x1="140.1" y1="495.9" x2="140.8" y2="497.0" stroke="rgb(42,42,42)" stroke-width="0.7" opacity="0.44"/>
<line x1="143.3" y1="484.8" x2="144.8" y2="486.2" stroke="rgb(40,40,40)" stroke-width="0.7" opacity="0.35"/>
<line x1="110.7" y1="482.8" x2="111.4" y2="484.6" stroke="rgb(73,73,73)" stroke-width="0.7" opacity="0.32"/>
<line x1="121.2" y1="474.5" x2="119.5" y2="474.5" stroke="rgb(66,66,66)" stroke-width="0.7" opacity="0.48"/>
<line x1="127.2" y1="468.8" x2="127.2" y2="469.8" stroke="rgb(38,38,38)" stroke-width="0.7" opacity="0.47"/>
<line x1="139.5" y1="485.4" x2="137.8" y2="486.4" stroke="rgb(50,50,50)" stroke-width="0.7" opacity="0.20"/>
<line x1="114.4" y1="494.5" x2="115.0" y2="496.7" stroke="rgb(50,50,50)" stroke-width="0.7" opacity="0.22"/>
<line x1="127.5" y1="496.8" x2="126.5" y2="496.9" stroke="rgb(89,89,89)" stroke-width="0.7" opacity="0.38"/>
<line x1="134.4" y1="506.7" x2="134.8" y2="507.5" stroke="rgb(67,67,67)" stroke-width="0.7" opacity="0.55"/>
<line x1="128.3" y1="482.8" x2="126.2" y2="483.2" stroke="rgb(44,44,44)" stroke-width="0.7" opacity="0.28"/>
<line x1="129.9" y1="476.4" x2="130.9" y2="476.5" stroke="rgb(48,48,48)" stroke-width="0.7" opacity="0.29"/>
<line x1="120.1" y1="500.8" x2="118.8" y2="502.0" stroke="rgb(65,65,65)" stroke-width="0.7" opacity="0.47"/>
<line x1="125.3" y1="502.5" x2="126.6" y2="504.0" stroke="rgb(49,49,49)" stroke-width="0.7" opacity="0.52"/>
<line x1="120.5" y1="490.0" x2="120.4" y2="491.8" stroke="rgb(42,42,42)" stroke-width="0.7" opacity="0.32"/>
<line x1="140.6" y1="483.5" x2="139.8" y2="484.4" stroke="rgb(81,81,81)" stroke-width="0.7" opacity="0.25"/>
<line x1="127.0" y1="483.3" x2="127.3" y2="485.6" stroke="rgb(86,86,86)" stroke-width="0.7" opacity="0.44"/>
<line x1="112.4" y1="486.7" x2="112.9" y2="487.6" stroke="rgb(36,36,36)" stroke-width="0.7" opacity="0.37"/>
<line x1="122.4" y1="495.6" x2="122.0" y2="496.5" stroke="rgb(84,84,84)" stroke-width="0.7" opacity="0.43"/>
<line x1="133.4" y1="472.3" x2="132.0" y2="474.2" stroke="rgb(47,47,47)" stroke-width="0.7" opacity="0.42"/>
<line x1="120.5" y1="481.3" x2="119.3" y2="481.6" stroke="rgb(84,84,84)" stroke-width="0.7" opacity="0.22"/>
<line x1="116.5" y1="475.2" x2="115.7" y2="476.2" stroke="rgb(38,38,38)" stroke-width="0.7" opacity="0.22"/>
<line x1="124.5" y1="502.0" x2="123.6" y2="502.9" stroke="rgb(53,53,53)" stroke-width="0.7" opacity="0.40"/>
<line x1="117.3" y1="499.4" x2="117.8" y2="500.4" stroke="rgb(74,74,74)" stroke-width="0.7" opacity="0.50"/>
<line x1="135.4" y1="492.2" x2="135.4" y2="494.6" stroke="rgb(43,43,43)" stroke-width="0.7" opacity="0.28"/>
<line x1="127.7" y1="481.8" x2="129.4" y2="482.3" stroke="rgb(79,79,79)" stroke-width="0.7" opacity="0.37"/>
<line x1="120.7" y1="483.1" x2="120.1" y2="483.9" stroke="rgb(70,70,70)" stroke-width="0.7" opacity="0.53"/>
<line x1="127.1" y1="500.2" x2="125.2" y2="500.3" stroke="rgb(72,72,72)" stroke-width="0.7" opacity="0.39"/>
<line x1="114.7" y1="492.1" x2="113.9" y2="492.7" stroke="rgb(66,66,66)" stroke-width="0.7" opacity="0.22"/>
<line x1="122.0" y1="480.6" x2="123.3" y2="481.2" stroke="rgb(42,42,42)" stroke-width="0.7" opacity="0.21"/>
<line x1="129.2" y1="489.8" x2="127.7" y2="490.6" stroke="rgb(50,50,50)" stroke-width="0.7" opacity="0.50"/>
<line x1="128.1" y1="507.6" x2="130.0" y2="508.9" stroke="rgb(57,57,57)" stroke-width="0.7" opacity="0.28"/>
<line x1="144.4" y1="479.1" x2="143.5" y2="479.6" stroke="rgb(74,74,74)" stroke-width="0.7" opacity="0.53"/>
<line x1="130.1" y1="507.1" x2="130.8" y2="507.6" stroke="rgb(90,90,90)" stroke-width="0.7" opacity="0.44"/>
<line x1="126.1" y1="491.1" x2="124.8" y2="491.6" stroke="rgb(53,53,53)" stroke-width="0.7" opacity="0.30"/>
<line x1="121.4" y1="494.1" x2="119.9" y2="494.9" stroke="rgb(58,58,58)" stroke-width="0.7" opacity="0.34"/>
<line x1="146.5" y1="483.3" x2="146.6" y2="484.1" stroke="rgb(69,69,69)" stroke-width="0.7" opacity="0.55"/>
<line x1="138.7" y1="476.9" x2="138.0" y2="477.8" stroke="rgb(79,79,79)" stroke-width="0.7" opacity="0.51"/>
<line x1="125.0" y1="487.4" x2="124.9" y2="488.2" stroke="rgb(84,84,84)" stroke-width="0.7" opacity="0.23"/>
<line x1="133.3" y1="474.7" x2="134.1" y2="475.9" stroke="rgb(42,42,42)" stroke-width="0.7" opacity="0.47"/>
<line x1="132.7" y1="485.0" x2="133.4" y2="487.2" stroke="rgb(79,79,79)" stroke-width="0.7" opacity="0.55"/>
<line x1="134.6" y1="506.1" x2="134.4" y2="507.5" stroke="rgb(90,90,90)" stroke-width="0.7" opacity="0.20"/>
<line x1="124.7" y1="502.5" x2="122.6" y2="503.0" stroke="rgb(52,52,52)" stroke-width="0.7" opacity="0.30"/>
<line x1="126.9" y1="508.0" x2="127.8" y2="510.0" stroke="rgb(56,56,56)" stroke-width="0.7" opacity="0.26"/>
<line x1="126.5" y1="503.2" x2="126.1" y2="504.8" stroke="rgb(57,57,57)" stroke-width="0.7" opacity="0.48"/>
<line x1="134.6" y1="480.4" x2="133.8" y2="481.3" stroke="rgb(82,82,82)" stroke-width="0.7" opacity="0.46"/>
<line x1="116.2" y1="487.0" x2="115.7" y2="487.7" stroke="rgb(48,48,48)" stroke-width="0.7" opacity="0.22"/>
<line x1="136.3" y1="490.9" x2="137.2" y2="491.4" stroke="rgb(57,57,57)" stroke-width="0.7" opacity="0.55"/>
<line x1="113.3" y1="483.9" x2="111.9" y2="484.1" stroke="rgb(67,67,67)" stroke-width="0.7" opacity="0.41"/>
<line x1="131.5" y1="490.0" x2="130.4" y2="491.0" stroke="rgb(45,45,45)" stroke-width="0.7" opacity="0.49"/>
<line x1="126.5" y1="490.8" x2="127.8" y2="492.1" stroke="rgb(86,86,86)" stroke-width="0.7" opacity="0.47"/>
<line x1="139.7" y1="492.3" x2="138.3" y2="492.4" stroke="rgb(57,57,57)" stroke-width="0.7" opacity="0.46"/>
<line x1="122.8" y1="491.1" x2="122.7" y2="492.5" stroke="rgb(80,80,80)" stroke-width="0.7" opacity="0.20"/>
<line x1="143.6" y1="486.9" x2="145.0" y2="487.0" stroke="rgb(51,51,51)" stroke-width="0.7" opacity="0.36"/>
<line x1="133.4" y1="501.0" x2="131.7" y2="501.4" stroke="rgb(38,38,38)" stroke-width="0.7" opacity="0.39"/>
<line x1="141.4" y1="500.9" x2="142.9" y2="502.0" stroke="rgb(53,53,53)" stroke-width="0.7" opacity="0.41"/>
<line x1="115.4" y1="478.4" x2="114.8" y2="480.1" stroke="rgb(55,55,55)" stroke-width="0.7" opacity="0.39"/>
<line x1="136.1" y1="494.9" x2="136.6" y2="497.2" stroke="rgb(64,64,64)" stroke-width="0.7" opacity="0.29"/>
<line x1="127.5" y1="502.1" x2="127.8" y2="503.3" stroke="rgb(74,74,74)" stroke-width="0.7" opacity="0.45"/>
<line x1="128.6" y1="495.6" x2="127.8" y2="496.8" stroke="rgb(66,66,66)" stroke-width="0.7" opacity="0.36"/>
<line x1="128.1" y1="493.4" x2="127.1" y2="493.7" stroke="rgb(47,47,47)" stroke-width="0.7" opacity="0.46"/>
<line x1="114.7" y1="473.3" x2="115.1" y2="474.9" stroke="rgb(74,74,74)" stroke-width="0.7" opacity="0.32"/>
<line x1="124.1" y1="497.6" x2="125.3" y2="498.4" stroke="rgb(56,56,56)" stroke-width="0.7" opacity="0.35"/>
<line x1="143.6" y1="479.0" x2="144.1" y2="480.8" stroke="rgb(86,86,86)" stroke-width="0.7" opacity="0.45"/>
<line x1="118.2" y1="487.8" x2="117.4" y2="489.2" stroke="rgb(67,67,67)" stroke-width="0.7" opacity="0.21"/>
<line x1="142.0" y1="480.5" x2="144.2" y2="481.3" stroke="rgb(70,70,70)" stroke-width="0.7" opacity="0.27"/>
<line x1="140.9" y1="477.7" x2="141.8" y2="479.0" stroke="rgb(66,66,66)" stroke-width="0.7" opacity="0.54"/>
<line x1="129.3" y1="506.4" x2="129.9" y2="507.3" stroke="rgb(40,40,40)" stroke-width="0.7" opacity="0.23"/>
<line x1="128.8" y1="501.1" x2="129.1" y2="502.0" stroke="rgb(73,73,73)" stroke-width="0.7" opacity="0.50"/>
<line x1="133.5" y1="492.7" x2="131.9" y2="493.0" stroke="rgb(58,58,58)" stroke-width="0.7" opacity="0.26"/>
<line x1="139.7" y1="486.6" x2="138.7" y2="487.7" stroke="rgb(79,79,79)" stroke-width="0.7" opacity="0.44"/>
<line x1="109.8" y1="496.7" x2="109.2" y2="498.1" stroke="rgb(81,81,81)" stroke-width="0.7" opacity="0.55"/>
<line x1="110.7" y1="494.6" x2="109.7" y2="495.9" stroke="rgb(77,77,77)" stroke-width="0.7" opacity="0.29"/>
<line x1="108.5" y1="494.2" x2="107.3" y2="495.3" stroke="rgb(78,78,78)" stroke-width="0.7" opacity="0.48"/>
<line x1="139.0" y1="491.4" x2="138.4" y2="493.3" stroke="rgb(38,38,38)" stroke-width="0.7" opacity="0.24"/>
<line x1="114.0" y1="486.8" x2="115.6" y2="487.5" stroke="rgb(43,43,43)" stroke-width="0.7" opacity="0.48"/>
<line x1="133.4" y1="475.4" x2="135.5" y2="476.0" stroke="rgb(68,68,68)" stroke-width="0.7" opacity="0.42"/>
<line x1="140.6" y1="482.0" x2="142.5" y2="482.7" stroke="rgb(72,72,72)" stroke-width="0.7" opacity="0.34"/>
<line x1="119.6" y1="502.6" x2="120.2" y2="503.3" stroke="rgb(57,57,57)" stroke-width="0.7" opacity="0.24"/>
<line x1="128.2" y1="474.7" x2="128.5" y2="476.0" stroke="rgb(68,68,68)" stroke-width="0.7" opacity="0.51"/>
<line x1="117.2" y1="501.5" x2="117.3" y2="502.7" stroke="rgb(64,64,64)" stroke-width="0.7" opacity="0.37"/>
<line x1="139.6" y1="496.4" x2="140.3" y2="497.9" stroke="rgb(51,51,51)" stroke-width="0.7" opacity="0.22"/>
<line x1="129.4" y1="482.3" x2="130.3" y2="483.2" stroke="rgb(53,53,53)" stroke-width="0.7" opacity="0.34"/>
<line x1="121.6" y1="471.2" x2="123.2" y2="471.4" stroke="rgb(46,46,46)" stroke-width="0.7" opacity="0.20"/>
<line x1="127.7" y1="495.5" x2="128.2" y2="496.6" stroke="rgb(85,85,85)" stroke-width="0.7" opacity="0.49"/>
<line x1="129.3" y1="504.7" x2="130.6" y2="504.9" stroke="rgb(38,38,38)" stroke-width="0.7" opacity="0.31"/>
<line x1="113.4" y1="482.3" x2="111.1" y2="482.4" stroke="rgb(44,44,44)" stroke-width="0.7" opacity="0.32"/>
<line x1="120.7" y1="500.4" x2="121.8" y2="501.1" stroke="rgb(51,51,51)" stroke-width="0.7" opacity="0.38"/>
<line x1="123.7" y1="493.8" x2="122.1" y2="494.4" stroke="rgb(73,73,73)" stroke-width="0.7" opacity="0.45"/>
<line x1="113.5" y1="502.9" x2="112.1" y2="504.7" stroke="rgb(60,60,60)" stroke-width="0.7" opacity="0.52"/>
<line x1="118.8" y1="490.2" x2="117.8" y2="492.2" stroke="rgb(84,84,84)" stroke-width="0.7" opacity="0.50"/>
<line x1="124.9" y1="500.7" x2="124.4" y2="501.4" stroke="rgb(66,66,66)" stroke-width="0.7" opacity="0.21"/>
<line x1="112.7" y1="477.2" x2="112.6" y2="478.1" stroke="rgb(60,60,60)" stroke-width="0.7" opacity="0.54"/>
<line x1="124.4" y1="484.2" x2="123.6" y2="484.5" stroke="rgb(74,74,74)" stroke-width="0.7" opacity="0.35"/>
<line x1="116.7" y1="487.0" x2="116.5" y2="488.3" stroke="rgb(82,82,82)" stroke-width="0.7" opacity="0.35"/>
<line x1="143.4" y1="498.2" x2="143.9" y2="499.0" stroke="rgb(57,57,57)" stroke-width="0.7" opacity="0.28"/>
<line x1="127.0" y1="480.2" x2="129.0" y2="480.9" stroke="rgb(84,84,84)" stroke-width="0.7" opacity="0.54"/>
<line x1="140.4" y1="476.9" x2="141.6" y2="477.2" stroke="rgb(54,54,54)" stroke-width="0.7" opacity="0.41"/>
<line x1="144.0" y1="486.6" x2="143.4" y2="487.6" stroke="rgb(78,78,78)" stroke-width="0.7" opacity="0.37"/>
<line x1="127.4" y1="497.7" x2="128.0" y2="498.8" stroke="rgb(51,51,51)" stroke-width="0.7" opacity="0.38"/>
<line x1="121.5" y1="493.1" x2="122.5" y2="493.3" stroke="rgb(54,54,54)" stroke-width="0.7" opacity="0.55"/>
<line x1="132.3" y1="506.3" x2="131.4" y2="506.5" stroke="rgb(57,57,57)" stroke-width="0.7" opacity="0.36"/>
<line x1="143.9" y1="497.4" x2="142.6" y2="498.2" stroke="rgb(63,63,63)" stroke-width="0.7" opacity="0.29"/>
<line x1="124.7" y1="487.4" x2="125.9" y2="488.0" stroke="rgb(82,82,82)" stroke-width="0.7" opacity="0.30"/>
<line x1="127.8" y1="501.0" x2="127.1" y2="501.6" stroke="rgb(44,44,44)" stroke-width="0.7" opacity="0.30"/>
<line x1="111.2" y1="502.7" x2="109.0" y2="503.6" stroke="rgb(76,76,76)" stroke-width="0.7" opacity="0.43"/>
<line x1="139.1" y1="482.2" x2="137.4" y2="483.1" stroke="rgb(44,44,44)" stroke-width="0.7" opacity="0.40"/>
<line x1="140.9" y1="496.1" x2="141.1" y2="496.8" stroke="rgb(89,89,89)" stroke-width="0.7" opacity="0.52"/>
<line x1="111.8" y1="489.9" x2="113.6" y2="490.5" stroke="rgb(62,62,62)" stroke-width="0.7" opacity="0.54"/>
<line x1="125.7" y1="474.0" x2="127.4" y2="475.0" stroke="rgb(88,88,88)" stroke-width="0.7" opacity="0.52"/>
<line x1="127.9" y1="508.4" x2="126.4" y2="509.5" stroke="rgb(70,70,70)" stroke-width="0.7" opacity="0.35"/>
<line x1="113.2" y1="492.4" x2="111.3" y2="493.4" stroke="rgb(51,51,51)" stroke-width="0.7" opacity="0.51"/>
<line x1="136.2" y1="497.1" x2="136.5" y2="498.3" stroke="rgb(35,35,35)" stroke-width="0.7" opacity="0.28"/>
<line x1="120.1" y1="490.6" x2="120.6" y2="492.0" stroke="rgb(55,55,55)" stroke-width="0.7" opacity="0.41"/>
<line x1="132.8" y1="490.2" x2="130.4" y2="490.6" stroke="rgb(42,42,42)" stroke-width="0.7" opacity="0.29"/>
<line x1="128.2" y1="482.6" x2="130.0" y2="482.9" stroke="rgb(61,61,61)" stroke-width="0.7" opacity="0.23"/>
<line x1="108.0" y1="490.1" x2="109.0" y2="490.9" stroke="rgb(60,60,60)" stroke-width="0.7" opacity="0.47"/>
<line x1="109.1" y1="496.7" x2="109.4" y2="497.6" stroke="rgb(54,54,54)" stroke-width="0.7" opacity="0.49"/>
<line x1="144.2" y1="497.1" x2="145.3" y2="497.2" stroke="rgb(53,53,53)" stroke-width="0.7" opacity="0.38"/>
<line x1="145.1" y1="497.5" x2="145.2" y2="498.8" stroke="rgb(45,45,45)" stroke-width="0.7" opacity="0.38"/>
<line x1="134.5" y1="490.8" x2="133.8" y2="491.6" stroke="rgb(74,74,74)" stroke-width="0.7" opacity="0.55"/>
<line x1="141.0" y1="483.3" x2="142.7" y2="484.2" stroke="rgb(55,55,55)" stroke-width="0.7" opacity="0.44"/>
<line x1="129.3" y1="490.3" x2="128.0" y2="490.7" stroke="rgb(73,73,73)" stroke-width="0.7" opacity="0.52"/>
<line x1="147.3" y1="490.2" x2="147.0" y2="491.1" stroke="rgb(52,52,52)" stroke-width="0.7" opacity="0.45"/>
<line x1="143.2" y1="484.5" x2="142.4" y2="485.2" stroke="rgb(45,45,45)" stroke-width="0.7" opacity="0.51"/>
<line x1="134.5" y1="486.3" x2="134.9" y2="488.0" stroke="rgb(51,51,51)" stroke-width="0.7" opacity="0.47"/>
<line x1="144.7" y1="493.1" x2="144.5" y2="493.9" stroke="rgb(44,44,44)" stroke-width="0.7" opacity="0.30"/>
<line x1="122.7" y1="495.5" x2="120.8" y2="496.4" stroke="rgb(70,70,70)" stroke-width="0.7" opacity="0.32"/>
<line x1="133.2" y1="495.6" x2="134.4" y2="496.5" stroke="rgb(76,76,76)" stroke-width="0.7" opacity="0.52"/>
<line x1="134.7" y1="483.7" x2="135.6" y2="484.7" stroke="rgb(86,86,86)" stroke-width="0.7" opacity="0.42"/>
<line x1="122.5" y1="503.6" x2="120.7" y2="504.9" stroke="rgb(59,59,59)" stroke-width="0.7" opacity="0.30"/>
<line x1="135.0" y1="472.0" x2="135.7" y2="473.1" stroke="rgb(44,44,44)" stroke-width="0.7" opacity="0.22"/>
<line x1="145.0" y1="492.3" x2="146.5" y2="492.6" stroke="rgb(36,36,36)" stroke-width="0.7" opacity="0.23"/>
<line x1="107.3" y1="488.7" x2="109.1" y2="489.4" stroke="rgb(36,36,36)" stroke-width="0.7" opacity="0.46"/>
<line x1="137.4" y1="500.0" x2="138.1" y2="501.8" stroke="rgb(79,79,79)" stroke-width="0.7" opacity="0.37"/>
<line x1="133.5" y1="475.6" x2="132.6" y2="477.2" stroke="rgb(65,65,65)" stroke-width="0.7" opacity="0.33"/>
<line x1="116.0" y1="502.6" x2="114.1" y2="503.9" stroke="rgb(40,40,40)" stroke-width="0.7" opacity="0.22"/>
<line x1="142.8" y1="494.6" x2="142.9" y2="496.0" stroke="rgb(41,41,41)" stroke-width="0.7" opacity="0.25"/>
<line x1="131.8" y1="487.6" x2="131.3" y2="488.4" stroke="rgb(80,80,80)" stroke-width="0.7" opacity="0.45"/>
<line x1="127.3" y1="501.3" x2="126.1" y2="502.2" stroke="rgb(85,85,85)" stroke-width="0.7" opacity="0.28"/>
<line x1="118.9" y1="487.9" x2="117.1" y2="488.1" stroke="rgb(73,73,73)" stroke-width="0.7" opacity="0.29"/>
<line x1="126.1" y1="483.0" x2="127.1" y2="483.5" stroke="rgb(37,37,37)" stroke-width="0.7" opacity="0.45"/>
<line x1="125.6" y1="483.7" x2="125.7" y2="484.7" stroke="rgb(58,58,58)" stroke-width="0.7" opacity="0.49"/>
<line x1="120.1" y1="475.4" x2="119.4" y2="477.5" stroke="rgb(54,54,54)" stroke-width="0.7" opacity="0.33"/>
<line x1="123.8" y1="502.8" x2="124.8" y2="503.8" stroke="rgb(62,62,62)" stroke-width="0.7" opacity="0.35"/>
<line x1="139.1" y1="477.0" x2="138.2" y2="477.8" stroke="rgb(77,77,77)" stroke-width="0.7" opacity="0.40"/>
<line x1="116.8" y1="479.0" x2="115.2" y2="479.4" stroke="rgb(59,59,59)" stroke-width="0.7" opacity="0.20"/>
<line x1="137.3" y1="503.0" x2="135.7" y2="503.4" stroke="rgb(58,58,58)" stroke-width="0.7" opacity="0.47"/>
<line x1="131.4" y1="494.8" x2="131.5" y2="496.0" stroke="rgb(47,47,47)" stroke-width="0.7" opacity="0.28"/>
<line x1="135.4" y1="490.6" x2="136.2" y2="491.0" stroke="rgb(50,50,50)" stroke-width="0.7" opacity="0.39"/>
<line x1="128.4" y1="495.5" x2="126.2" y2="496.0" stroke="rgb(47,47,47)" stroke-width="0.7" opacity="0.39"/>
<line x1="123.2" y1="496.1" x2="122.4" y2="496.6" stroke="rgb(88,88,88)" stroke-width="0.7" opacity="0.53"/>
<line x1="128.3" y1="486.0" x2="129.6" y2="486.5" stroke="rgb(75,75,75)" stroke-width="0.7" opacity="0.37"/>
<line x1="144.6" y1="487.2" x2="146.7" y2="487.2" stroke="rgb(56,56,56)" stroke-width="0.7" opacity="0.35"/>
<line x1="141.2" y1="479.2" x2="140.7" y2="480.4" stroke="rgb(76,76,76)" stroke-width="0.7" opacity="0.27"/>
<line x1="124.6" y1="471.9" x2="125.5" y2="473.6" stroke="rgb(84,84,84)" stroke-width="0.7" opacity="0.26"/>
<line x1="130.4" y1="496.2" x2="130.8" y2="497.1" stroke="rgb(36,36,36)" stroke-width="0.7" opacity="0.36"/>
<line x1="142.9" y1="479.0" x2="143.9" y2="480.2" stroke="rgb(46,46,46)" stroke-width="0.7" opacity="0.46"/>
<line x1="134.4" y1="499.5" x2="133.5" y2="501.2" stroke="rgb(67,67,67)" stroke-width="0.7" opacity="0.21"/>
<line x1="127.9" y1="485.1" x2="129.8" y2="485.3" stroke="rgb(90,90,90)" stroke-width="0.7" opacity="0.35"/>
<line x1="117.0" y1="503.5" x2="115.0" y2="503.6" stroke="rgb(47,47,47)" stroke-width="0.7" opacity="0.23"/>
<line x1="122.4" y1="489.3" x2="123.8" y2="490.5" stroke="rgb(42,42,42)" stroke-width="0.7" opacity="0.35"/>
<line x1="124.9" y1="498.1" x2="126.6" y2="498.1" stroke="rgb(59,59,59)" stroke-width="0.7" opacity="0.41"/>
<line x1="117.2" y1="502.3" x2="117.7" y2="503.2" stroke="rgb(43,43,43)" stroke-width="0.7" opacity="0.52"/>
<line x1="110.8" y1="487.4" x2="112.2" y2="487.4" stroke="rgb(81,81,81)" stroke-width="0.7" opacity="0.55"/>
<line x1="122.9" y1="496.4" x2="124.1" y2="498.1" stroke="rgb(73,73,73)" stroke-width="0.7" opacity="0.38"/>
<line x1="112.5" y1="483.3" x2="111.6" y2="484.8" stroke="rgb(47,47,47)" stroke-width="0.7" opacity="0.47"/>
<line x1="137.9" y1="507.9" x2="139.5" y2="509.2" stroke="rgb(68,68,68)" stroke-width="0.7" opacity="0.35"/>
<line x1="140.1" y1="504.7" x2="139.3" y2="504.9" stroke="rgb(55,55,55)" stroke-width="0.7" opacity="0.29"/>
<line x1="141.2" y1="481.1" x2="140.0" y2="481.5" stroke="rgb(45,45,45)" stroke-width="0.7" opacity="0.46"/>
<line x1="133.2" y1="492.2" x2="132.5" y2="493.2" stroke="rgb(40,40,40)" stroke-width="0.7" opacity="0.33"/>
<line x1="125.2" y1="484.2" x2="123.9" y2="484.3" stroke="rgb(37,37,37)" stroke-width="0.7" opacity="0.40"/>
<line x1="121.3" y1="481.3" x2="122.9" y2="481.6" stroke="rgb(57,57,57)" stroke-width="0.7" opacity="0.55"/>
<line x1="119.8" y1="480.5" x2="121.9" y2="481.5" stroke="rgb(66,66,66)" stroke-width="0.7" opacity="0.28"/>
<line x1="114.7" y1="500.1" x2="113.8" y2="500.6" stroke="rgb(73,73,73)" stroke-width="0.7" opacity="0.30"/>
<line x1="146.7" y1="488.2" x2="147.3" y2="489.6" stroke="rgb(67,67,67)" stroke-width="0.7" opacity="0.50"/>
<line x1="110.9" y1="486.2" x2="110.2" y2="486.8" stroke="rgb(40,40,40)" stroke-width="0.7" opacity="0.25"/>
<line x1="137.6" y1="476.7" x2="136.7" y2="477.9" stroke="rgb(63,63,63)" stroke-width="0.7" opacity="0.39"/>
<line x1="118.1" y1="482.3" x2="119.9" y2="482.7" stroke="rgb(67,67,67)" stroke-width="0.7" opacity="0.38"/>
<line x1="123.9" y1="492.0" x2="124.7" y2="493.3" stroke="rgb(35,35,35)" stroke-width="0.7" opacity="0.46"/>
<line x1="121.8" y1="480.4" x2="123.3" y2="482.1" stroke="rgb(72,72,72)" stroke-width="0.7" opacity="0.26"/>
<line x1="122.9" y1="484.3" x2="121.3" y2="484.7" stroke="rgb(73,73,73)" stroke-width="0.7" opacity="0.43"/>
<line x1="143.1" y1="496.9" x2="141.9" y2="497.9" stroke="rgb(85,85,85)" stroke-width="0.7" opacity="0.47"/>
<line x1="143.0" y1="496.2" x2="143.7" y2="496.7" stroke="rgb(85,85,85)" stroke-width="0.7" opacity="0.35"/>
<line x1="116.4" y1="498.8" x2="116.9" y2="499.6" stroke="rgb(69,69,69)" stroke-width="0.7" opacity="0.35"/>
<line x1="117.8" y1="487.1" x2="119.1" y2="489.0" stroke="rgb(47,47,47)" stroke-width="0.7" opacity="0.47"/>
<line x1="122.9" y1="475.2" x2="121.8" y2="475.3" stroke="rgb(64,64,64)" stroke-width="0.7" opacity="0.43"/>
<line x1="141.6" y1="489.8" x2="140.7" y2="490.0" stroke="rgb(74,74,74)" stroke-width="0.7" opacity="0.31"/>
<line x1="133.7" y1="487.2" x2="134.0" y2="488.0" stroke="rgb(38,38,38)" stroke-width="0.7" opacity="0.41"/>
<line x1="136.2" y1="487.4" x2="137.9" y2="488.6" stroke="rgb(49,49,49)" stroke-width="0.7" opacity="0.36"/>
<line x1="127.3" y1="490.3" x2="127.9" y2="491.0" stroke="rgb(64,64,64)" stroke-width="0.7" opacity="0.36"/>
<line x1="116.9" y1="478.4" x2="115.7" y2="479.6" stroke="rgb(79,79,79)" stroke-width="0.7" opacity="0.29"/>
<line x1="116.8" y1="504.2" x2="117.1" y2="506.5" stroke="rgb(84,84,84)" stroke-width="0.7" opacity="0.36"/>
<line x1="118.2" y1="485.2" x2="118.5" y2="487.1" stroke="rgb(64,64,64)" stroke-width="0.7" opacity="0.47"/>
<line x1="138.6" y1="485.6" x2="138.3" y2="486.8" stroke="rgb(60,60,60)" stroke-width="0.7" opacity="0.31"/>
<line x1="137.9" y1="503.0" x2="137.3" y2="504.2" stroke="rgb(75,75,75)" stroke-width="0.7" opacity="0.42"/>
<line x1="117.2" y1="492.2" x2="118.3" y2="492.5" stroke="rgb(73,73,73)" stroke-width="0.7" opacity="0.38"/>
<line x1="127.2" y1="506.0" x2="126.5" y2="506.5" stroke="rgb(54,54,54)" stroke-width="0.7" opacity="0.37"/>
<line x1="132.7" y1="483.9" x2="131.1" y2="484.8" stroke="rgb(56,56,56)" stroke-width="0.7" opacity="0.50"/>
<line x1="136.9" y1="488.5" x2="138.2" y2="489.0" stroke="rgb(43,43,43)" stroke-width="0.7" opacity="0.42"/>
<line x1="115.7" y1="473.3" x2="116.1" y2="474.0" stroke="rgb(70,70,70)" stroke-width="0.7" opacity="0.40"/>
<line x1="124.0" y1="497.9" x2="124.5" y2="499.7" stroke="rgb(57,57,57)" stroke-width="0.7" opacity="0.45"/>
<line x1="120.7" y1="497.6" x2="119.8" y2="498.9" stroke="rgb(56,56,56)" stroke-width="0.7" opacity="0.26"/>
<line x1="131.8" y1="497.4" x2="131.2" y2="499.3" stroke="rgb(62,62,62)" stroke-width="0.7" opacity="0.45"/>
<line x1="138.6" y1="498.7" x2="137.2" y2="500.6" stroke="rgb(66,66,66)" stroke-width="0.7" opacity="0.26"/>
<line x1="117.7" y1="484.4" x2="118.5" y2="485.2" stroke="rgb(45,45,45)" stroke-width="0.7" opacity="0.44"/>
<line x1="111.5" y1="500.9" x2="112.0" y2="503.2" stroke="rgb(86,86,86)" stroke-width="0.7" opacity="0.25"/>
<line x1="127.0" y1="489.4" x2="128.6" y2="490.8" stroke="rgb(35,35,35)" stroke-width="0.7" opacity="0.27"/>
<line x1="127.7" y1="489.9" x2="127.7" y2="491.4" stroke="rgb(72,72,72)" stroke-width="0.7" opacity="0.27"/>
<line x1="130.4" y1="477.1" x2="129.7" y2="478.1" stroke="rgb(68,68,68)" stroke-width="0.7" opacity="0.26"/>
<line x1="118.5" y1="478.1" x2="117.0" y2="479.2" stroke="rgb(38,38,38)" stroke-width="0.7" opacity="0.33"/>
<line x1="136.8" y1="503.9" x2="137.9" y2="504.3" stroke="rgb(72,72,72)" stroke-width="0.7" opacity="0.50"/>
<line x1="137.2" y1="489.0" x2="136.3" y2="489.1" stroke="rgb(59,59,59)" stroke-width="0.7" opacity="0.24"/>
<line x1="136.2" y1="506.0" x2="134.9" y2="506.5" stroke="rgb(64,64,64)" stroke-width="0.7" opacity="0.31"/>
<line x1="126.6" y1="489.3" x2="127.5" y2="490.0" stroke="rgb(75,75,75)" stroke-width="0.7" opacity="0.54"/>
<line x1="125.4" y1="500.9" x2="126.2" y2="502.2" stroke="rgb(38,38,38)" stroke-width="0.7" opacity="0.49"/>
<line x1="124.0" y1="496.3" x2="124.3" y2="497.4" stroke="rgb(48,48,48)" stroke-width="0.7" opacity="0.52"/>
<line x1="137.1" y1="497.0" x2="138.0" y2="497.3" stroke="rgb(53,53,53)" stroke-width="0.7" opacity="0.36"/>
<line x1="130.5" y1="484.4" x2="132.2" y2="485.0" stroke="rgb(35,35,35)" stroke-width="0.7" opacity="0.44"/>
<line x1="119.1" y1="470.5" x2="119.1" y2="472.1" stroke="rgb(83,83,83)" stroke-width="0.7" opacity="0.40"/>
<line x1="121.2" y1="496.0" x2="120.1" y2="496.5" stroke="rgb(73,73,73)" stroke-width="0.7" opacity="0.35"/>
<line x1="140.5" y1="504.7" x2="140.6" y2="506.6" stroke="rgb(70,70,70)" stroke-width="0.7" opacity="0.40"/>
<line x1="126.2" y1="492.7" x2="124.6" y2="493.2" stroke="rgb(75,75,75)" stroke-width="0.7" opacity="0.33"/>
<line x1="132.4" y1="506.7" x2="132.2" y2="507.8" stroke="rgb(85,85,85)" stroke-width="0.7" opacity="0.22"/>
<line x1="115.8" y1="482.8" x2="115.0" y2="483.1" stroke="rgb(58,58,58)" stroke-width="0.7" opacity="0.51"/>
<line x1="109.8" y1="493.8" x2="108.8" y2="493.9" stroke="rgb(66,66,66)" stroke-width="0.7" opacity="0.45"/>
<line x1="130.1" y1="468.8" x2="131.2" y2="470.2" stroke="rgb(72,72,72)" stroke-width="0.7" opacity="0.41"/>
<line x1="118.2" y1="480.1" x2="118.0" y2="481.6" stroke="rgb(42,42,42)" stroke-width="0.7" opacity="0.46"/>
<line x1="126.5" y1="490.7" x2="126.3" y2="491.6" stroke="rgb(75,75,75)" stroke-width="0.7" opacity="0.43"/>
<line x1="131.1" y1="482.0" x2="130.2" y2="483.7" stroke="rgb(90,90,90)" stroke-width="0.7" opacity="0.38"/>
<line x1="130.4" y1="480.6" x2="131.7" y2="482.3" stroke="rgb(66,66,66)" stroke-width="0.7" opacity="0.43"/>
<line x1="133.6" y1="488.3" x2="134.3" y2="488.8" stroke="rgb(89,89,89)" stroke-width="0.7" opacity="0.25"/>
<line x1="130.3" y1="510.8" x2="131.2" y2="512.9" stroke="rgb(69,69,69)" stroke-width="0.7" opacity="0.24"/>
<line x1="131.8" y1="479.0" x2="130.1" y2="479.5" stroke="rgb(87,87,87)" stroke-width="0.7" opacity="0.37"/>
<line x1="137.9" y1="495.5" x2="136.9" y2="496.7" stroke="rgb(50,50,50)" stroke-width="0.7" opacity="0.23"/>
<line x1="132.0" y1="476.2" x2="131.0" y2="476.6" stroke="rgb(35,35,35)" stroke-width="0.7" opacity="0.33"/>
<line x1="125.6" y1="503.6" x2="125.0" y2="504.7" stroke="rgb(87,87,87)" stroke-width="0.7" opacity="0.49"/>
<line x1="113.1" y1="483.6" x2="111.5" y2="485.3" stroke="rgb(51,51,51)" stroke-width="0.7" opacity="0.38"/>
<line x1="108.8" y1="493.9" x2="109.6" y2="494.4" stroke="rgb(59,59,59)" stroke-width="0.7" opacity="0.30"/>
<line x1="142.3" y1="492.3" x2="143.9" y2="492.4" stroke="rgb(61,61,61)" stroke-width="0.7" opacity="0.41"/>
<line x1="127.5" y1="490.8" x2="126.6" y2="492.7" stroke="rgb(89,89,89)" stroke-width="0.7" opacity="0.36"/>
<line x1="113.2" y1="493.6" x2="113.6" y2="494.5" stroke="rgb(53,53,53)" stroke-width="0.7" opacity="0.40"/>
<line x1="121.3" y1="484.9" x2="122.2" y2="485.6" stroke="rgb(36,36,36)" stroke-width="0.7" opacity="0.47"/>
<line x1="137.7" y1="497.6" x2="135.8" y2="498.5" stroke="rgb(38,38,38)" stroke-width="0.7" opacity="0.43"/>
<line x1="139.3" y1="477.1" x2="141.4" y2="477.6" stroke="rgb(54,54,54)" stroke-width="0.7" opacity="0.44"/>
<line x1="143.9" y1="492.7" x2="142.1" y2="493.7" stroke="rgb(56,56,56)" stroke-width="0.7" opacity="0.21"/>
<line x1="134.4" y1="509.6" x2="135.3" y2="509.8" stroke="rgb(58,58,58)" stroke-width="0.7" opacity="0.48"/>
<line x1="136.5" y1="492.9" x2="136.0" y2="493.8" stroke="rgb(47,47,47)" stroke-width="0.7" opacity="0.46"/>
<line x1="137.6" y1="483.8" x2="137.1" y2="485.2" stroke="rgb(82,82,82)" stroke-width="0.7" opacity="0.38"/>
<line x1="128.6" y1="507.9" x2="127.9" y2="509.0" stroke="rgb(66,66,66)" stroke-width="0.7" opacity="0.42"/>
<line x1="142.4" y1="500.3" x2="143.8" y2="501.8" stroke="rgb(54,54,54)" stroke-width="0.7" opacity="0.27"/>
<line x1="118.4" y1="470.9" x2="119.3" y2="471.9" stroke="rgb(37,37,37)" stroke-width="0.7" opacity="0.44"/>
<line x1="119.4" y1="486.4" x2="119.3" y2="487.4" stroke="rgb(87,87,87)" stroke-width="0.7" opacity="0.29"/>
<line x1="116.1" y1="476.8" x2="117.3" y2="477.7" stroke="rgb(62,62,62)" stroke-width="0.7" opacity="0.32"/>
<line x1="144.3" y1="487.1" x2="144.1" y2="488.9" stroke="rgb(88,88,88)" stroke-width="0.7" opacity="0.42"/>
<line x1="117.9" y1="486.5" x2="116.8" y2="487.0" stroke="rgb(89,89,89)" stroke-width="0.7" opacity="0.46"/>
<line x1="119.8" y1="496.3" x2="121.3" y2="497.5" stroke="rgb(52,52,52)" stroke-width="0.7" opacity="0.36"/>
<line x1="116.3" y1="499.3" x2="116.8" y2="500.4" stroke="rgb(80,80,80)" stroke-width="0.7" opacity="0.47"/>
<line x1="135.2" y1="508.9" x2="133.7" y2="509.0" stroke="rgb(48,48,48)" stroke-width="0.7" opacity="0.51"/>
<line x1="139.7" y1="484.0" x2="139.9" y2="484.8" stroke="rgb(74,74,74)" stroke-width="0.7" opacity="0.29"/>
<line x1="127.7" y1="473.7" x2="127.0" y2="474.0" stroke="rgb(49,49,49)" stroke-width="0.7" opacity="0.23"/>
<line x1="124.4" y1="495.6" x2="125.0" y2="496.1" stroke="rgb(60,60,60)" stroke-width="0.7" opacity="0.37"/>
<line x1="121.9" y1="498.5" x2="121.4" y2="500.8" stroke="rgb(77,77,77)" stroke-width="0.7" opacity="0.28"/>
<line x1="114.5" y1="494.1" x2="113.7" y2="495.9" stroke="rgb(36,36,36)" stroke-width="0.7" opacity="0.44"/>
<line x1="132.3" y1="489.6" x2="133.6" y2="490.0" stroke="rgb(47,47,47)" stroke-width="0.7" opacity="0.37"/>
<line x1="122.9" y1="480.1" x2="124.5" y2="481.8" stroke="rgb(38,38,38)" stroke-width="0.7" opacity="0.51"/>
<line x1="120.6" y1="478.3" x2="120.8" y2="479.4" stroke="rgb(62,62,62)" stroke-width="0.7" opacity="0.52"/>
<line x1="139.4" y1="497.5" x2="139.5" y2="499.1" stroke="rgb(72,72,72)" stroke-width="0.7" opacity="0.42"/>
<line x1="135.1" y1="490.0" x2="134.3" y2="490.3" stroke="rgb(70,70,70)" stroke-width="0.7" opacity="0.48"/>
<line x1="120.2" y1="476.4" x2="118.6" y2="477.3" stroke="rgb(36,36,36)" stroke-width="0.7" opacity="0.48"/>
<line x1="128.3" y1="488.5" x2="128.8" y2="489.2" stroke="rgb(64,64,64)" stroke-width="0.7" opacity="0.22"/>
<line x1="143.4" y1="500.1" x2="144.3" y2="500.1" stroke="rgb(82,82,82)" stroke-width="0.7" opacity="0.53"/>
<line x1="120.2" y1="505.5" x2="119.0" y2="506.4" stroke="rgb(43,43,43)" stroke-width="0.7" opacity="0.40"/>
<line x1="138.3" y1="486.6" x2="137.9" y2="488.2" stroke="rgb(39,39,39)" stroke-width="0.7" opacity="0.30"/>
<line x1="136.8" y1="490.4" x2="138.7" y2="491.1" stroke="rgb(70,70,70)" stroke-width="0.7" opacity="0.47"/>
<line x1="124.1" y1="478.4" x2="125.8" y2="478.6" stroke="rgb(73,73,73)" stroke-width="0.7" opacity="0.32"/>
<line x1="118.0" y1="473.7" x2="116.2" y2="475.2" stroke="rgb(69,69,69)" stroke-width="0.7" opacity="0.39"/>
<line x1="119.7" y1="494.1" x2="120.5" y2="495.2" stroke="rgb(60,60,60)" stroke-width="0.7" opacity="0.24"/>
<line x1="126.6" y1="506.1" x2="127.1" y2="506.7" stroke="rgb(64,64,64)" stroke-width="0.7" opacity="0.37"/>
<line x1="132.1" y1="478.0" x2="129.9" y2="478.4" stroke="rgb(76,76,76)" stroke-width="0.7" opacity="0.30"/>
<line x1="110.5" y1="491.8" x2="111.2" y2="492.1" stroke="rgb(66,66,66)" stroke-width="0.7" opacity="0.35"/>
<line x1="144.7" y1="487.2" x2="144.1" y2="488.4" stroke="rgb(70,70,70)" stroke-width="0.7" opacity="0.30"/>
<line x1="117.7" y1="502.7" x2="116.9" y2="503.3" stroke="rgb(57,57,57)" stroke-width="0.7" opacity="0.28"/>
<line x1="116.5" y1="475.2" x2="115.6" y2="476.7" stroke="rgb(84,84,84)" stroke-width="0.7" opacity="0.51"/>
<line x1="130.0" y1="490.9" x2="131.2" y2="491.7" stroke="rgb(35,35,35)" stroke-width="0.7" opacity="0.24"/>
<line x1="119.0" y1="486.0" x2="117.3" y2="486.1" stroke="rgb(85,85,85)" stroke-width="0.7" opacity="0.33"/>
<line x1="139.2" y1="488.6" x2="140.7" y2="490.1" stroke="rgb(86,86,86)" stroke-width="0.7" opacity="0.33"/>
<line x1="122.2" y1="504.4" x2="124.2" y2="505.4" stroke="rgb(51,51,51)" stroke-width="0.7" opacity="0.43"/>
<line x1="121.0" y1="495.5" x2="119.8" y2="496.8" stroke="rgb(40,40,40)" stroke-width="0.7" opacity="0.36"/>
<line x1="118.7" y1="474.7" x2="119.1" y2="475.4" stroke="rgb(86,86,86)" stroke-width="0.7" opacity="0.46"/>
<line x1="138.2" y1="475.8" x2="136.7" y2="476.6" stroke="rgb(63,63,63)" stroke-width="0.7" opacity="0.53"/>
<line x1="142.8" y1="488.3" x2="141.1" y2="488.7" stroke="rgb(43,43,43)" stroke-width="0.7" opacity="0.42"/>
<line x1="128.0" y1="505.4" x2="127.1" y2="506.6" stroke="rgb(51,51,51)" stroke-width="0.7" opacity="0.46"/>
<line x1="132.1" y1="491.2" x2="131.0" y2="492.1" stroke="rgb(63,63,63)" stroke-width="0.7" opacity="0.23"/>
<line x1="128.2" y1="469.4" x2="127.6" y2="471.1" stroke="rgb(55,55,55)" stroke-width="0.7" opacity="0.50"/>
<line x1="129.4" y1="485.7" x2="129.0" y2="486.9" stroke="rgb(50,50,50)" stroke-width="0.7" opacity="0.39"/>
<line x1="111.3" y1="494.1" x2="109.7" y2="495.6" stroke="rgb(35,35,35)" stroke-width="0.7" opacity="0.35"/>
<line x1="122.5" y1="482.0" x2="122.0" y2="482.8" stroke="rgb(48,48,48)" stroke-width="0.7" opacity="0.55"/>
<line x1="119.3" y1="505.1" x2="118.6" y2="506.7" stroke="rgb(62,62,62)" stroke-width="0.7" opacity="0.35"/>
<line x1="143.6" y1="480.4" x2="142.6" y2="481.3" stroke="rgb(39,39,39)" stroke-width="0.7" opacity="0.33"/>
<line x1="139.0" y1="484.7" x2="140.2" y2="485.5" stroke="rgb(89,89,89)" stroke-width="0.7" opacity="0.22"/>
<line x1="140.2" y1="486.7" x2="141.8" y2="486.9" stroke="rgb(64,64,64)" stroke-width="0.7" opacity="0.46"/>
<line x1="117.9" y1="474.9" x2="117.0" y2="475.6" stroke="rgb(40,40,40)" stroke-width="0.7" opacity="0.34"/>
<line x1="137.3" y1="480.2" x2="136.8" y2="482.2" stroke="rgb(56,56,56)" stroke-width="0.7" opacity="0.50"/>
<line x1="120.3" y1="497.2" x2="119.3" y2="497.2" stroke="rgb(38,38,38)" stroke-width="0.7" opacity="0.43"/>
<line x1="117.5" y1="491.6" x2="117.3" y2="492.6" stroke="rgb(84,84,84)" stroke-width="0.7" opacity="0.36"/>
<line x1="137.8" y1="494.3" x2="137.1" y2="495.6" stroke="rgb(80,80,80)" stroke-width="0.7" opacity="0.48"/>
<line x1="138.1" y1="481.4" x2="137.8" y2="482.9" stroke="rgb(39,39,39)" stroke-width="0.7" opacity="0.22"/>
<line x1="116.8" y1="495.5" x2="115.9" y2="497.1" stroke="rgb(66,66,66)" stroke-width="0.7" opacity="0.54"/>
<line x1="129.8" y1="475.8" x2="131.1" y2="477.0" stroke="rgb(77,77,77)" stroke-width="0.7" opacity="0.29"/>
<line x1="143.3" y1="481.1" x2="142.1" y2="482.6" stroke="rgb(52,52,52)" stroke-width="0.7" opacity="0.37"/>
<line x1="142.7" y1="504.3" x2="141.9" y2="505.4" stroke="rgb(76,76,76)" stroke-width="0.7" opacity="0.31"/>
<line x1="131.5" y1="484.7" x2="133.5" y2="485.8" stroke="rgb(45,45,45)" stroke-width="0.7" opacity="0.36"/>
<line x1="124.7" y1="477.5" x2="125.4" y2="479.7" stroke="rgb(76,76,76)" stroke-width="0.7" opacity="0.40"/>
<line x1="120.0" y1="506.8" x2="120.4" y2="508.4" stroke="rgb(63,63,63)" stroke-width="0.7" opacity="0.45"/>
<line x1="124.6" y1="486.2" x2="125.0" y2="487.6" stroke="rgb(46,46,46)" stroke-width="0.7" opacity="0.26"/>
</g>
<line x1="71.20" y1="468.30" x2="92.60" y2="468.30" stroke="#f0f0f0" stroke-width="0.8" />
<line x1="71.20" y1="504.30" x2="92.60" y2="504.30" stroke="#f0f0f0" stroke-width="0.8" />
<line x1="92.60" y1="469.00" x2="92.60" y2="503.60" stroke="#f0f0f0" stroke-width="0.9" />
<path d="M90.8 471.5L92.6 468.3L94.4 471.5Z M90.8 501.2L92.6 504.4L94.4 501.2Z" fill="#f0f0f0"/>
<rect x="63.8" y="512.6" width="30" height="3.2" fill="#ffffff"/>
<line x1="127.70" y1="467.00" x2="150.30" y2="467.00" stroke="#f0f0f0" stroke-width="0.6" />
<line x1="125.40" y1="512.00" x2="150.30" y2="512.00" stroke="#f0f0f0" stroke-width="0.8" />
<line x1="150.30" y1="467.50" x2="150.30" y2="511.50" stroke="#f0f0f0" stroke-width="0.9" />
<path d="M148.5 470.2L150.3 467L152.1 470.2Z M148.5 508.8L150.3 512L152.1 508.8Z" fill="#f0f0f0"/>
<text x="70.50" y="528.30" font-size="8.4" text-anchor="middle" fill="#161616" font-weight="normal" textLength="34.6" lengthAdjust="spacingAndGlyphs" >MMP-low</text>
<text x="126.70" y="528.40" font-size="8.4" text-anchor="middle" fill="#161616" font-weight="normal" textLength="37.2" lengthAdjust="spacingAndGlyphs" >MMP-high</text>
<text x="174.80" y="341.80" font-size="12" text-anchor="start" fill="#000" font-weight="bold" class="L" >F</text>
<text x="205.40" y="376.60" font-size="8.7" text-anchor="end" fill="#161616" font-weight="normal" >MMP</text>
<text x="205.40" y="387.40" font-size="8.7" text-anchor="end" fill="#161616" font-weight="normal" >-low</text>
<text x="205.40" y="422.40" font-size="8.7" text-anchor="end" fill="#161616" font-weight="normal" >MMP</text>
<text x="205.40" y="433.10" font-size="8.7" text-anchor="end" fill="#161616" font-weight="normal" >-high</text>
<rect x="208.9" y="358.1" width="41.7" height="41.7" fill="#050308"/>
<g filter="url(#b04)">
<circle cx="241.7" cy="382.9" r="0.58" fill="#5a3a9a" opacity="0.58"/>
<circle cx="241.6" cy="386.2" r="0.31" fill="#5a3a9a" opacity="0.44"/>
<circle cx="236.8" cy="389.2" r="0.62" fill="#5a3a9a" opacity="0.33"/>
<circle cx="239.2" cy="379.1" r="0.49" fill="#5a3a9a" opacity="0.47"/>
<circle cx="234.6" cy="371.8" r="0.40" fill="#5a3a9a" opacity="0.57"/>
<circle cx="237.3" cy="384.4" r="0.58" fill="#5a3a9a" opacity="0.34"/>
<circle cx="238.2" cy="381.8" r="0.30" fill="#5a3a9a" opacity="0.56"/>
<circle cx="237.3" cy="374.4" r="0.64" fill="#5a3a9a" opacity="0.56"/>
<circle cx="242.1" cy="373.8" r="0.49" fill="#5a3a9a" opacity="0.50"/>
<circle cx="240.8" cy="371.8" r="0.54" fill="#5a3a9a" opacity="0.59"/>
<circle cx="236.3" cy="386.9" r="0.43" fill="#5a3a9a" opacity="0.35"/>
<circle cx="235.9" cy="374.0" r="0.41" fill="#5a3a9a" opacity="0.48"/>
<circle cx="235.8" cy="369.3" r="0.42" fill="#5a3a9a" opacity="0.39"/>
<circle cx="238.3" cy="386.4" r="0.41" fill="#5a3a9a" opacity="0.44"/>
</g>
<path d="M236.27 377.86C236.36 378.41 236.45 378.56 236.57 379.70C236.69 380.84 236.77 380.47 236.67 381.65C236.57 382.83 236.73 382.56 236.24 383.64C235.75 384.72 235.91 384.49 235.03 385.25C234.14 386.02 234.36 385.79 233.29 386.18C232.22 386.57 232.54 386.43 231.46 386.56C230.39 386.70 230.74 386.70 229.70 386.64C228.66 386.58 228.98 386.66 227.99 386.36C227.00 386.07 227.31 386.17 226.41 385.65C225.51 385.12 225.82 385.30 225.00 384.60C224.18 383.91 224.40 384.20 223.67 383.33C222.94 382.46 223.03 382.78 222.57 381.69C222.11 380.60 222.13 380.89 222.13 379.70C222.14 378.51 222.14 378.81 222.59 377.71C223.04 376.62 222.96 376.97 223.63 376.05C224.31 375.13 224.07 375.43 224.85 374.64C225.63 373.86 225.32 374.03 226.23 373.43C227.14 372.83 226.85 372.93 227.89 372.65C228.93 372.37 228.63 372.44 229.70 372.50C230.77 372.55 230.43 372.54 231.46 372.84C232.49 373.14 232.18 372.99 233.13 373.51C234.08 374.02 233.85 373.79 234.62 374.57C235.39 375.34 235.20 375.10 235.69 376.09C236.19 377.08 236.01 376.78 236.27 377.86C236.53 378.95 236.45 378.56 236.57 379.70C236.69 380.84 236.77 380.47 236.67 381.65C236.57 382.83 236.37 383.04 236.24 383.64" fill="url(#nuc)" filter="url(#b04)"/>
<rect x="251.7" y="358.1" width="41.7" height="41.7" fill="#050308"/>
<g filter="url(#b04)">
<circle cx="276.8" cy="388.2" r="0.56" fill="#e02a40" opacity="0.50"/>
<circle cx="281.7" cy="381.4" r="0.56" fill="#e02a40" opacity="0.70"/>
<circle cx="280.3" cy="385.2" r="0.47" fill="#e02a40" opacity="0.72"/>
<circle cx="277.0" cy="387.2" r="0.59" fill="#e02a40" opacity="0.67"/>
<circle cx="280.9" cy="383.3" r="0.70" fill="#e02a40" opacity="0.51"/>
<circle cx="276.6" cy="388.0" r="0.71" fill="#e02a40" opacity="0.53"/>
<circle cx="281.7" cy="382.5" r="0.70" fill="#e02a40" opacity="0.58"/>
<circle cx="280.6" cy="382.2" r="0.63" fill="#e02a40" opacity="0.52"/>
<circle cx="275.0" cy="388.3" r="0.44" fill="#e02a40" opacity="0.66"/>
<circle cx="280.7" cy="385.3" r="0.74" fill="#e02a40" opacity="0.61"/>
</g>
<path d="M280.38 377.97C280.54 378.55 280.76 378.70 280.93 379.90C281.09 381.10 281.15 380.76 280.93 381.97C280.71 383.19 280.82 382.86 280.19 383.95C279.56 385.03 279.76 384.72 278.83 385.58C277.90 386.44 278.21 386.21 277.09 386.80C275.97 387.40 276.33 387.28 275.10 387.55C273.88 387.82 274.24 387.78 273.00 387.69C271.76 387.60 272.14 387.63 270.98 387.25C269.82 386.86 270.20 387.00 269.14 386.42C268.08 385.84 268.38 386.09 267.45 385.31C266.52 384.53 266.72 384.83 266.04 383.82C265.36 382.81 265.49 383.12 265.19 381.94C264.89 380.76 264.98 381.11 265.03 379.90C265.09 378.69 265.07 379.08 265.39 377.91C265.71 376.75 265.54 377.10 266.10 376.02C266.66 374.93 266.41 375.21 267.25 374.30C268.09 373.39 267.81 373.60 268.90 372.98C269.99 372.36 269.66 372.52 270.89 372.22C272.12 371.92 271.74 371.98 273.00 371.99C274.26 372.00 273.90 371.92 275.10 372.27C276.30 372.61 275.98 372.45 277.01 373.13C278.03 373.81 277.74 373.61 278.50 374.53C279.27 375.45 279.01 375.17 279.57 376.20C280.13 377.23 279.97 376.86 280.38 377.97C280.79 379.08 280.76 378.70 280.93 379.90C281.09 381.10 281.15 380.76 280.93 381.97C280.71 383.19 280.41 383.35 280.19 383.95" fill="url(#nuc)" filter="url(#b04)"/>
<rect x="294.6" y="358.1" width="41.7" height="41.7" fill="#050308"/>
<ellipse cx="315.6" cy="379.4" rx="10.5" ry="10.5" fill="#3a1040" opacity="0.7" filter="url(#b12)"/>
<g filter="url(#b04)">
<circle cx="311.3" cy="371.3" r="0.79" fill="#d8202e" opacity="0.48"/>
<circle cx="316.1" cy="369.8" r="0.48" fill="#d8202e" opacity="0.68"/>
<circle cx="306.5" cy="376.0" r="0.49" fill="#d8202e" opacity="0.49"/>
<circle cx="313.1" cy="369.1" r="0.51" fill="#d8202e" opacity="0.55"/>
<circle cx="318.6" cy="368.9" r="0.75" fill="#d8202e" opacity="0.63"/>
<circle cx="323.8" cy="375.9" r="0.90" fill="#d8202e" opacity="0.58"/>
<circle cx="308.3" cy="374.1" r="0.61" fill="#d8202e" opacity="0.82"/>
<circle cx="308.0" cy="372.8" r="0.79" fill="#d8202e" opacity="0.62"/>
<circle cx="316.3" cy="370.5" r="0.48" fill="#d8202e" opacity="0.54"/>
<circle cx="319.5" cy="370.5" r="0.61" fill="#d8202e" opacity="0.71"/>
<circle cx="314.1" cy="370.1" r="0.87" fill="#d8202e" opacity="0.76"/>
<circle cx="309.2" cy="371.6" r="0.73" fill="#d8202e" opacity="0.84"/>
<circle cx="320.4" cy="371.3" r="0.96" fill="#d8202e" opacity="0.50"/>
<circle cx="313.0" cy="369.3" r="0.53" fill="#d8202e" opacity="0.67"/>
<circle cx="306.0" cy="375.8" r="0.85" fill="#d8202e" opacity="0.71"/>
<circle cx="323.1" cy="373.5" r="0.82" fill="#d8202e" opacity="0.72"/>
<circle cx="317.1" cy="369.7" r="0.89" fill="#d8202e" opacity="0.88"/>
<circle cx="314.5" cy="369.2" r="0.48" fill="#d8202e" opacity="0.77"/>
<circle cx="319.1" cy="369.0" r="0.88" fill="#d8202e" opacity="0.58"/>
<circle cx="312.2" cy="369.7" r="0.46" fill="#d8202e" opacity="0.66"/>
<circle cx="308.6" cy="373.7" r="0.48" fill="#d8202e" opacity="0.80"/>
<circle cx="307.8" cy="374.2" r="0.66" fill="#d8202e" opacity="0.84"/>
<circle cx="306.9" cy="375.0" r="0.74" fill="#d8202e" opacity="0.85"/>
<circle cx="323.0" cy="371.7" r="0.60" fill="#d8202e" opacity="0.64"/>
<circle cx="311.4" cy="369.5" r="0.95" fill="#d8202e" opacity="0.52"/>
<circle cx="308.5" cy="373.3" r="0.57" fill="#d8202e" opacity="0.67"/>
<circle cx="317.3" cy="370.2" r="0.45" fill="#d8202e" opacity="0.64"/>
<circle cx="311.9" cy="370.1" r="0.95" fill="#d8202e" opacity="0.76"/>
<circle cx="315.6" cy="369.2" r="0.81" fill="#d8202e" opacity="0.47"/>
<circle cx="324.3" cy="373.4" r="0.91" fill="#d8202e" opacity="0.81"/>
<circle cx="312.6" cy="370.2" r="0.50" fill="#d8202e" opacity="0.74"/>
<circle cx="307.4" cy="375.8" r="0.56" fill="#d8202e" opacity="0.52"/>
<circle cx="311.7" cy="371.4" r="0.45" fill="#d8202e" opacity="0.52"/>
<circle cx="307.3" cy="374.6" r="0.46" fill="#d8202e" opacity="0.84"/>
<circle cx="317.8" cy="370.5" r="0.58" fill="#d8202e" opacity="0.61"/>
<circle cx="312.2" cy="371.0" r="0.90" fill="#d8202e" opacity="0.90"/>
<circle cx="314.3" cy="369.6" r="0.50" fill="#d8202e" opacity="0.50"/>
<circle cx="311.6" cy="370.9" r="0.89" fill="#d8202e" opacity="0.52"/>
<circle cx="305.3" cy="376.0" r="0.73" fill="#d8202e" opacity="0.52"/>
<circle cx="316.2" cy="370.6" r="0.73" fill="#d8202e" opacity="0.89"/>
</g>
<path d="M324.35 377.65C324.42 378.36 324.66 378.61 324.58 380.00C324.50 381.39 324.53 380.97 324.09 382.28C323.65 383.58 323.81 383.17 323.12 384.34C322.43 385.52 322.71 385.19 321.78 386.18C320.85 387.18 321.19 386.96 320.02 387.66C318.85 388.36 319.21 388.21 317.88 388.53C316.56 388.84 316.96 388.77 315.60 388.71C314.24 388.66 314.66 388.71 313.36 388.36C312.06 388.00 312.44 388.18 311.25 387.53C310.07 386.88 310.38 387.13 309.41 386.19C308.44 385.24 308.70 385.56 308.01 384.38C307.32 383.21 307.50 383.59 307.10 382.28C306.70 380.96 306.75 381.39 306.66 380.00C306.58 378.61 306.50 379.01 306.81 377.65C307.13 376.28 306.97 376.63 307.72 375.45C308.48 374.28 308.25 374.60 309.32 373.72C310.39 372.85 310.07 373.12 311.29 372.54C312.51 371.95 312.10 372.11 313.40 371.78C314.69 371.45 314.27 371.47 315.60 371.43C316.93 371.39 316.53 371.33 317.84 371.63C319.15 371.94 318.77 371.80 319.96 372.44C321.16 373.08 320.82 372.84 321.84 373.76C322.86 374.68 322.62 374.35 323.37 375.51C324.12 376.68 323.99 376.31 324.35 377.65C324.72 379.00 324.66 378.61 324.58 380.00C324.50 381.39 324.53 380.97 324.09 382.28C323.65 383.58 323.41 383.72 323.12 384.34" fill="url(#nuc)" filter="url(#b04)"/>
<rect x="208.9" y="403.9" width="41.7" height="41.7" fill="#050308"/>
<path d="M237.11 423.90C237.27 424.53 237.62 424.73 237.66 426.00C237.69 427.27 237.66 426.95 237.23 428.14C236.80 429.33 236.92 428.98 236.24 429.96C235.55 430.94 235.81 430.71 234.96 431.41C234.11 432.11 234.37 431.97 233.40 432.29C232.43 432.62 232.69 432.46 231.73 432.49C230.77 432.52 231.12 432.38 230.20 432.39C229.28 432.39 229.66 432.46 228.67 432.50C227.67 432.55 227.94 432.77 226.87 432.55C225.81 432.33 225.98 432.52 225.12 431.77C224.26 431.03 224.46 431.19 224.01 430.06C223.56 428.93 223.76 429.23 223.61 428.01C223.46 426.79 223.50 427.20 223.51 426.00C223.52 424.80 223.40 425.16 223.65 424.00C223.89 422.85 223.76 423.13 224.33 422.15C224.91 421.17 224.76 421.47 225.56 420.73C226.36 420.00 226.11 420.26 227.00 419.70C227.88 419.13 227.55 419.22 228.51 418.85C229.47 418.48 229.20 418.43 230.20 418.46C231.20 418.50 230.96 418.47 231.86 418.96C232.76 419.45 232.44 419.42 233.20 420.10C233.96 420.78 233.62 420.56 234.39 421.23C235.17 421.91 234.97 421.53 235.79 422.33C236.60 423.13 236.55 422.80 237.11 423.90C237.67 425.00 237.62 424.73 237.66 426.00C237.69 427.27 237.66 426.95 237.23 428.14C236.80 429.33 236.53 429.41 236.24 429.96" fill="url(#nuc)" filter="url(#b04)"/>
<rect x="251.7" y="403.9" width="41.7" height="41.7" fill="#050308"/>
<ellipse cx="270.5" cy="426.8" rx="10.5" ry="10.5" fill="#2a0a2a" opacity="0.8" filter="url(#b12)"/>
<g filter="url(#b04)">
<circle cx="279.4" cy="419.7" r="0.41" fill="#d82030" opacity="0.72"/>
<circle cx="273.9" cy="418.7" r="0.78" fill="#d82030" opacity="0.51"/>
<circle cx="277.2" cy="433.4" r="0.55" fill="#d82030" opacity="0.64"/>
<circle cx="278.1" cy="419.0" r="0.40" fill="#d82030" opacity="0.52"/>
<circle cx="272.1" cy="418.0" r="0.53" fill="#d82030" opacity="0.81"/>
<circle cx="278.3" cy="425.6" r="0.47" fill="#d82030" opacity="0.85"/>
<circle cx="273.8" cy="417.1" r="0.52" fill="#d82030" opacity="0.71"/>
<circle cx="280.3" cy="423.9" r="0.57" fill="#d82030" opacity="0.70"/>
<circle cx="269.7" cy="437.1" r="0.42" fill="#d82030" opacity="0.45"/>
<circle cx="268.2" cy="436.6" r="0.44" fill="#d82030" opacity="0.83"/>
<circle cx="279.4" cy="432.3" r="0.73" fill="#d82030" opacity="0.55"/>
<circle cx="281.2" cy="424.4" r="0.42" fill="#d82030" opacity="0.75"/>
<circle cx="275.0" cy="417.3" r="0.65" fill="#d82030" opacity="0.83"/>
<circle cx="271.6" cy="436.7" r="0.44" fill="#d82030" opacity="0.49"/>
<circle cx="279.3" cy="430.3" r="0.39" fill="#d82030" opacity="0.81"/>
<circle cx="280.3" cy="429.9" r="0.45" fill="#d82030" opacity="0.53"/>
<circle cx="271.9" cy="417.6" r="0.47" fill="#d82030" opacity="0.60"/>
<circle cx="281.1" cy="425.1" r="0.73" fill="#d82030" opacity="0.50"/>
<circle cx="278.5" cy="426.1" r="0.64" fill="#d82030" opacity="0.84"/>
<circle cx="278.2" cy="419.4" r="0.49" fill="#d82030" opacity="0.43"/>
<circle cx="273.8" cy="435.3" r="0.43" fill="#d82030" opacity="0.61"/>
<circle cx="277.7" cy="421.1" r="0.55" fill="#d82030" opacity="0.60"/>
<circle cx="277.7" cy="431.6" r="0.40" fill="#d82030" opacity="0.46"/>
<circle cx="275.0" cy="418.1" r="0.51" fill="#d82030" opacity="0.77"/>
<circle cx="280.3" cy="429.8" r="0.77" fill="#d82030" opacity="0.45"/>
<circle cx="271.9" cy="418.5" r="0.52" fill="#d82030" opacity="0.67"/>
<circle cx="274.4" cy="435.1" r="0.77" fill="#d82030" opacity="0.43"/>
<circle cx="271.6" cy="435.5" r="0.73" fill="#d82030" opacity="0.44"/>
<circle cx="267.3" cy="437.5" r="0.78" fill="#d82030" opacity="0.67"/>
<circle cx="278.1" cy="418.2" r="0.55" fill="#d82030" opacity="0.46"/>
<circle cx="278.1" cy="432.5" r="0.56" fill="#d82030" opacity="0.49"/>
<circle cx="275.6" cy="418.2" r="0.55" fill="#d82030" opacity="0.48"/>
<circle cx="280.8" cy="427.5" r="0.66" fill="#d82030" opacity="0.63"/>
<circle cx="279.3" cy="425.9" r="0.45" fill="#d82030" opacity="0.51"/>
<circle cx="278.3" cy="427.5" r="0.66" fill="#d82030" opacity="0.73"/>
<circle cx="276.4" cy="431.6" r="0.51" fill="#d82030" opacity="0.61"/>
<circle cx="275.4" cy="416.3" r="0.68" fill="#d82030" opacity="0.64"/>
<circle cx="275.1" cy="433.9" r="0.46" fill="#d82030" opacity="0.65"/>
<circle cx="275.0" cy="436.1" r="0.36" fill="#d82030" opacity="0.69"/>
<circle cx="269.4" cy="437.8" r="0.75" fill="#d82030" opacity="0.84"/>
<circle cx="277.2" cy="421.2" r="0.59" fill="#d82030" opacity="0.84"/>
<circle cx="281.5" cy="424.8" r="0.72" fill="#d82030" opacity="0.64"/>
<circle cx="279.1" cy="434.2" r="0.69" fill="#d82030" opacity="0.55"/>
<circle cx="271.3" cy="435.5" r="0.52" fill="#d82030" opacity="0.83"/>
<circle cx="271.4" cy="435.9" r="0.48" fill="#d82030" opacity="0.69"/>
</g>
<path d="M275.89 424.97C275.89 425.52 275.94 425.71 275.91 426.80C275.89 427.89 275.96 427.52 275.79 428.60C275.62 429.68 275.76 429.38 275.35 430.39C274.95 431.40 275.11 431.14 274.44 431.97C273.77 432.80 273.98 432.57 273.12 433.16C272.26 433.75 272.54 433.60 271.58 433.94C270.61 434.28 270.91 434.26 269.90 434.29C268.89 434.32 269.17 434.38 268.20 434.04C267.23 433.71 267.51 433.81 266.68 433.17C265.84 432.53 266.11 432.73 265.42 431.91C264.73 431.09 264.92 431.39 264.38 430.44C263.83 429.48 263.91 429.81 263.61 428.72C263.31 427.63 263.33 427.94 263.38 426.80C263.43 425.66 263.42 425.98 263.78 424.93C264.15 423.88 264.05 424.22 264.59 423.30C265.13 422.39 264.93 422.68 265.58 421.87C266.23 421.07 265.97 421.26 266.77 420.62C267.57 419.98 267.30 420.11 268.24 419.74C269.18 419.37 268.89 419.45 269.90 419.39C270.91 419.33 270.60 419.30 271.61 419.53C272.62 419.76 272.34 419.61 273.26 420.16C274.18 420.71 273.98 420.49 274.67 421.36C275.35 422.24 275.19 421.99 275.55 423.08C275.92 424.16 275.78 423.85 275.89 424.97C275.99 426.09 275.94 425.71 275.91 426.80C275.89 427.89 275.96 427.52 275.79 428.60C275.62 429.68 275.49 429.85 275.35 430.39" fill="url(#nuc)" filter="url(#b04)"/>
<rect x="294.6" y="403.9" width="41.7" height="41.7" fill="#050308"/>
<ellipse cx="315" cy="426" rx="12" ry="12" fill="#4a1458" opacity="0.9" filter="url(#b12)"/>
<g filter="url(#b04)">
<circle cx="314.4" cy="415.6" r="0.56" fill="#d8202e" opacity="0.89"/>
<circle cx="308.1" cy="417.7" r="0.98" fill="#d8202e" opacity="0.51"/>
<circle cx="315.7" cy="415.0" r="0.50" fill="#d8202e" opacity="0.66"/>
<circle cx="317.9" cy="415.8" r="0.89" fill="#d8202e" opacity="0.55"/>
<circle cx="311.4" cy="416.9" r="0.76" fill="#d8202e" opacity="0.91"/>
<circle cx="316.3" cy="414.7" r="0.69" fill="#d8202e" opacity="0.83"/>
<circle cx="309.5" cy="417.3" r="0.86" fill="#d8202e" opacity="0.82"/>
<circle cx="313.8" cy="416.3" r="0.63" fill="#d8202e" opacity="0.57"/>
<circle cx="311.4" cy="415.0" r="0.59" fill="#d8202e" opacity="0.90"/>
<circle cx="319.8" cy="417.7" r="0.69" fill="#d8202e" opacity="0.71"/>
<circle cx="308.4" cy="417.7" r="0.99" fill="#d8202e" opacity="0.53"/>
<circle cx="316.2" cy="416.3" r="0.80" fill="#d8202e" opacity="0.90"/>
<circle cx="311.1" cy="417.3" r="0.53" fill="#d8202e" opacity="0.73"/>
<circle cx="308.8" cy="418.4" r="0.76" fill="#d8202e" opacity="0.91"/>
<circle cx="313.7" cy="415.6" r="0.84" fill="#d8202e" opacity="0.52"/>
<circle cx="316.0" cy="416.1" r="0.82" fill="#d8202e" opacity="0.93"/>
<circle cx="308.6" cy="417.2" r="0.82" fill="#d8202e" opacity="0.55"/>
<circle cx="311.1" cy="414.6" r="1.04" fill="#d8202e" opacity="0.53"/>
<circle cx="318.3" cy="414.6" r="0.61" fill="#d8202e" opacity="0.77"/>
<circle cx="308.7" cy="417.6" r="0.86" fill="#d8202e" opacity="0.76"/>
<circle cx="318.5" cy="417.0" r="0.67" fill="#d8202e" opacity="0.89"/>
<circle cx="316.1" cy="415.4" r="0.71" fill="#d8202e" opacity="0.94"/>
<circle cx="315.9" cy="416.5" r="0.93" fill="#d8202e" opacity="0.63"/>
<circle cx="314.0" cy="416.0" r="0.73" fill="#d8202e" opacity="0.63"/>
<circle cx="308.9" cy="416.7" r="0.54" fill="#d8202e" opacity="0.85"/>
<circle cx="324.8" cy="428.8" r="0.70" fill="#d8202e" opacity="0.54"/>
<circle cx="324.3" cy="432.6" r="0.74" fill="#d8202e" opacity="0.52"/>
<circle cx="324.7" cy="428.0" r="0.54" fill="#d8202e" opacity="0.88"/>
<circle cx="320.8" cy="433.0" r="0.84" fill="#d8202e" opacity="0.72"/>
<circle cx="324.8" cy="426.1" r="0.75" fill="#d8202e" opacity="0.66"/>
<circle cx="324.9" cy="430.6" r="0.49" fill="#d8202e" opacity="0.80"/>
<circle cx="322.8" cy="434.9" r="0.72" fill="#d8202e" opacity="0.47"/>
<circle cx="323.1" cy="421.3" r="0.88" fill="#d8202e" opacity="0.59"/>
<circle cx="326.6" cy="425.9" r="0.57" fill="#d8202e" opacity="0.70"/>
<circle cx="324.1" cy="426.8" r="0.71" fill="#d8202e" opacity="0.83"/>
<circle cx="324.1" cy="423.1" r="0.62" fill="#d8202e" opacity="0.47"/>
<circle cx="326.2" cy="427.9" r="0.74" fill="#d8202e" opacity="0.69"/>
<circle cx="322.3" cy="431.9" r="0.70" fill="#d8202e" opacity="0.62"/>
<circle cx="323.8" cy="428.9" r="0.80" fill="#d8202e" opacity="0.49"/>
<circle cx="325.8" cy="422.7" r="0.88" fill="#d8202e" opacity="0.64"/>
<circle cx="324.6" cy="426.5" r="0.55" fill="#d8202e" opacity="0.73"/>
<circle cx="323.9" cy="423.5" r="0.64" fill="#d8202e" opacity="0.52"/>
<circle cx="325.5" cy="430.3" r="0.80" fill="#d8202e" opacity="0.67"/>
<circle cx="325.2" cy="425.6" r="0.42" fill="#d8202e" opacity="0.77"/>
<circle cx="324.8" cy="425.4" r="0.46" fill="#d8202e" opacity="0.65"/>
<circle cx="324.6" cy="428.9" r="0.85" fill="#d8202e" opacity="0.75"/>
<circle cx="325.3" cy="424.0" r="0.87" fill="#d8202e" opacity="0.68"/>
<circle cx="323.6" cy="428.9" r="0.66" fill="#d8202e" opacity="0.66"/>
<circle cx="325.2" cy="426.4" r="0.71" fill="#d8202e" opacity="0.69"/>
<circle cx="324.3" cy="427.5" r="0.64" fill="#d8202e" opacity="0.89"/>
<circle cx="324.0" cy="426.5" r="0.42" fill="#d8202e" opacity="0.69"/>
<circle cx="323.2" cy="421.9" r="0.47" fill="#d8202e" opacity="0.65"/>
<circle cx="321.7" cy="433.9" r="0.64" fill="#d8202e" opacity="0.65"/>
<circle cx="307.1" cy="433.3" r="0.75" fill="#c01a50" opacity="0.44"/>
<circle cx="305.9" cy="432.0" r="0.44" fill="#c01a50" opacity="0.45"/>
<circle cx="303.8" cy="428.5" r="0.40" fill="#c01a50" opacity="0.39"/>
<circle cx="317.8" cy="437.1" r="0.65" fill="#c01a50" opacity="0.31"/>
<circle cx="306.8" cy="417.3" r="0.63" fill="#c01a50" opacity="0.48"/>
<circle cx="315.4" cy="435.0" r="0.58" fill="#c01a50" opacity="0.32"/>
<circle cx="314.5" cy="435.7" r="0.37" fill="#c01a50" opacity="0.44"/>
<circle cx="306.8" cy="434.2" r="0.58" fill="#c01a50" opacity="0.49"/>
<circle cx="305.9" cy="432.3" r="0.55" fill="#c01a50" opacity="0.38"/>
<circle cx="307.1" cy="416.9" r="0.71" fill="#c01a50" opacity="0.51"/>
<circle cx="311.0" cy="434.9" r="0.48" fill="#c01a50" opacity="0.32"/>
<circle cx="304.9" cy="424.2" r="0.72" fill="#c01a50" opacity="0.42"/>
<circle cx="306.4" cy="418.1" r="0.36" fill="#c01a50" opacity="0.36"/>
<circle cx="306.3" cy="420.1" r="0.77" fill="#c01a50" opacity="0.42"/>
<circle cx="318.2" cy="436.4" r="0.69" fill="#c01a50" opacity="0.38"/>
<circle cx="317.5" cy="435.6" r="0.76" fill="#c01a50" opacity="0.53"/>
<circle cx="316.6" cy="435.6" r="0.40" fill="#c01a50" opacity="0.32"/>
<circle cx="305.7" cy="423.5" r="0.59" fill="#c01a50" opacity="0.43"/>
<circle cx="314.4" cy="437.2" r="0.42" fill="#c01a50" opacity="0.49"/>
<circle cx="316.7" cy="436.1" r="0.45" fill="#c01a50" opacity="0.38"/>
<circle cx="306.8" cy="417.9" r="0.49" fill="#c01a50" opacity="0.57"/>
<circle cx="313.9" cy="436.1" r="0.72" fill="#c01a50" opacity="0.49"/>
<circle cx="317.6" cy="437.7" r="0.45" fill="#c01a50" opacity="0.38"/>
<circle cx="305.1" cy="424.0" r="0.48" fill="#c01a50" opacity="0.32"/>
<circle cx="317.6" cy="436.4" r="0.46" fill="#c01a50" opacity="0.48"/>
</g>
<path d="M321.72 423.84C321.77 424.49 321.91 424.71 321.90 426.00C321.89 427.29 321.91 426.86 321.69 428.15C321.46 429.43 321.61 429.04 321.15 430.28C320.69 431.52 320.92 431.23 320.15 432.28C319.38 433.33 319.63 433.11 318.57 433.79C317.52 434.47 317.81 434.29 316.62 434.54C315.43 434.79 315.79 434.71 314.60 434.62C313.41 434.54 313.78 434.61 312.65 434.26C311.51 433.90 311.83 434.09 310.81 433.43C309.79 432.77 310.06 433.02 309.25 432.06C308.44 431.10 308.67 431.40 308.11 430.24C307.55 429.08 307.70 429.46 307.38 428.19C307.06 426.92 307.09 427.33 307.05 426.00C307.01 424.67 306.95 425.05 307.25 423.77C307.56 422.49 307.44 422.85 308.07 421.73C308.69 420.61 308.50 420.97 309.33 420.04C310.17 419.11 309.87 419.39 310.84 418.64C311.82 417.89 311.47 418.02 312.60 417.54C313.72 417.05 313.39 417.08 314.60 417.02C315.81 416.97 315.49 416.93 316.65 417.36C317.80 417.79 317.47 417.66 318.45 418.45C319.44 419.23 319.15 418.97 319.93 419.97C320.70 420.98 320.51 420.63 321.04 421.79C321.58 422.95 321.46 422.58 321.72 423.84C321.97 425.10 321.91 424.71 321.90 426.00C321.89 427.29 321.91 426.86 321.69 428.15C321.46 429.43 321.31 429.64 321.15 430.28" fill="url(#nuc)" filter="url(#b04)"/>
<rect x="337.6" y="403.9" width="41.7" height="41.7" fill="#050308"/>
<ellipse cx="359.5" cy="426" rx="10" ry="10.5" fill="#3a0a30" opacity="0.6" filter="url(#b12)"/>
<g filter="url(#b04)">
<path d="M352.5 419.5 Q349.5 428 353 432.5 Q357 436.5 364 435.5 Q360 434 356 430.5 Q352.5 426 352.5 419.5Z" fill="#e02428" opacity="0.85"/>
<circle cx="351.2" cy="427.2" r="0.85" fill="#e0242a" opacity="0.54"/>
<circle cx="359.2" cy="434.0" r="0.63" fill="#e0242a" opacity="0.86"/>
<circle cx="351.8" cy="422.0" r="0.79" fill="#e0242a" opacity="0.79"/>
<circle cx="356.1" cy="433.2" r="0.57" fill="#e0242a" opacity="0.91"/>
<circle cx="357.9" cy="434.6" r="0.52" fill="#e0242a" opacity="0.80"/>
<circle cx="352.9" cy="430.1" r="0.95" fill="#e0242a" opacity="0.48"/>
<circle cx="357.8" cy="434.7" r="0.76" fill="#e0242a" opacity="0.52"/>
<circle cx="356.6" cy="416.4" r="0.54" fill="#e0242a" opacity="0.68"/>
<circle cx="356.5" cy="433.1" r="0.83" fill="#e0242a" opacity="0.55"/>
<circle cx="352.8" cy="422.2" r="0.58" fill="#e0242a" opacity="0.86"/>
<circle cx="352.1" cy="428.8" r="0.81" fill="#e0242a" opacity="0.70"/>
<circle cx="352.9" cy="428.9" r="0.89" fill="#e0242a" opacity="0.93"/>
<circle cx="356.5" cy="417.0" r="0.68" fill="#e0242a" opacity="0.65"/>
<circle cx="351.7" cy="422.0" r="0.54" fill="#e0242a" opacity="0.59"/>
<circle cx="352.4" cy="429.7" r="0.93" fill="#e0242a" opacity="0.71"/>
<circle cx="358.7" cy="434.8" r="0.72" fill="#e0242a" opacity="0.72"/>
<circle cx="354.6" cy="432.2" r="0.70" fill="#e0242a" opacity="0.84"/>
<circle cx="357.0" cy="433.8" r="0.58" fill="#e0242a" opacity="0.81"/>
<circle cx="358.6" cy="433.7" r="0.67" fill="#e0242a" opacity="0.78"/>
<circle cx="358.2" cy="434.0" r="0.60" fill="#e0242a" opacity="0.61"/>
<circle cx="350.7" cy="427.3" r="0.75" fill="#e0242a" opacity="0.93"/>
<circle cx="355.2" cy="433.7" r="0.68" fill="#e0242a" opacity="0.56"/>
<circle cx="351.9" cy="420.4" r="0.48" fill="#e0242a" opacity="0.60"/>
<circle cx="353.1" cy="420.5" r="0.62" fill="#e0242a" opacity="0.48"/>
<circle cx="358.4" cy="434.3" r="1.03" fill="#e0242a" opacity="0.95"/>
<circle cx="352.2" cy="426.4" r="0.66" fill="#e0242a" opacity="0.85"/>
<circle cx="353.6" cy="419.0" r="0.61" fill="#e0242a" opacity="0.73"/>
<circle cx="351.2" cy="427.1" r="0.63" fill="#e0242a" opacity="0.92"/>
<circle cx="355.3" cy="418.7" r="0.64" fill="#e0242a" opacity="0.89"/>
<circle cx="353.0" cy="431.9" r="0.77" fill="#e0242a" opacity="0.81"/>
<circle cx="364.1" cy="417.2" r="0.65" fill="#d82a30" opacity="0.83"/>
<circle cx="363.3" cy="417.4" r="0.42" fill="#d82a30" opacity="0.55"/>
<circle cx="367.0" cy="420.4" r="0.58" fill="#d82a30" opacity="0.55"/>
<circle cx="364.3" cy="417.6" r="0.71" fill="#d82a30" opacity="0.72"/>
<circle cx="361.8" cy="416.9" r="0.42" fill="#d82a30" opacity="0.84"/>
<circle cx="368.1" cy="420.6" r="0.71" fill="#d82a30" opacity="0.79"/>
<circle cx="368.7" cy="421.8" r="0.47" fill="#d82a30" opacity="0.83"/>
<circle cx="366.0" cy="418.3" r="0.60" fill="#d82a30" opacity="0.64"/>
</g>
<path d="M368.17 422.98C368.24 423.65 368.43 423.88 368.41 425.20C368.40 426.52 368.45 426.13 368.11 427.40C367.78 428.67 367.95 428.33 367.30 429.42C366.65 430.52 366.87 430.24 365.96 431.06C365.05 431.87 365.32 431.62 364.27 432.14C363.22 432.65 363.56 432.47 362.46 432.78C361.36 433.09 361.75 433.04 360.60 433.17C359.45 433.29 359.81 433.38 358.64 433.20C357.47 433.02 357.77 433.16 356.70 432.57C355.63 431.98 355.92 432.18 355.07 431.24C354.23 430.29 354.47 430.59 353.89 429.43C353.31 428.28 353.44 428.65 353.14 427.38C352.84 426.11 352.86 426.50 352.89 425.20C352.92 423.90 352.87 424.27 353.24 423.05C353.61 421.82 353.49 422.19 354.12 421.11C354.75 420.03 354.52 420.36 355.33 419.44C356.14 418.53 355.83 418.74 356.82 418.05C357.81 417.35 357.48 417.46 358.62 417.13C359.75 416.79 359.43 416.85 360.60 416.92C361.77 417.00 361.41 416.99 362.52 417.38C363.63 417.76 363.27 417.62 364.29 418.22C365.32 418.82 365.03 418.55 365.94 419.37C366.84 420.20 366.64 419.88 367.32 420.97C367.99 422.05 367.84 421.71 368.17 422.98C368.50 424.25 368.43 423.88 368.41 425.20C368.40 426.52 368.45 426.13 368.11 427.40C367.78 428.67 367.54 428.82 367.30 429.42" fill="url(#nuc)" filter="url(#b04)"/>
<rect x="380.9" y="403.9" width="41.7" height="41.7" fill="#050308"/>
<path d="M409.38 424.49C409.69 425.24 410.10 425.41 410.39 427.00C410.69 428.59 410.76 428.21 410.37 429.78C409.98 431.36 410.07 430.96 409.10 432.24C408.12 433.53 408.37 433.13 407.12 434.06C405.87 435.00 406.29 434.75 404.92 435.35C403.56 435.95 404.00 435.86 402.58 436.07C401.16 436.27 401.58 436.20 400.20 436.03C398.82 435.86 399.31 435.84 397.97 435.50C396.63 435.15 397.14 435.33 395.74 434.89C394.34 434.45 394.68 434.80 393.31 434.04C391.93 433.27 392.12 433.62 391.14 432.34C390.17 431.06 390.35 431.38 390.05 429.78C389.76 428.17 389.92 428.60 390.17 427.00C390.42 425.40 390.37 425.92 390.89 424.45C391.42 422.99 391.15 423.42 391.91 422.11C392.67 420.81 392.35 421.11 393.44 420.10C394.52 419.08 394.20 419.36 395.51 418.71C396.83 418.07 396.42 418.31 397.82 417.94C399.23 417.57 398.74 417.61 400.20 417.48C401.66 417.35 401.24 417.21 402.69 417.52C404.13 417.82 403.79 417.65 405.02 418.49C406.24 419.32 405.85 419.13 406.77 420.29C407.70 421.45 407.32 421.09 408.10 422.34C408.88 423.60 408.70 423.09 409.38 424.49C410.07 425.88 410.10 425.41 410.39 427.00C410.69 428.59 410.76 428.21 410.37 429.78C409.98 431.36 409.48 431.50 409.10 432.24" fill="url(#nuc)" filter="url(#b04)"/>
<g filter="url(#b04)">
<circle cx="404.1" cy="430.1" r="0.63" fill="#c03a9a" opacity="0.78"/>
<circle cx="400.0" cy="428.8" r="0.67" fill="#c03a9a" opacity="0.66"/>
<circle cx="398.6" cy="431.5" r="0.53" fill="#c03a9a" opacity="0.71"/>
<circle cx="401.3" cy="428.1" r="0.74" fill="#c03a9a" opacity="0.54"/>
<circle cx="399.8" cy="432.6" r="0.63" fill="#c03a9a" opacity="0.46"/>
<circle cx="395.8" cy="425.5" r="0.43" fill="#c03a9a" opacity="0.66"/>
<circle cx="401.9" cy="428.6" r="0.39" fill="#c03a9a" opacity="0.48"/>
<circle cx="403.0" cy="426.6" r="0.78" fill="#c03a9a" opacity="0.58"/>
<circle cx="395.4" cy="423.2" r="0.65" fill="#c03a9a" opacity="0.44"/>
<circle cx="396.4" cy="424.6" r="0.44" fill="#c03a9a" opacity="0.44"/>
<circle cx="402.7" cy="424.5" r="0.44" fill="#c03a9a" opacity="0.58"/>
<circle cx="401.3" cy="432.5" r="0.57" fill="#c03a9a" opacity="0.44"/>
<circle cx="400.5" cy="426.4" r="0.48" fill="#c03a9a" opacity="0.41"/>
<circle cx="400.2" cy="426.2" r="0.58" fill="#c03a9a" opacity="0.44"/>
<circle cx="395.4" cy="427.6" r="0.58" fill="#c03a9a" opacity="0.58"/>
<circle cx="397.2" cy="427.3" r="0.61" fill="#c03a9a" opacity="0.44"/>
<circle cx="398.6" cy="427.3" r="0.72" fill="#c03a9a" opacity="0.78"/>
<circle cx="401.1" cy="427.4" r="0.66" fill="#c03a9a" opacity="0.63"/>
<circle cx="405.1" cy="427.6" r="0.76" fill="#c03a9a" opacity="0.57"/>
<circle cx="397.9" cy="430.3" r="0.75" fill="#c03a9a" opacity="0.51"/>
<circle cx="399.8" cy="428.3" r="0.62" fill="#c03a9a" opacity="0.59"/>
<circle cx="400.1" cy="429.7" r="0.37" fill="#c03a9a" opacity="0.52"/>
</g>
<rect x="424.2" y="403.9" width="41.7" height="41.7" fill="#050308"/>
<ellipse cx="446" cy="427.5" rx="13.5" ry="15" fill="#3a1040" opacity="0.8" filter="url(#b12)"/>
<g filter="url(#b04)">
<circle cx="453.5" cy="418.6" r="0.89" fill="#d8202e" opacity="0.52"/>
<circle cx="453.8" cy="418.8" r="0.97" fill="#d8202e" opacity="0.76"/>
<circle cx="453.1" cy="415.6" r="0.61" fill="#d8202e" opacity="0.60"/>
<circle cx="449.8" cy="416.1" r="0.63" fill="#d8202e" opacity="0.55"/>
<circle cx="453.0" cy="415.9" r="0.93" fill="#d8202e" opacity="0.55"/>
<circle cx="453.6" cy="417.2" r="0.61" fill="#d8202e" opacity="0.65"/>
<circle cx="444.8" cy="416.2" r="0.80" fill="#d8202e" opacity="0.61"/>
<circle cx="447.6" cy="414.2" r="0.84" fill="#d8202e" opacity="0.63"/>
<circle cx="453.2" cy="415.7" r="0.75" fill="#d8202e" opacity="0.88"/>
<circle cx="438.5" cy="418.5" r="0.58" fill="#d8202e" opacity="0.87"/>
<circle cx="449.8" cy="415.1" r="0.64" fill="#d8202e" opacity="0.67"/>
<circle cx="452.5" cy="417.7" r="0.55" fill="#d8202e" opacity="0.47"/>
<circle cx="445.6" cy="414.3" r="0.79" fill="#d8202e" opacity="0.63"/>
<circle cx="446.2" cy="415.9" r="1.01" fill="#d8202e" opacity="0.61"/>
<circle cx="441.6" cy="416.4" r="0.94" fill="#d8202e" opacity="0.59"/>
<circle cx="453.1" cy="417.4" r="0.73" fill="#d8202e" opacity="0.48"/>
<circle cx="453.7" cy="416.5" r="0.75" fill="#d8202e" opacity="0.50"/>
<circle cx="446.1" cy="415.4" r="0.95" fill="#d8202e" opacity="0.87"/>
<circle cx="450.4" cy="416.3" r="0.50" fill="#d8202e" opacity="0.85"/>
<circle cx="453.4" cy="418.1" r="0.76" fill="#d8202e" opacity="0.67"/>
<circle cx="453.7" cy="418.7" r="0.51" fill="#d8202e" opacity="0.83"/>
<circle cx="447.5" cy="415.3" r="0.92" fill="#d8202e" opacity="0.72"/>
<circle cx="449.6" cy="416.1" r="0.53" fill="#d8202e" opacity="0.45"/>
<circle cx="443.1" cy="415.1" r="0.69" fill="#d8202e" opacity="0.61"/>
<circle cx="448.5" cy="414.8" r="0.81" fill="#d8202e" opacity="0.59"/>
<circle cx="457.7" cy="433.1" r="0.71" fill="#d8202e" opacity="0.61"/>
<circle cx="457.7" cy="434.0" r="0.62" fill="#d8202e" opacity="0.69"/>
<circle cx="458.5" cy="427.9" r="0.67" fill="#d8202e" opacity="0.49"/>
<circle cx="453.8" cy="437.4" r="0.92" fill="#d8202e" opacity="0.83"/>
<circle cx="459.3" cy="431.9" r="0.93" fill="#d8202e" opacity="0.71"/>
<circle cx="458.8" cy="428.1" r="0.83" fill="#d8202e" opacity="0.55"/>
<circle cx="458.0" cy="431.0" r="0.62" fill="#d8202e" opacity="0.76"/>
<circle cx="457.6" cy="432.9" r="0.84" fill="#d8202e" opacity="0.83"/>
<circle cx="457.1" cy="431.8" r="1.03" fill="#d8202e" opacity="0.78"/>
<circle cx="453.5" cy="438.2" r="0.61" fill="#d8202e" opacity="0.49"/>
<circle cx="458.0" cy="432.3" r="0.52" fill="#d8202e" opacity="0.72"/>
<circle cx="453.5" cy="436.7" r="0.95" fill="#d8202e" opacity="0.63"/>
<circle cx="451.7" cy="439.1" r="0.93" fill="#d8202e" opacity="0.62"/>
<circle cx="455.5" cy="436.4" r="0.49" fill="#d8202e" opacity="0.49"/>
<circle cx="458.2" cy="431.2" r="0.69" fill="#d8202e" opacity="0.65"/>
<circle cx="454.9" cy="436.7" r="0.66" fill="#d8202e" opacity="0.64"/>
<circle cx="451.5" cy="440.1" r="0.85" fill="#d8202e" opacity="0.77"/>
<circle cx="457.5" cy="430.9" r="0.53" fill="#d8202e" opacity="0.48"/>
<circle cx="459.3" cy="427.8" r="0.99" fill="#d8202e" opacity="0.47"/>
<circle cx="455.5" cy="438.0" r="0.91" fill="#d8202e" opacity="0.49"/>
<circle cx="454.8" cy="436.2" r="0.58" fill="#d8202e" opacity="0.43"/>
<circle cx="457.3" cy="436.0" r="0.54" fill="#d8202e" opacity="0.49"/>
<circle cx="456.5" cy="433.0" r="0.74" fill="#d8202e" opacity="0.74"/>
<circle cx="456.0" cy="433.9" r="0.50" fill="#d8202e" opacity="0.51"/>
<circle cx="455.7" cy="437.8" r="0.76" fill="#d8202e" opacity="0.47"/>
<circle cx="435.2" cy="434.8" r="0.76" fill="#c02040" opacity="0.39"/>
<circle cx="433.4" cy="429.0" r="0.64" fill="#c02040" opacity="0.33"/>
<circle cx="445.6" cy="440.0" r="0.67" fill="#c02040" opacity="0.38"/>
<circle cx="436.2" cy="434.6" r="0.72" fill="#c02040" opacity="0.58"/>
<circle cx="436.8" cy="437.4" r="0.39" fill="#c02040" opacity="0.54"/>
<circle cx="434.5" cy="426.4" r="0.66" fill="#c02040" opacity="0.47"/>
<circle cx="434.7" cy="424.6" r="0.59" fill="#c02040" opacity="0.56"/>
<circle cx="434.8" cy="431.8" r="0.39" fill="#c02040" opacity="0.58"/>
<circle cx="435.5" cy="436.0" r="0.42" fill="#c02040" opacity="0.54"/>
<circle cx="432.9" cy="427.8" r="0.37" fill="#c02040" opacity="0.41"/>
<circle cx="444.9" cy="440.6" r="0.51" fill="#c02040" opacity="0.59"/>
<circle cx="437.6" cy="437.5" r="0.72" fill="#c02040" opacity="0.37"/>
<circle cx="434.4" cy="434.2" r="0.58" fill="#c02040" opacity="0.41"/>
<circle cx="439.8" cy="439.1" r="0.44" fill="#c02040" opacity="0.48"/>
<circle cx="435.2" cy="433.8" r="0.41" fill="#c02040" opacity="0.50"/>
<circle cx="434.3" cy="425.4" r="0.50" fill="#c02040" opacity="0.57"/>
</g>
<path d="M440 415.5 C446 414 453 416 456 421 C458.5 427 457 434 452 438.5 C447.5 441.5 441 441 437.5 437 C434.5 432 435 422 440 415.5Z" fill="url(#nuc)" filter="url(#b04)"/>
<circle cx="446.3" cy="426.5" r="1.1" fill="#20205a" filter="url(#b04)"/>
<rect x="467.1" y="403.9" width="41.7" height="41.7" fill="#050308"/>
<ellipse cx="488.7" cy="427" rx="11.5" ry="11.5" fill="#3a1040" opacity="0.7" filter="url(#b12)"/>
<g filter="url(#b04)">
<circle cx="481.0" cy="434.6" r="0.58" fill="#d8202e" opacity="0.51"/>
<circle cx="478.2" cy="427.3" r="0.66" fill="#d8202e" opacity="0.62"/>
<circle cx="480.3" cy="432.4" r="0.76" fill="#d8202e" opacity="0.56"/>
<circle cx="478.6" cy="422.4" r="0.84" fill="#d8202e" opacity="0.83"/>
<circle cx="480.8" cy="433.0" r="0.78" fill="#d8202e" opacity="0.67"/>
<circle cx="480.6" cy="434.2" r="0.85" fill="#d8202e" opacity="0.78"/>
<circle cx="480.9" cy="433.5" r="0.42" fill="#d8202e" opacity="0.84"/>
<circle cx="480.2" cy="433.9" r="0.68" fill="#d8202e" opacity="0.68"/>
<circle cx="477.6" cy="426.3" r="0.71" fill="#d8202e" opacity="0.55"/>
<circle cx="482.5" cy="435.4" r="0.87" fill="#d8202e" opacity="0.49"/>
<circle cx="479.0" cy="422.3" r="0.50" fill="#d8202e" opacity="0.51"/>
<circle cx="479.4" cy="422.4" r="0.62" fill="#d8202e" opacity="0.63"/>
<circle cx="482.6" cy="436.0" r="0.71" fill="#d8202e" opacity="0.65"/>
<circle cx="478.4" cy="431.2" r="0.82" fill="#d8202e" opacity="0.66"/>
<circle cx="483.4" cy="435.3" r="0.49" fill="#d8202e" opacity="0.46"/>
<circle cx="478.8" cy="423.2" r="0.52" fill="#d8202e" opacity="0.81"/>
<circle cx="478.2" cy="423.5" r="0.82" fill="#d8202e" opacity="0.71"/>
<circle cx="477.3" cy="426.3" r="0.49" fill="#d8202e" opacity="0.72"/>
<circle cx="482.5" cy="418.6" r="0.82" fill="#d8202e" opacity="0.50"/>
<circle cx="478.9" cy="429.0" r="0.61" fill="#d8202e" opacity="0.72"/>
<circle cx="482.1" cy="434.8" r="0.83" fill="#d8202e" opacity="0.55"/>
<circle cx="481.7" cy="436.1" r="0.69" fill="#d8202e" opacity="0.43"/>
<circle cx="479.1" cy="425.3" r="0.50" fill="#d8202e" opacity="0.74"/>
<circle cx="479.1" cy="423.2" r="0.67" fill="#d8202e" opacity="0.66"/>
<circle cx="479.0" cy="428.0" r="0.80" fill="#d8202e" opacity="0.75"/>
<circle cx="499.1" cy="431.1" r="0.58" fill="#e02040" opacity="0.45"/>
<circle cx="499.9" cy="424.5" r="0.48" fill="#e02040" opacity="0.34"/>
<circle cx="497.8" cy="422.0" r="0.50" fill="#e02040" opacity="0.38"/>
<circle cx="495.8" cy="419.3" r="0.49" fill="#e02040" opacity="0.47"/>
<circle cx="496.9" cy="421.1" r="0.45" fill="#e02040" opacity="0.46"/>
<circle cx="499.5" cy="424.4" r="0.70" fill="#e02040" opacity="0.42"/>
<circle cx="496.1" cy="418.7" r="0.68" fill="#e02040" opacity="0.42"/>
<circle cx="498.6" cy="430.4" r="0.74" fill="#e02040" opacity="0.55"/>
<circle cx="498.1" cy="433.6" r="0.46" fill="#e02040" opacity="0.46"/>
<circle cx="498.6" cy="432.2" r="0.52" fill="#e02040" opacity="0.34"/>
<circle cx="498.5" cy="429.7" r="0.66" fill="#e02040" opacity="0.30"/>
<circle cx="499.4" cy="426.0" r="0.41" fill="#e02040" opacity="0.44"/>
</g>
<path d="M499.03 421.82C499.09 422.36 499.32 422.55 499.25 423.60C499.18 424.65 499.22 424.37 498.79 425.32C498.37 426.26 498.46 425.96 497.83 426.75C497.19 427.54 497.39 427.26 496.68 427.94C495.96 428.63 496.25 428.44 495.43 429.03C494.61 429.63 494.92 429.54 493.95 429.93C492.98 430.32 493.27 430.27 492.20 430.33C491.13 430.40 491.44 430.40 490.40 430.13C489.35 429.87 489.66 429.98 488.71 429.46C487.77 428.94 488.01 429.15 487.24 428.41C486.48 427.67 486.65 427.92 486.16 426.99C485.67 426.06 485.80 426.33 485.62 425.31C485.44 424.30 485.51 424.62 485.55 423.60C485.60 422.58 485.54 422.92 485.77 421.93C486.00 420.94 485.84 421.21 486.31 420.30C486.78 419.38 486.58 419.59 487.34 418.88C488.10 418.17 487.88 418.36 488.83 417.93C489.78 417.50 489.49 417.65 490.50 417.44C491.51 417.23 491.17 417.27 492.20 417.23C493.23 417.18 492.91 417.11 493.95 417.27C494.98 417.44 494.70 417.32 495.66 417.78C496.62 418.24 496.36 418.08 497.14 418.80C497.93 419.53 497.71 419.29 498.27 420.20C498.84 421.10 498.73 420.80 499.03 421.82C499.32 422.85 499.32 422.55 499.25 423.60C499.18 424.65 499.22 424.37 498.79 425.32C498.37 426.26 498.12 426.32 497.83 426.75" fill="url(#nuc)" filter="url(#b04)"/>
<path d="M491.61 428.94C491.59 429.44 491.70 429.64 491.54 430.60C491.38 431.56 491.41 431.25 491.07 432.13C490.73 433.01 490.89 432.73 490.41 433.54C489.94 434.34 490.15 434.13 489.50 434.82C488.84 435.52 489.07 435.34 488.23 435.86C487.40 436.38 487.67 436.24 486.70 436.56C485.73 436.89 486.05 436.84 485.00 436.94C483.95 437.04 484.25 437.10 483.20 436.90C482.16 436.70 482.41 436.81 481.52 436.27C480.62 435.72 480.86 435.87 480.22 435.09C479.59 434.30 479.81 434.52 479.39 433.64C478.97 432.76 479.09 433.07 478.83 432.15C478.57 431.24 478.57 431.55 478.51 430.60C478.45 429.65 478.39 429.92 478.64 429.00C478.88 428.07 478.79 428.33 479.32 427.52C479.86 426.71 479.69 426.96 480.42 426.29C481.14 425.63 480.88 425.81 481.75 425.31C482.61 424.80 482.32 424.89 483.29 424.61C484.27 424.33 483.98 424.37 485.00 424.38C486.02 424.38 485.71 424.38 486.70 424.62C487.70 424.87 487.38 424.77 488.31 425.21C489.25 425.65 489.00 425.44 489.81 426.08C490.62 426.72 490.47 426.48 491.01 427.34C491.55 428.19 491.45 427.96 491.61 428.94C491.77 429.91 491.70 429.64 491.54 430.60C491.38 431.56 491.41 431.25 491.07 432.13C490.73 433.01 490.61 433.11 490.41 433.54" fill="url(#nuc)" filter="url(#b04)"/>
<path d="M481 421.5 Q485.5 424.5 487.5 427 Q490 430.5 495.5 432" stroke="#12123a" stroke-width="1" fill="none" filter="url(#b04)"/>
<rect x="481.7" y="437.6" width="16.5" height="1.6" fill="#f4f4f4"/>
<line x1="209.00" y1="449.20" x2="503.00" y2="449.20" stroke="#222" stroke-width="1.1" />
<path d="M498.6 446.4L505.8 449.2L498.6 452Z" fill="#222"/>
<text x="436.00" y="460.30" font-size="8.4" text-anchor="start" fill="#161616" font-weight="normal" textLength="69.4" lengthAdjust="spacingAndGlyphs" >Cell cycle entrance</text>
<text x="417.9" y="397.2" font-size="8.4" fill="#161616" textLength="80.6" lengthAdjust="spacingAndGlyphs"><tspan fill="#c0163f" stroke="#c0163f">CDK6</tspan> / <tspan fill="#3b5aa6" stroke="#3b5aa6">DAPI</tspan> / <tspan fill="#6b3d8e" stroke="#6b3d8e">Merge</tspan></text>
<text x="174.40" y="482.30" font-size="12" text-anchor="start" fill="#000" font-weight="bold" class="L" >G</text>
<text x="200.3" y="498.2" font-size="8.6" fill="#161616">x10<tspan font-size="6" dy="-3.6">6</tspan></text>
<line x1="218.00" y1="505.20" x2="218.00" y2="604.20" stroke="#141414" stroke-width="1.3" />
<line x1="215.00" y1="604.20" x2="218.00" y2="604.20" stroke="#141414" stroke-width="1" />
<text x="211.20" y="607.30" font-size="8.6" text-anchor="end" fill="#161616" font-weight="normal" >0</text>
<line x1="215.00" y1="580.15" x2="218.00" y2="580.15" stroke="#141414" stroke-width="1" />
<text x="211.20" y="583.25" font-size="8.6" text-anchor="end" fill="#161616" font-weight="normal" >5</text>
<line x1="215.00" y1="556.10" x2="218.00" y2="556.10" stroke="#141414" stroke-width="1" />
<text x="211.20" y="559.20" font-size="8.6" text-anchor="end" fill="#161616" font-weight="normal" >10</text>
<line x1="215.00" y1="532.05" x2="218.00" y2="532.05" stroke="#141414" stroke-width="1" />
<text x="211.20" y="535.15" font-size="8.6" text-anchor="end" fill="#161616" font-weight="normal" >15</text>
<line x1="215.00" y1="508.00" x2="218.00" y2="508.00" stroke="#141414" stroke-width="1" />
<text x="211.20" y="511.10" font-size="8.6" text-anchor="end" fill="#161616" font-weight="normal" >20</text>
<line x1="217.30" y1="604.20" x2="282.50" y2="604.20" stroke="#141414" stroke-width="1.3" />
<line x1="234.00" y1="604.20" x2="234.00" y2="607.20" stroke="#141414" stroke-width="1" />
<line x1="266.00" y1="604.20" x2="266.00" y2="607.20" stroke="#141414" stroke-width="1" />
<line x1="233.40" y1="522.70" x2="266.60" y2="522.70" stroke="#1a1a1a" stroke-width="1.1" />
<text x="250.00" y="522.60" font-size="8" text-anchor="middle" fill="#161616" font-weight="bold" >**</text>
<line x1="223.40" y1="590.00" x2="244.40" y2="590.00" stroke="#1a1a1a" stroke-width="1.2" />
<line x1="233.90" y1="578.70" x2="233.90" y2="601.00" stroke="#1a1a1a" stroke-width="1.2" />
<line x1="228.90" y1="578.70" x2="238.90" y2="578.70" stroke="#1a1a1a" stroke-width="1.2" />
<line x1="228.90" y1="601.00" x2="238.90" y2="601.00" stroke="#1a1a1a" stroke-width="1.2" />
<circle cx="233.90" cy="558.60" r="1.7" fill="#a8123c"/>
<circle cx="233.90" cy="574.30" r="1.7" fill="#a8123c"/>
<circle cx="223.70" cy="590.00" r="1.7" fill="#a8123c"/>
<circle cx="227.60" cy="590.00" r="1.7" fill="#a8123c"/>
<circle cx="231.30" cy="590.00" r="1.7" fill="#a8123c"/>
<circle cx="235.10" cy="590.00" r="1.7" fill="#a8123c"/>
<circle cx="239.00" cy="590.00" r="1.7" fill="#a8123c"/>
<circle cx="243.00" cy="590.00" r="1.7" fill="#a8123c"/>
<circle cx="230.70" cy="597.00" r="1.7" fill="#a8123c"/>
<circle cx="236.90" cy="597.00" r="1.7" fill="#a8123c"/>
<circle cx="230.70" cy="600.50" r="1.7" fill="#a8123c"/>
<circle cx="233.90" cy="600.50" r="1.7" fill="#a8123c"/>
<circle cx="236.90" cy="600.50" r="1.7" fill="#a8123c"/>
<line x1="255.60" y1="576.90" x2="277.00" y2="576.90" stroke="#1a1a1a" stroke-width="1.3" />
<line x1="266.00" y1="558.20" x2="266.00" y2="595.30" stroke="#1a1a1a" stroke-width="1.3" />
<line x1="261.15" y1="558.20" x2="270.85" y2="558.20" stroke="#1a1a1a" stroke-width="1.3" />
<line x1="261.15" y1="595.30" x2="270.85" y2="595.30" stroke="#1a1a1a" stroke-width="1.3" />
<rect x="264.5" y="532.6" width="2.8" height="2.8" fill="#fff" fill-opacity="0.5" stroke="#27488a" stroke-width="0.9"/>
<rect x="262.5" y="545.7" width="2.8" height="2.8" fill="#fff" fill-opacity="0.5" stroke="#27488a" stroke-width="0.9"/>
<rect x="266.6" y="544.7" width="2.8" height="2.8" fill="#fff" fill-opacity="0.5" stroke="#27488a" stroke-width="0.9"/>
<rect x="262.5" y="553.2" width="2.8" height="2.8" fill="#fff" fill-opacity="0.5" stroke="#27488a" stroke-width="0.9"/>
<rect x="266.6" y="552.2" width="2.8" height="2.8" fill="#fff" fill-opacity="0.5" stroke="#27488a" stroke-width="0.9"/>
<rect x="262.5" y="555.2" width="2.8" height="2.8" fill="#fff" fill-opacity="0.5" stroke="#27488a" stroke-width="0.9"/>
<rect x="266.6" y="555.0" width="2.8" height="2.8" fill="#fff" fill-opacity="0.5" stroke="#27488a" stroke-width="0.9"/>
<rect x="270.7" y="555.3" width="2.8" height="2.8" fill="#fff" fill-opacity="0.5" stroke="#27488a" stroke-width="0.9"/>
<rect x="262.5" y="563.1" width="2.8" height="2.8" fill="#fff" fill-opacity="0.5" stroke="#27488a" stroke-width="0.9"/>
<rect x="266.6" y="564.0" width="2.8" height="2.8" fill="#fff" fill-opacity="0.5" stroke="#27488a" stroke-width="0.9"/>
<rect x="264.5" y="569.6" width="2.8" height="2.8" fill="#fff" fill-opacity="0.5" stroke="#27488a" stroke-width="0.9"/>
<rect x="259.1" y="583.0" width="2.8" height="2.8" fill="#fff" fill-opacity="0.5" stroke="#27488a" stroke-width="0.9"/>
<rect x="262.5" y="581.3" width="2.8" height="2.8" fill="#fff" fill-opacity="0.5" stroke="#27488a" stroke-width="0.9"/>
<rect x="266.6" y="580.1" width="2.8" height="2.8" fill="#fff" fill-opacity="0.5" stroke="#27488a" stroke-width="0.9"/>
<rect x="270.7" y="580.5" width="2.8" height="2.8" fill="#fff" fill-opacity="0.5" stroke="#27488a" stroke-width="0.9"/>
<rect x="262.5" y="584.5" width="2.8" height="2.8" fill="#fff" fill-opacity="0.5" stroke="#27488a" stroke-width="0.9"/>
<rect x="266.6" y="583.5" width="2.8" height="2.8" fill="#fff" fill-opacity="0.5" stroke="#27488a" stroke-width="0.9"/>
<rect x="270.7" y="583.8" width="2.8" height="2.8" fill="#fff" fill-opacity="0.5" stroke="#27488a" stroke-width="0.9"/>
<rect x="259.1" y="586.7" width="2.8" height="2.8" fill="#fff" fill-opacity="0.5" stroke="#27488a" stroke-width="0.9"/>
<rect x="262.5" y="587.6" width="2.8" height="2.8" fill="#fff" fill-opacity="0.5" stroke="#27488a" stroke-width="0.9"/>
<rect x="267.2" y="586.9" width="2.8" height="2.8" fill="#fff" fill-opacity="0.5" stroke="#27488a" stroke-width="0.9"/>
<rect x="270.7" y="587.6" width="2.8" height="2.8" fill="#fff" fill-opacity="0.5" stroke="#27488a" stroke-width="0.9"/>
<rect x="255.4" y="589.7" width="2.8" height="2.8" fill="#fff" fill-opacity="0.5" stroke="#27488a" stroke-width="0.9"/>
<rect x="259.1" y="589.7" width="2.8" height="2.8" fill="#fff" fill-opacity="0.5" stroke="#27488a" stroke-width="0.9"/>
<rect x="262.5" y="590.4" width="2.8" height="2.8" fill="#fff" fill-opacity="0.5" stroke="#27488a" stroke-width="0.9"/>
<rect x="267.2" y="589.7" width="2.8" height="2.8" fill="#fff" fill-opacity="0.5" stroke="#27488a" stroke-width="0.9"/>
<rect x="270.7" y="590.1" width="2.8" height="2.8" fill="#fff" fill-opacity="0.5" stroke="#27488a" stroke-width="0.9"/>
<rect x="274.0" y="589.7" width="2.8" height="2.8" fill="#fff" fill-opacity="0.5" stroke="#27488a" stroke-width="0.9"/>
<rect x="259.1" y="592.6" width="2.8" height="2.8" fill="#fff" fill-opacity="0.5" stroke="#27488a" stroke-width="0.9"/>
<rect x="266.6" y="591.9" width="2.8" height="2.8" fill="#fff" fill-opacity="0.5" stroke="#27488a" stroke-width="0.9"/>
<rect x="262.5" y="597.5" width="2.8" height="2.8" fill="#fff" fill-opacity="0.5" stroke="#27488a" stroke-width="0.9"/>
<rect x="266.6" y="596.6" width="2.8" height="2.8" fill="#fff" fill-opacity="0.5" stroke="#27488a" stroke-width="0.9"/>
<rect x="262.5" y="600.0" width="2.8" height="2.8" fill="#fff" fill-opacity="0.5" stroke="#27488a" stroke-width="0.9"/>
<rect x="266.6" y="599.6" width="2.8" height="2.8" fill="#fff" fill-opacity="0.5" stroke="#27488a" stroke-width="0.9"/>
<rect x="262.5" y="601.8" width="2.8" height="2.8" fill="#fff" fill-opacity="0.5" stroke="#27488a" stroke-width="0.9"/>
<text x="189.00" y="618.20" font-size="8.4" text-anchor="start" fill="#161616" font-weight="normal" >MMP:</text>
<text x="234.00" y="618.20" font-size="8.4" text-anchor="middle" fill="#161616" font-weight="normal" >Low</text>
<text x="266.20" y="618.20" font-size="8.4" text-anchor="middle" fill="#161616" font-weight="normal" >High</text>
<text x="196.60" y="554.70" font-size="10.6" text-anchor="middle" fill="#161616" font-weight="normal" textLength="88.2" lengthAdjust="spacingAndGlyphs" transform="rotate(-90 196.60 554.70)" class="t" >CDK6 fluorescence intensity</text>
<text x="315.80" y="482.90" font-size="12" text-anchor="start" fill="#000" font-weight="bold" class="L" >H</text>
<text x="336.20" y="496.30" font-size="8.4" text-anchor="start" fill="#161616" font-weight="normal" textLength="23" lengthAdjust="spacingAndGlyphs" >x1000</text>
<line x1="358.60" y1="503.30" x2="358.60" y2="604.10" stroke="#141414" stroke-width="1.3" />
<line x1="355.60" y1="604.10" x2="358.60" y2="604.10" stroke="#141414" stroke-width="1" />
<text x="353.00" y="607.20" font-size="8.6" text-anchor="end" fill="#161616" font-weight="normal" >0</text>
<line x1="355.60" y1="584.50" x2="358.60" y2="584.50" stroke="#141414" stroke-width="1" />
<text x="353.00" y="587.60" font-size="8.6" text-anchor="end" fill="#161616" font-weight="normal" >2</text>
<line x1="355.60" y1="564.90" x2="358.60" y2="564.90" stroke="#141414" stroke-width="1" />
<text x="353.00" y="568.00" font-size="8.6" text-anchor="end" fill="#161616" font-weight="normal" >4</text>
<line x1="355.60" y1="545.30" x2="358.60" y2="545.30" stroke="#141414" stroke-width="1" />
<text x="353.00" y="548.40" font-size="8.6" text-anchor="end" fill="#161616" font-weight="normal" >6</text>
<line x1="355.60" y1="525.70" x2="358.60" y2="525.70" stroke="#141414" stroke-width="1" />
<text x="353.00" y="528.80" font-size="8.6" text-anchor="end" fill="#161616" font-weight="normal" >8</text>
<line x1="355.60" y1="506.10" x2="358.60" y2="506.10" stroke="#141414" stroke-width="1" />
<text x="353.00" y="509.20" font-size="8.6" text-anchor="end" fill="#161616" font-weight="normal" >10</text>
<line x1="358.00" y1="604.10" x2="424.60" y2="604.10" stroke="#141414" stroke-width="1.3" />
<line x1="375.50" y1="604.10" x2="375.50" y2="607.10" stroke="#141414" stroke-width="1" />
<line x1="408.10" y1="604.10" x2="408.10" y2="607.10" stroke="#141414" stroke-width="1" />
<path d="M375.5 569.2C372.5 572.5 367.5 574 365.3 576C366.5 577.6 367.0 578 366.7 578.6C366.0 579.5 365.2 580.3 365.5 580.9C368.5 583 372.5 584.3 375.5 587C378.5 584.3 382.5 583 385.5 580.9C385.8 580.3 385.0 579.5 384.3 578.6C384.0 578 384.5 577.6 385.7 576C383.5 574 378.5 572.5 375.5 569.2Z" stroke="#111" stroke-width="1" fill="none" />
<line x1="367.00" y1="578.50" x2="384.00" y2="578.50" stroke="#444" stroke-width="0.9" stroke-dasharray="2.2,1.4" />
<line x1="367.00" y1="576.00" x2="384.00" y2="576.00" stroke="#e02050" stroke-width="0.9" stroke-dasharray="0.8,1.2" />
<line x1="367.00" y1="581.40" x2="384.00" y2="581.40" stroke="#e02050" stroke-width="0.9" stroke-dasharray="0.8,1.2" />
<path d="M408.10 527.50C408.31 528.32 408.63 529.48 409.00 531.00C409.37 532.52 409.51 532.41 409.70 534.00C409.89 535.59 409.99 536.28 409.80 537.80C409.61 539.32 409.18 539.38 408.90 540.50C408.62 541.62 408.51 541.74 408.60 542.60C408.69 543.46 409.04 543.41 409.30 544.20C409.56 544.99 409.77 545.00 409.70 546.00C409.63 547.00 409.23 547.33 409.00 548.50C408.77 549.67 408.54 549.48 408.70 551.00C408.86 552.52 409.14 552.90 409.70 555.00C410.26 557.10 410.52 557.95 411.10 560.00C411.68 562.05 411.87 562.17 412.20 563.80C412.53 565.43 412.36 565.55 412.50 567.00C412.64 568.45 412.01 568.20 412.80 570.00C413.59 571.80 414.66 572.83 415.90 574.70C417.14 576.57 417.40 576.41 418.10 578.00C418.80 579.59 418.95 579.87 418.90 581.50C418.85 583.13 418.83 583.39 417.90 585.00C416.97 586.61 416.37 587.00 414.90 588.40C413.43 589.80 412.95 589.81 411.60 591.00C410.25 592.19 409.92 592.68 409.10 593.50C408.28 594.32 408.33 594.27 408.10 594.50L408.10 594.50C407.87 594.27 407.92 594.32 407.10 593.50C406.28 592.68 405.95 592.19 404.60 591.00C403.25 589.81 402.77 589.80 401.30 588.40C399.83 587.00 399.23 586.61 398.30 585.00C397.37 583.39 397.35 583.13 397.30 581.50C397.25 579.87 397.40 579.59 398.10 578.00C398.80 576.41 399.06 576.57 400.30 574.70C401.54 572.83 402.61 571.80 403.40 570.00C404.19 568.20 403.56 568.45 403.70 567.00C403.84 565.55 403.67 565.43 404.00 563.80C404.33 562.17 404.52 562.05 405.10 560.00C405.68 557.95 405.94 557.10 406.50 555.00C407.06 552.90 407.34 552.52 407.50 551.00C407.66 549.48 407.43 549.67 407.20 548.50C406.97 547.33 406.57 547.00 406.50 546.00C406.43 545.00 406.64 544.99 406.90 544.20C407.16 543.41 407.51 543.46 407.60 542.60C407.69 541.74 407.58 541.62 407.30 540.50C407.02 539.38 406.59 539.32 406.40 537.80C406.21 536.28 406.31 535.59 406.50 534.00C406.69 532.41 406.83 532.52 407.20 531.00C407.57 529.48 407.89 528.32 408.10 527.50Z" stroke="#111" stroke-width="1" fill="none" />
<line x1="408.10" y1="594.00" x2="408.10" y2="598.80" stroke="#111" stroke-width="1" />
<line x1="399.50" y1="578.50" x2="416.70" y2="578.50" stroke="#444" stroke-width="0.9" stroke-dasharray="2.2,1.4" />
<line x1="405.60" y1="568.50" x2="410.90" y2="568.50" stroke="#e02050" stroke-width="0.9" stroke-dasharray="0.8,1.2" />
<line x1="400.30" y1="583.60" x2="416.70" y2="583.60" stroke="#e02050" stroke-width="0.9" stroke-dasharray="0.8,1.2" />
<text x="331.00" y="618.20" font-size="8.4" text-anchor="start" fill="#161616" font-weight="normal" >MMP:</text>
<text x="375.30" y="618.20" font-size="8.4" text-anchor="middle" fill="#161616" font-weight="normal" >Low</text>
<text x="408.50" y="618.20" font-size="8.4" text-anchor="middle" fill="#161616" font-weight="normal" >High</text>
<text x="337.60" y="553.80" font-size="10.6" text-anchor="middle" fill="#161616" font-weight="normal" textLength="40" lengthAdjust="spacingAndGlyphs" transform="rotate(-90 337.60 553.80)" class="t" >Nuclear area</text>
<rect x="0.6" y="0.6" width="518.8" height="627.8" fill="none" stroke="#000" stroke-width="1.2"/>
</svg></body></html>
